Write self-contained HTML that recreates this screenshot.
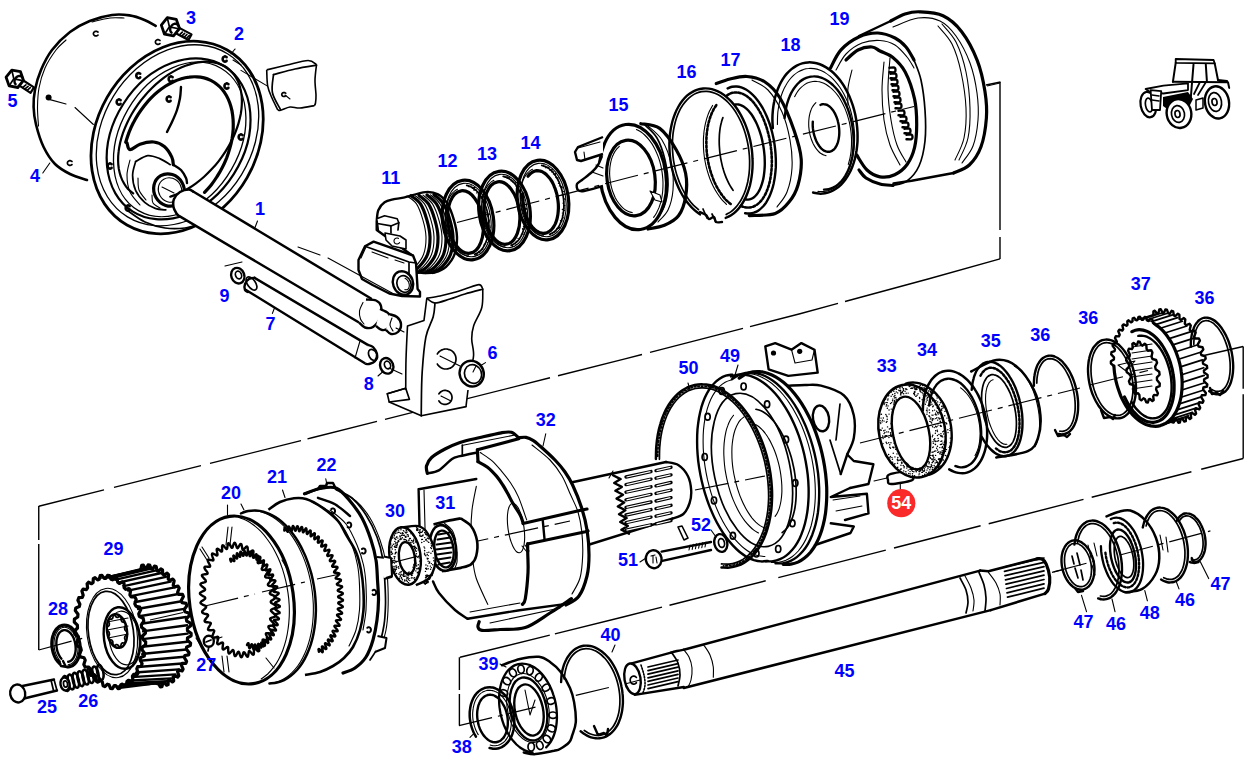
<!DOCTYPE html>
<html><head><meta charset="utf-8"><style>
html,body{margin:0;padding:0;background:#fff;}
body{width:1248px;height:763px;overflow:hidden;}
svg{display:block;}
.lb text{font-family:"Liberation Sans",sans-serif;font-weight:bold;font-size:18px;fill:#0000ff;text-anchor:middle;}
.k{fill:none;stroke:#000;stroke-width:2.4;stroke-linecap:round;stroke-linejoin:round;}
.K{fill:none;stroke:#000;stroke-width:3.2;stroke-linecap:round;stroke-linejoin:round;}
.m{fill:none;stroke:#000;stroke-width:1.7;stroke-linecap:round;stroke-linejoin:round;}
.t{fill:none;stroke:#000;stroke-width:1.1;stroke-linecap:round;stroke-linejoin:round;}
.kw{fill:#fff;stroke:#000;stroke-width:2.4;stroke-linejoin:round;}
.mw{fill:#fff;stroke:#000;stroke-width:1.6;stroke-linejoin:round;}
.tw{fill:#fff;stroke:#000;stroke-width:1.1;stroke-linejoin:round;}
.f{fill:#000;stroke:none;}
.w{fill:#fff;stroke:none;}
.fr{fill:none;stroke:#000;stroke-width:1.3;stroke-dasharray:90 8;}
.fr2{fill:none;stroke:#000;stroke-width:1.4;stroke-linecap:butt;}
.ax{fill:none;stroke:#000;stroke-width:1.2;stroke-dasharray:34 6 5 6;}
.ds{fill:none;stroke:#000;stroke-width:1.1;stroke-dasharray:9 6;}
</style></head><body>
<svg width="1248" height="763" viewBox="0 0 1248 763">
<path class="fr2" d="M986,85L1000.5,82"/>
<path class="fr2" d="M1000,82.0L1000,230.0M1000,237.0L1000,259.0"/>
<path class="fr2" d="M38.8,506.2 L104.0,489.9M114.0,487.4 L201.0,465.6M210.0,463.4 L301.0,440.6M307.5,438.9 L312.0,437.8 L377.0,421.4M385.0,419.4 L550.0,377.8M558.0,375.7 L624.0,359.1 L642.0,354.5M650.0,352.4 L743.0,328.4M750.0,326.6 L800.0,313.7 L838.0,303.4M845.0,301.5 L929.0,278.8 L1000.0,258.8"/>
<path class="fr2" d="M38.75,506.0L38.75,540.0M38.75,544.0L38.75,650.0"/>
<path class="fr2" d="M1202.8,355.7L1243.2,346.5"/>
<path class="fr2" d="M1243.2,346.5L1243.2,388.7M1243.2,394.2L1243.2,458.5"/>
<path class="fr2" d="M460.0,657.3 L549.8,635.1M554.9,633.9 L624.0,616.8 L662.0,607.1M669.5,605.2 L765.7,580.8M778.3,577.6 L800.0,572.1 L885.8,550.1M894.0,548.0 L980.6,525.8M988.7,523.7 L1083.5,499.4M1091.7,497.3 L1191.4,471.8M1201.2,469.3 L1243.2,458.5"/>
<path class="fr2" d="M459.4,657.3L459.4,690.0M459.4,694.0L459.4,725.6"/>
<path class="k" d="M87,180C84.2,179 75.3,176.7 70,174C64.7,171.3 59.4,168.5 55,164C50.6,159.5 46.8,153.6 43.6,147C40.4,140.4 37.7,131.2 36,124.5C34.3,117.8 33.8,112.8 33.6,107C33.4,101.2 33.8,95.9 35,89.7C36.2,83.5 38.2,76.6 41,70C43.8,63.4 47.2,56.3 52,50C56.8,43.7 63.7,36.8 70,32C76.3,27.2 82.7,23.8 89.7,21C96.7,18.2 105.4,15.9 112,15C118.6,14.1 124.1,14.6 129.5,15.4C134.9,16.2 140.1,18.2 144.5,20C148.9,21.8 153.8,25 155.7,26" style="stroke-width:2.6"/>
<path class="t" d="M38.5,126C38.3,122.8 37.4,113.3 37.5,107C37.6,100.7 37.8,94.5 39,88C40.2,81.5 42.2,74.3 45,68C47.8,61.7 52.5,54.7 56,50C59.5,45.3 64.3,41.7 66,40"/>
<path class="t" d="M92,22C95,21.3 104.7,18.7 110,18C115.3,17.3 121.7,18 124,18"/>
<path class="m" d="M98,35.1C97.9,35.1 97.8,35.3 97.7,35.3C97.7,35.4 97.6,35.5 97.5,35.5C97.4,35.6 97.2,35.7 97.1,35.7C97,35.8 96.9,35.8 96.8,35.8C96.7,35.9 96.6,35.9 96.5,35.9C96.3,35.9 96.2,35.9 96.1,35.9C96,35.9 95.8,35.9 95.7,35.9C95.6,35.9 95.5,35.9 95.4,35.9C95.3,35.8 95.1,35.8 95,35.8C94.9,35.7 94.8,35.7 94.7,35.6C94.6,35.6 94.5,35.5 94.4,35.4C94.3,35.4 94.2,35.3 94.1,35.2C94,35.1 94,35.1 93.9,35C93.8,34.9 93.8,34.8 93.7,34.7C93.6,34.6 93.6,34.5 93.6,34.4C93.5,34.3 93.5,34.2 93.5,34.1C93.4,34 93.4,33.9 93.4,33.8C93.4,33.7 93.4,33.5 93.4,33.4C93.4,33.3 93.4,33.2 93.5,33.1C93.5,33 93.5,32.9 93.6,32.8C93.6,32.7 93.6,32.6 93.7,32.5C93.8,32.4 93.8,32.3 93.9,32.2C94,32.1 94,32.1 94.1,32C94.2,31.9 94.3,31.8 94.4,31.8C94.5,31.7 94.6,31.6 94.7,31.6C94.8,31.5 94.9,31.5 95,31.4C95.1,31.4 95.3,31.4 95.4,31.3C95.5,31.3 95.6,31.3 95.7,31.3C95.8,31.3 96,31.3 96.1,31.3C96.2,31.3 96.3,31.3 96.5,31.3C96.6,31.3 96.7,31.3 96.8,31.4C96.9,31.4 97,31.4 97.1,31.5C97.2,31.5 97.4,31.6 97.5,31.7C97.6,31.7 97.7,31.8 97.7,31.9C97.8,31.9 97.9,32.1 98,32.1"/>
<path class="m" d="M160,43.5C159.9,43.5 159.8,43.7 159.7,43.7C159.7,43.8 159.6,43.9 159.5,43.9C159.4,44 159.2,44.1 159.1,44.1C159,44.2 158.9,44.2 158.8,44.2C158.7,44.3 158.6,44.3 158.5,44.3C158.3,44.3 158.2,44.3 158.1,44.3C158,44.3 157.8,44.3 157.7,44.3C157.6,44.3 157.5,44.3 157.4,44.3C157.3,44.2 157.1,44.2 157,44.2C156.9,44.1 156.8,44.1 156.7,44C156.6,44 156.5,43.9 156.4,43.8C156.3,43.8 156.2,43.7 156.1,43.6C156,43.5 156,43.5 155.9,43.4C155.8,43.3 155.8,43.2 155.7,43.1C155.6,43 155.6,42.9 155.6,42.8C155.5,42.7 155.5,42.6 155.5,42.5C155.4,42.4 155.4,42.3 155.4,42.2C155.4,42.1 155.4,41.9 155.4,41.8C155.4,41.7 155.4,41.6 155.5,41.5C155.5,41.4 155.5,41.3 155.6,41.2C155.6,41.1 155.6,41 155.7,40.9C155.8,40.8 155.8,40.7 155.9,40.6C156,40.5 156,40.5 156.1,40.4C156.2,40.3 156.3,40.2 156.4,40.2C156.5,40.1 156.6,40 156.7,40C156.8,39.9 156.9,39.9 157,39.8C157.1,39.8 157.3,39.8 157.4,39.7C157.5,39.7 157.6,39.7 157.7,39.7C157.8,39.7 158,39.7 158.1,39.7C158.2,39.7 158.3,39.7 158.5,39.7C158.6,39.7 158.7,39.7 158.8,39.8C158.9,39.8 159,39.8 159.1,39.9C159.2,39.9 159.4,40 159.5,40.1C159.6,40.1 159.7,40.2 159.7,40.3C159.8,40.3 159.9,40.5 160,40.5"/>
<path class="m" d="M72,164.5C71.9,164.5 71.8,164.7 71.7,164.7C71.7,164.8 71.6,164.9 71.5,164.9C71.4,165 71.2,165.1 71.1,165.1C71,165.2 70.9,165.2 70.8,165.2C70.7,165.3 70.6,165.3 70.5,165.3C70.3,165.3 70.2,165.3 70.1,165.3C70,165.3 69.8,165.3 69.7,165.3C69.6,165.3 69.5,165.3 69.4,165.3C69.3,165.2 69.1,165.2 69,165.2C68.9,165.1 68.8,165.1 68.7,165C68.6,165 68.5,164.9 68.4,164.8C68.3,164.8 68.2,164.7 68.1,164.6C68,164.5 68,164.5 67.9,164.4C67.8,164.3 67.8,164.2 67.7,164.1C67.6,164 67.6,163.9 67.6,163.8C67.5,163.7 67.5,163.6 67.5,163.5C67.4,163.4 67.4,163.3 67.4,163.2C67.4,163.1 67.4,162.9 67.4,162.8C67.4,162.7 67.4,162.6 67.5,162.5C67.5,162.4 67.5,162.3 67.6,162.2C67.6,162.1 67.6,162 67.7,161.9C67.8,161.8 67.8,161.7 67.9,161.6C68,161.5 68,161.5 68.1,161.4C68.2,161.3 68.3,161.2 68.4,161.2C68.5,161.1 68.6,161 68.7,161C68.8,160.9 68.9,160.9 69,160.8C69.1,160.8 69.3,160.8 69.4,160.7C69.5,160.7 69.6,160.7 69.7,160.7C69.8,160.7 70,160.7 70.1,160.7C70.2,160.7 70.3,160.7 70.5,160.7C70.6,160.7 70.7,160.7 70.8,160.8C70.9,160.8 71,160.8 71.1,160.9C71.2,160.9 71.4,161 71.5,161.1C71.6,161.1 71.7,161.2 71.7,161.3C71.8,161.3 71.9,161.5 72,161.5"/>
<circle class="f" cx="48.6" cy="97.6" r="3"/>
<path class="t" d="M50,99.6L66,104 M75,107.5L93.4,124.5"/>
<path class="t" d="M42.8,173L49.8,163"/>
<path class="kw" d="M16.7,83.9 L30.5,92.8 L34,87.4 L20.2,78.5Z" style="stroke-width:2.2"/>
<path class="m" d="M22.8,87.4L25.9,84.9"/>
<path class="m" d="M25.0,88.8L28.1,86.3"/>
<path class="m" d="M27.2,90.3L30.3,87.7"/>
<path class="kw" d="M23.5,80.4 L17.8,87.5 L9.1,85.9 L6.1,77.2 L11.8,70.1 L20.5,71.7Z" style="stroke-width:2.8"/>
<path class="m" d="M11.8,70.1L13.8,78.8 L9.1,85.9 M13.8,78.8L21.5,80.4"/>
<path class="k" d="M15.6,84.2C15.5,84.1 15.3,83.9 15.2,83.8C15.1,83.6 15,83.4 14.9,83.3C14.8,83.1 14.8,82.9 14.7,82.7C14.7,82.5 14.6,82.3 14.6,82.1C14.5,81.9 14.5,81.7 14.5,81.5C14.5,81.3 14.5,81.1 14.5,80.9C14.6,80.7 14.6,80.5 14.7,80.2C14.7,80 14.8,79.8 14.8,79.6C14.9,79.4 15,79.2 15.1,79C15.2,78.8 15.3,78.6 15.4,78.4C15.6,78.2 15.7,78 15.8,77.9C16,77.7 16.1,77.5 16.3,77.4C16.5,77.2 16.6,77.1 16.8,76.9C17,76.8 17.2,76.7 17.3,76.6C17.5,76.5 17.7,76.4 17.9,76.3C18.1,76.2 18.3,76.2 18.5,76.1C18.7,76 18.9,76 19.1,76C19.3,76 19.5,76 19.7,76C19.9,76 20.1,76 20.2,76C20.4,76.1 20.6,76.1 20.8,76.2C21,76.3 21.1,76.3 21.3,76.4C21.4,76.5 21.6,76.6 21.7,76.7C21.9,76.9 22,77 22.1,77.1C22.2,77.3 22.4,77.4 22.4,77.6C22.5,77.8 22.7,78 22.7,78.1"/>
<path class="kw" d="M173,31.8 L188.5,40 L191.5,34.4 L176,26.1Z" style="stroke-width:2.2"/>
<path class="m" d="M179.5,34.9L182.3,32.1"/>
<path class="m" d="M181.8,36.1L184.6,33.3"/>
<path class="m" d="M184.1,37.3L186.9,34.5"/>
<path class="m" d="M186.4,38.5L189.2,35.7"/>
<path class="kw" d="M179.5,28.5 L173.5,35.9 L164.5,34.2 L161.3,25.1 L167.3,17.7 L176.3,19.4Z" style="stroke-width:2.8"/>
<path class="m" d="M167.3,17.7L169.4,26.8 L164.5,34.2 M169.4,26.8L177.5,28.5"/>
<path class="k" d="M171.6,32.7C171.5,32.6 171.3,32.4 171.2,32.3C171,32.1 170.9,32 170.8,31.8C170.7,31.6 170.6,31.4 170.5,31.3C170.4,31.1 170.4,30.9 170.3,30.7C170.3,30.5 170.2,30.2 170.2,30C170.2,29.8 170.2,29.6 170.2,29.4C170.2,29.1 170.2,28.9 170.2,28.7C170.3,28.5 170.3,28.2 170.4,28C170.4,27.8 170.5,27.6 170.6,27.3C170.7,27.1 170.8,26.9 170.9,26.7C171,26.5 171.1,26.3 171.3,26.1C171.4,25.9 171.5,25.7 171.7,25.5C171.8,25.4 172,25.2 172.2,25C172.3,24.9 172.5,24.8 172.7,24.6C172.9,24.5 173.1,24.4 173.3,24.3C173.5,24.2 173.7,24.1 173.9,24C174.1,23.9 174.3,23.9 174.5,23.8C174.7,23.8 174.9,23.8 175.1,23.8C175.3,23.8 175.5,23.8 175.7,23.8C175.9,23.8 176.1,23.8 176.2,23.9C176.4,24 176.6,24 176.8,24.1C177,24.2 177.1,24.3 177.3,24.4C177.4,24.5 177.6,24.6 177.7,24.8C177.9,24.9 178,25.1 178.1,25.2C178.2,25.4 178.4,25.7 178.4,25.7"/>
<path class="t" d="M235,49L231,54"/>
<ellipse class="k" cx="177.1" cy="137.5" rx="100.9" ry="80.7" transform="rotate(-60.2 177.1 137.5)" style="stroke-width:2.8"/>
<ellipse class="t" cx="177.5" cy="135.3" rx="95.7" ry="75.1" transform="rotate(-58.5 177.5 135.3)" style="stroke-width:1.3"/>
<ellipse class="k" cx="178.6" cy="138.9" rx="85.9" ry="65.4" transform="rotate(-57.5 178.6 138.9)" style="stroke-width:2.2"/>
<ellipse class="t" cx="179.7" cy="139.4" rx="82.3" ry="59.8" transform="rotate(-59.9 179.7 139.4)" style="stroke-width:1.3"/>
<path class="k" d="M133.2,193.4C132.4,192.6 129.6,190.6 128,188.9C126.5,187.2 125.1,185.3 123.9,183.2C122.6,181.1 121.6,178.9 120.8,176.5C119.9,174.1 119.3,171.6 118.8,168.9C118.4,166.3 118.1,163.5 118.1,160.6C118.1,157.7 118.2,154.7 118.6,151.7C118.9,148.6 119.5,145.5 120.2,142.4C121,139.2 121.9,136 123,132.8C124.2,129.6 125.5,126.4 127,123.2C128.5,120 130.1,116.8 131.9,113.7C133.7,110.6 135.7,107.6 137.8,104.6C139.9,101.6 142.2,98.7 144.6,96C146.9,93.2 149.4,90.5 152,88C154.5,85.5 157.2,83.1 159.9,80.9C162.6,78.7 165.4,76.6 168.3,74.7C171.1,72.8 174,71.1 176.8,69.6C179.7,68.1 182.6,66.8 185.5,65.7C188.3,64.7 191.2,63.8 194,63.1C196.8,62.4 199.6,62 202.3,61.8C204.9,61.6 207.6,61.6 210.1,61.8C212.6,62 215,62.5 217.3,63.1C219.6,63.8 221.8,64.7 223.8,65.8C225.9,66.9 227.8,68.2 229.5,69.7C231.2,71.2 232.8,73 234.2,74.8C235.6,76.7 236.8,78.8 237.8,81C238.9,83.2 239.7,85.7 240.3,88.2C241,90.7 241.4,93.4 241.7,96.1C241.9,98.9 242,101.8 241.8,104.8C241.7,107.8 241.3,110.8 240.8,113.9C240.2,117 239.4,120.2 238.5,123.4C237.6,126.6 236.4,129.8 235.1,133C233.8,136.2 232.3,139.4 230.7,142.6C229,145.7 227.2,148.8 225.2,151.9C223.3,154.9 221.1,157.9 218.9,160.8C216.7,163.7 214.3,166.5 211.8,169.1C209.4,171.7 206.8,174.3 204.1,176.7C201.5,179 198.7,181.3 196,183.3C193.2,185.4 190.3,187.3 187.5,189C184.6,190.7 181.7,192.2 178.8,193.5C176,194.8 171.7,196.2 170.2,196.7" style="stroke-width:2.2"/>
<path class="K" d="M125.7,142.3C126.2,140.7 127.7,135.8 128.9,132.6C130.2,129.4 131.6,126.2 133.2,123.1C134.7,120 136.5,117 138.3,114.1C140.2,111.2 142.2,108.4 144.3,105.7C146.4,103.1 148.6,100.5 150.9,98.2C153.2,95.8 155.6,93.6 158.1,91.6C160.6,89.5 163.1,87.7 165.7,86C168.3,84.4 170.9,83 173.5,81.7C176.1,80.5 178.8,79.5 181.4,78.7C184.1,77.9 186.7,77.4 189.3,77.1C191.9,76.7 194.4,76.7 196.9,76.8C199.4,76.9 201.8,77.3 204.1,77.9C206.5,78.5 208.7,79.4 210.8,80.4C212.9,81.5 215,82.8 216.8,84.3C218.7,85.7 220.5,87.5 222.1,89.3C223.7,91.2 225.1,93.3 226.4,95.5C227.7,97.8 228.8,100.2 229.7,102.8C230.6,105.3 231.4,108 232,110.9C232.5,113.7 232.9,116.6 233.1,119.6C233.3,122.7 233.3,125.8 233.2,129C233,132.1 232.6,135.4 232.1,138.6C231.5,141.8 230.8,145.1 229.8,148.4C228.9,151.6 227.8,154.9 226.6,158.1C225.3,161.3 223.9,164.5 222.3,167.5C220.7,170.6 219,173.6 217.1,176.5C215.3,179.4 213.3,182.2 211.2,184.9C209.1,187.5 205.6,191.2 204.5,192.4"/>
<path class="k" d="M140.2,77.4C140.2,77.5 140.1,77.6 140,77.7C139.9,77.8 139.8,77.8 139.7,77.9C139.6,77.9 139.5,78 139.4,78C139.3,78.1 139.2,78.1 139.1,78.1C139,78.2 138.9,78.2 138.8,78.2C138.7,78.2 138.5,78.2 138.4,78.2C138.3,78.2 138.2,78.2 138.1,78.1C138,78.1 137.9,78.1 137.8,78C137.7,78 137.6,77.9 137.5,77.9C137.4,77.8 137.3,77.8 137.2,77.7C137.1,77.6 137.1,77.5 137,77.4C136.9,77.4 136.8,77.3 136.8,77.2C136.7,77.1 136.6,77 136.6,76.8C136.5,76.7 136.5,76.6 136.4,76.5C136.4,76.4 136.4,76.3 136.4,76.2C136.3,76 136.3,75.9 136.3,75.8C136.3,75.7 136.3,75.5 136.3,75.4C136.3,75.3 136.3,75.2 136.4,75C136.4,74.9 136.4,74.8 136.4,74.7C136.5,74.6 136.5,74.5 136.6,74.4C136.6,74.2 136.7,74.1 136.8,74C136.8,73.9 136.9,73.8 137,73.8C137.1,73.7 137.1,73.6 137.2,73.5C137.3,73.4 137.4,73.4 137.5,73.3C137.6,73.3 137.7,73.2 137.8,73.2C137.9,73.1 138,73.1 138.1,73.1C138.2,73 138.3,73 138.4,73C138.5,73 138.7,73 138.8,73C138.9,73 139,73 139.1,73.1C139.2,73.1 139.3,73.1 139.4,73.2C139.5,73.2 139.6,73.3 139.7,73.3C139.8,73.4 139.9,73.4 140,73.5C140.1,73.6 140.2,73.7 140.2,73.8" style="stroke-width:2.6"/>
<path class="k" d="M120.6,103.8C120.6,103.9 120.5,104 120.4,104.1C120.3,104.2 120.2,104.2 120.1,104.3C120,104.3 119.9,104.4 119.8,104.4C119.7,104.5 119.6,104.5 119.5,104.5C119.4,104.6 119.3,104.6 119.2,104.6C119.1,104.6 118.9,104.6 118.8,104.6C118.7,104.6 118.6,104.6 118.5,104.5C118.4,104.5 118.3,104.5 118.2,104.4C118.1,104.4 118,104.3 117.9,104.3C117.8,104.2 117.7,104.2 117.6,104.1C117.5,104 117.5,103.9 117.4,103.8C117.3,103.8 117.2,103.7 117.2,103.6C117.1,103.5 117,103.4 117,103.2C116.9,103.1 116.9,103 116.8,102.9C116.8,102.8 116.8,102.7 116.8,102.6C116.7,102.4 116.7,102.3 116.7,102.2C116.7,102.1 116.7,101.9 116.7,101.8C116.7,101.7 116.7,101.6 116.8,101.4C116.8,101.3 116.8,101.2 116.8,101.1C116.9,101 116.9,100.9 117,100.8C117,100.6 117.1,100.5 117.2,100.4C117.2,100.3 117.3,100.2 117.4,100.2C117.5,100.1 117.5,100 117.6,99.9C117.7,99.8 117.8,99.8 117.9,99.7C118,99.7 118.1,99.6 118.2,99.6C118.3,99.5 118.4,99.5 118.5,99.5C118.6,99.4 118.7,99.4 118.8,99.4C118.9,99.4 119.1,99.4 119.2,99.4C119.3,99.4 119.4,99.4 119.5,99.5C119.6,99.5 119.7,99.5 119.8,99.6C119.9,99.6 120,99.7 120.1,99.7C120.2,99.8 120.3,99.8 120.4,99.9C120.5,100 120.6,100.1 120.6,100.2" style="stroke-width:2.6"/>
<path class="k" d="M226.6,60.8C226.6,60.9 226.5,61 226.4,61.1C226.3,61.2 226.2,61.2 226.1,61.3C226,61.3 225.9,61.4 225.8,61.4C225.7,61.5 225.6,61.5 225.5,61.5C225.4,61.6 225.3,61.6 225.2,61.6C225.1,61.6 224.9,61.6 224.8,61.6C224.7,61.6 224.6,61.6 224.5,61.5C224.4,61.5 224.3,61.5 224.2,61.4C224.1,61.4 224,61.3 223.9,61.3C223.8,61.2 223.7,61.2 223.6,61.1C223.5,61 223.5,60.9 223.4,60.8C223.3,60.8 223.2,60.7 223.2,60.6C223.1,60.5 223,60.4 223,60.2C222.9,60.1 222.9,60 222.8,59.9C222.8,59.8 222.8,59.7 222.8,59.6C222.7,59.4 222.7,59.3 222.7,59.2C222.7,59.1 222.7,58.9 222.7,58.8C222.7,58.7 222.7,58.6 222.8,58.4C222.8,58.3 222.8,58.2 222.8,58.1C222.9,58 222.9,57.9 223,57.8C223,57.6 223.1,57.5 223.2,57.4C223.2,57.3 223.3,57.2 223.4,57.2C223.5,57.1 223.5,57 223.6,56.9C223.7,56.8 223.8,56.8 223.9,56.7C224,56.7 224.1,56.6 224.2,56.6C224.3,56.5 224.4,56.5 224.5,56.5C224.6,56.4 224.7,56.4 224.8,56.4C224.9,56.4 225.1,56.4 225.2,56.4C225.3,56.4 225.4,56.4 225.5,56.5C225.6,56.5 225.7,56.5 225.8,56.6C225.9,56.6 226,56.7 226.1,56.7C226.2,56.8 226.3,56.8 226.4,56.9C226.5,57 226.6,57.1 226.6,57.2" style="stroke-width:2.6"/>
<path class="k" d="M228.4,87.8C228.4,87.9 228.3,88 228.2,88.1C228.1,88.2 228,88.2 227.9,88.3C227.8,88.3 227.7,88.4 227.6,88.4C227.5,88.5 227.4,88.5 227.3,88.5C227.2,88.6 227.1,88.6 227,88.6C226.9,88.6 226.7,88.6 226.6,88.6C226.5,88.6 226.4,88.6 226.3,88.5C226.2,88.5 226.1,88.5 226,88.4C225.9,88.4 225.8,88.3 225.7,88.3C225.6,88.2 225.5,88.2 225.4,88.1C225.3,88 225.3,87.9 225.2,87.8C225.1,87.8 225,87.7 225,87.6C224.9,87.5 224.8,87.4 224.8,87.2C224.7,87.1 224.7,87 224.6,86.9C224.6,86.8 224.6,86.7 224.6,86.6C224.5,86.4 224.5,86.3 224.5,86.2C224.5,86.1 224.5,85.9 224.5,85.8C224.5,85.7 224.5,85.6 224.6,85.4C224.6,85.3 224.6,85.2 224.6,85.1C224.7,85 224.7,84.9 224.8,84.8C224.8,84.6 224.9,84.5 225,84.4C225,84.3 225.1,84.2 225.2,84.2C225.3,84.1 225.3,84 225.4,83.9C225.5,83.8 225.6,83.8 225.7,83.7C225.8,83.7 225.9,83.6 226,83.6C226.1,83.5 226.2,83.5 226.3,83.5C226.4,83.4 226.5,83.4 226.6,83.4C226.7,83.4 226.9,83.4 227,83.4C227.1,83.4 227.2,83.4 227.3,83.5C227.4,83.5 227.5,83.5 227.6,83.6C227.7,83.6 227.8,83.7 227.9,83.7C228,83.8 228.1,83.8 228.2,83.9C228.3,84 228.4,84.1 228.4,84.2" style="stroke-width:2.6"/>
<path class="k" d="M172.6,80.8C172.6,80.9 172.5,81 172.4,81.1C172.3,81.2 172.2,81.2 172.1,81.3C172,81.3 171.9,81.4 171.8,81.4C171.7,81.5 171.6,81.5 171.5,81.5C171.4,81.6 171.3,81.6 171.2,81.6C171.1,81.6 170.9,81.6 170.8,81.6C170.7,81.6 170.6,81.6 170.5,81.5C170.4,81.5 170.3,81.5 170.2,81.4C170.1,81.4 170,81.3 169.9,81.3C169.8,81.2 169.7,81.2 169.6,81.1C169.5,81 169.5,80.9 169.4,80.8C169.3,80.8 169.2,80.7 169.2,80.6C169.1,80.5 169,80.4 169,80.2C168.9,80.1 168.9,80 168.8,79.9C168.8,79.8 168.8,79.7 168.8,79.6C168.7,79.4 168.7,79.3 168.7,79.2C168.7,79.1 168.7,78.9 168.7,78.8C168.7,78.7 168.7,78.6 168.8,78.4C168.8,78.3 168.8,78.2 168.8,78.1C168.9,78 168.9,77.9 169,77.8C169,77.6 169.1,77.5 169.2,77.4C169.2,77.3 169.3,77.2 169.4,77.2C169.5,77.1 169.5,77 169.6,76.9C169.7,76.8 169.8,76.8 169.9,76.7C170,76.7 170.1,76.6 170.2,76.6C170.3,76.5 170.4,76.5 170.5,76.5C170.6,76.4 170.7,76.4 170.8,76.4C170.9,76.4 171.1,76.4 171.2,76.4C171.3,76.4 171.4,76.4 171.5,76.5C171.6,76.5 171.7,76.5 171.8,76.6C171.9,76.6 172,76.7 172.1,76.7C172.2,76.8 172.3,76.8 172.4,76.9C172.5,77 172.6,77.1 172.6,77.2" style="stroke-width:2.6"/>
<path class="k" d="M242.6,138.8C242.6,138.9 242.5,139 242.4,139.1C242.3,139.2 242.2,139.2 242.1,139.3C242,139.3 241.9,139.4 241.8,139.4C241.7,139.5 241.6,139.5 241.5,139.5C241.4,139.6 241.3,139.6 241.2,139.6C241.1,139.6 240.9,139.6 240.8,139.6C240.7,139.6 240.6,139.6 240.5,139.5C240.4,139.5 240.3,139.5 240.2,139.4C240.1,139.4 240,139.3 239.9,139.3C239.8,139.2 239.7,139.2 239.6,139.1C239.5,139 239.5,138.9 239.4,138.8C239.3,138.8 239.2,138.7 239.2,138.6C239.1,138.5 239,138.4 239,138.2C238.9,138.1 238.9,138 238.8,137.9C238.8,137.8 238.8,137.7 238.8,137.6C238.7,137.4 238.7,137.3 238.7,137.2C238.7,137.1 238.7,136.9 238.7,136.8C238.7,136.7 238.7,136.6 238.8,136.4C238.8,136.3 238.8,136.2 238.8,136.1C238.9,136 238.9,135.9 239,135.8C239,135.6 239.1,135.5 239.2,135.4C239.2,135.3 239.3,135.2 239.4,135.2C239.5,135.1 239.5,135 239.6,134.9C239.7,134.8 239.8,134.8 239.9,134.7C240,134.7 240.1,134.6 240.2,134.6C240.3,134.5 240.4,134.5 240.5,134.5C240.6,134.4 240.7,134.4 240.8,134.4C240.9,134.4 241.1,134.4 241.2,134.4C241.3,134.4 241.4,134.4 241.5,134.5C241.6,134.5 241.7,134.5 241.8,134.6C241.9,134.6 242,134.7 242.1,134.7C242.2,134.8 242.3,134.8 242.4,134.9C242.5,135 242.6,135.1 242.6,135.2" style="stroke-width:2.6"/>
<path class="k" d="M111.6,167.8C111.6,167.9 111.5,168 111.4,168.1C111.3,168.2 111.2,168.2 111.1,168.3C111,168.3 110.9,168.4 110.8,168.4C110.7,168.5 110.6,168.5 110.5,168.5C110.4,168.6 110.3,168.6 110.2,168.6C110.1,168.6 109.9,168.6 109.8,168.6C109.7,168.6 109.6,168.6 109.5,168.5C109.4,168.5 109.3,168.5 109.2,168.4C109.1,168.4 109,168.3 108.9,168.3C108.8,168.2 108.7,168.2 108.6,168.1C108.5,168 108.5,167.9 108.4,167.8C108.3,167.8 108.2,167.7 108.2,167.6C108.1,167.5 108,167.4 108,167.2C107.9,167.1 107.9,167 107.8,166.9C107.8,166.8 107.8,166.7 107.8,166.6C107.7,166.4 107.7,166.3 107.7,166.2C107.7,166.1 107.7,165.9 107.7,165.8C107.7,165.7 107.7,165.6 107.8,165.4C107.8,165.3 107.8,165.2 107.8,165.1C107.9,165 107.9,164.9 108,164.8C108,164.6 108.1,164.5 108.2,164.4C108.2,164.3 108.3,164.2 108.4,164.2C108.5,164.1 108.5,164 108.6,163.9C108.7,163.8 108.8,163.8 108.9,163.7C109,163.7 109.1,163.6 109.2,163.6C109.3,163.5 109.4,163.5 109.5,163.5C109.6,163.4 109.7,163.4 109.8,163.4C109.9,163.4 110.1,163.4 110.2,163.4C110.3,163.4 110.4,163.4 110.5,163.5C110.6,163.5 110.7,163.5 110.8,163.6C110.9,163.6 111,163.7 111.1,163.7C111.2,163.8 111.3,163.8 111.4,163.9C111.5,164 111.6,164.1 111.6,164.2" style="stroke-width:2.6"/>
<path class="k" d="M129.6,209.8C129.6,209.9 129.5,210 129.4,210.1C129.3,210.2 129.2,210.2 129.1,210.3C129,210.3 128.9,210.4 128.8,210.4C128.7,210.5 128.6,210.5 128.5,210.5C128.4,210.6 128.3,210.6 128.2,210.6C128.1,210.6 127.9,210.6 127.8,210.6C127.7,210.6 127.6,210.6 127.5,210.5C127.4,210.5 127.3,210.5 127.2,210.4C127.1,210.4 127,210.3 126.9,210.3C126.8,210.2 126.7,210.2 126.6,210.1C126.5,210 126.5,209.9 126.4,209.8C126.3,209.8 126.2,209.7 126.2,209.6C126.1,209.5 126,209.4 126,209.2C125.9,209.1 125.9,209 125.8,208.9C125.8,208.8 125.8,208.7 125.8,208.6C125.7,208.4 125.7,208.3 125.7,208.2C125.7,208.1 125.7,207.9 125.7,207.8C125.7,207.7 125.7,207.6 125.8,207.4C125.8,207.3 125.8,207.2 125.8,207.1C125.9,207 125.9,206.9 126,206.8C126,206.6 126.1,206.5 126.2,206.4C126.2,206.3 126.3,206.2 126.4,206.2C126.5,206.1 126.5,206 126.6,205.9C126.7,205.8 126.8,205.8 126.9,205.7C127,205.7 127.1,205.6 127.2,205.6C127.3,205.5 127.4,205.5 127.5,205.5C127.6,205.4 127.7,205.4 127.8,205.4C127.9,205.4 128.1,205.4 128.2,205.4C128.3,205.4 128.4,205.4 128.5,205.5C128.6,205.5 128.7,205.5 128.8,205.6C128.9,205.6 129,205.7 129.1,205.7C129.2,205.8 129.3,205.8 129.4,205.9C129.5,206 129.6,206.1 129.6,206.2" style="stroke-width:2.6"/>
<path class="k" d="M170.6,100.8C170.6,100.9 170.5,101 170.4,101.1C170.3,101.2 170.2,101.2 170.1,101.3C170,101.3 169.9,101.4 169.8,101.4C169.7,101.5 169.6,101.5 169.5,101.5C169.4,101.6 169.3,101.6 169.2,101.6C169.1,101.6 168.9,101.6 168.8,101.6C168.7,101.6 168.6,101.6 168.5,101.5C168.4,101.5 168.3,101.5 168.2,101.4C168.1,101.4 168,101.3 167.9,101.3C167.8,101.2 167.7,101.2 167.6,101.1C167.5,101 167.5,100.9 167.4,100.8C167.3,100.8 167.2,100.7 167.2,100.6C167.1,100.5 167,100.4 167,100.2C166.9,100.1 166.9,100 166.8,99.9C166.8,99.8 166.8,99.7 166.8,99.6C166.7,99.4 166.7,99.3 166.7,99.2C166.7,99.1 166.7,98.9 166.7,98.8C166.7,98.7 166.7,98.6 166.8,98.4C166.8,98.3 166.8,98.2 166.8,98.1C166.9,98 166.9,97.9 167,97.8C167,97.6 167.1,97.5 167.2,97.4C167.2,97.3 167.3,97.2 167.4,97.2C167.5,97.1 167.5,97 167.6,96.9C167.7,96.8 167.8,96.8 167.9,96.7C168,96.7 168.1,96.6 168.2,96.6C168.3,96.5 168.4,96.5 168.5,96.5C168.6,96.4 168.7,96.4 168.8,96.4C168.9,96.4 169.1,96.4 169.2,96.4C169.3,96.4 169.4,96.4 169.5,96.5C169.6,96.5 169.7,96.5 169.8,96.6C169.9,96.6 170,96.7 170.1,96.7C170.2,96.8 170.3,96.8 170.4,96.9C170.5,97 170.6,97.1 170.6,97.2" style="stroke-width:2.6"/>
<path class="k" d="M181,87C180.8,88.8 180.7,94.2 180,98C179.3,101.8 178.3,106 177,110C175.7,114 173.7,118.3 172,122C170.3,125.7 167.8,130.3 167,132"/>
<path class="K" d="M127,143C127.5,144.1 127.8,149.4 130,149.6C132.2,149.8 136.1,145.6 140,144.3C143.9,143 149.6,141.6 153.7,142C157.8,142.4 161.3,144.1 164.3,146.6C167.3,149.1 170.3,154.1 171.8,157.1C173.3,160.1 173.1,163.4 173.3,164.7"/>
<path class="k" d="M173.3,164.7C174.6,165.6 178.9,167.8 181,170C183.1,172.2 185,175.8 186,178C187,180.2 186.8,182.2 187,183"/>
<path class="m" d="M135.6,161.6C137.6,160.6 143.7,156.1 147.7,155.6C151.7,155.1 155.9,157.1 159.7,158.6C163.5,160.1 168.5,163.7 170.3,164.7"/>
<path class="m" d="M135.6,161.6C135.1,163.9 132.6,170.4 132.6,175.2C132.6,180 133.6,185.8 135.6,190.3C137.6,194.8 141.4,199.3 144.7,202.3C148,205.3 151.7,207.1 155.2,208.4C158.7,209.7 164,209.7 165.8,209.9"/>
<path class="t" d="M130,160C129.5,162.5 127,169.7 127,175C127,180.3 127.8,187 130,192C132.2,197 138.3,202.8 140,205"/>
<path class="t" d="M138,178C138.2,180 137.7,186.3 139,190C140.3,193.7 144.8,198.3 146,200"/>
<ellipse class="K" cx="169" cy="190" rx="15" ry="16.5" transform="rotate(-30 169 190)"/>
<ellipse class="t" cx="170" cy="190" rx="11.5" ry="12.5" transform="rotate(-30 170 190)"/>
<path class="t" d="M152,195C152.2,196.3 151.7,200.8 153,203C154.3,205.2 158.8,207.2 160,208"/>
<path class="t" d="M162,187L174,193"/>
<path class="m" d="M128,211C130.8,212.8 138.8,219.2 145,222C151.2,224.8 158.3,227 165,228C171.7,229 179.2,228.7 185,228C190.8,227.3 197.5,224.7 200,224"/>
<path class="t" d="M180,216L195,213"/>
<path class="mw" d="M266.7,69.9C270.1,69.1 280.1,66.6 287,65C293.9,63.4 303.2,60.5 308.1,60.5C313,60.5 315.1,64 316.5,64.7 M316.5,64.7C316.2,67.2 315.1,75 315,80C314.9,85 315.9,91.2 316,95C316.1,98.8 315.8,101.2 315.5,103C315.2,104.8 314.6,105.2 314.4,105.6 M314.4,105.6C312,106 304.1,107.8 300,108C295.9,108.2 293.2,106.6 290,107C286.8,107.4 282.9,109.8 280.8,110.3C278.8,110.8 278.2,109.9 277.7,109.8 M277.7,109.8C276.8,107.8 273.7,101.9 272,98C270.3,94.1 268.6,90.9 267.7,86.2C266.8,81.5 266.9,72.6 266.7,69.9"/>
<path class="m" d="M273.5,74.6C277.1,73.7 287.8,70.6 295,69C302.2,67.4 312.9,65.8 316.5,65.2"/>
<path class="m" d="M273.5,74.6C273.3,77.6 271.3,86.7 272.4,92.5C273.5,98.3 279,106.4 280.3,109.2"/>
<path class="m" d="M285.7,95.8C285.6,95.8 285.5,95.9 285.5,96C285.4,96 285.3,96.1 285.2,96.1C285.1,96.2 285.1,96.2 285,96.3C284.9,96.3 284.8,96.4 284.7,96.4C284.6,96.4 284.5,96.4 284.4,96.4C284.3,96.5 284.2,96.5 284.1,96.5C284,96.5 283.9,96.5 283.8,96.5C283.7,96.5 283.6,96.4 283.5,96.4C283.4,96.4 283.3,96.4 283.2,96.3C283.1,96.3 283,96.3 282.9,96.2C282.8,96.2 282.7,96.1 282.6,96.1C282.6,96 282.5,95.9 282.4,95.9C282.3,95.8 282.3,95.7 282.2,95.7C282.2,95.6 282.1,95.5 282.1,95.4C282,95.3 282,95.3 281.9,95.2C281.9,95.1 281.9,95 281.8,94.9C281.8,94.8 281.8,94.7 281.8,94.6C281.8,94.5 281.8,94.5 281.8,94.4C281.8,94.3 281.8,94.2 281.8,94.1C281.9,94 281.9,93.9 281.9,93.8C282,93.7 282,93.7 282.1,93.6C282.1,93.5 282.2,93.4 282.2,93.3C282.3,93.3 282.3,93.2 282.4,93.1C282.5,93.1 282.6,93 282.6,92.9C282.7,92.9 282.8,92.8 282.9,92.8C283,92.7 283.1,92.7 283.2,92.7C283.3,92.6 283.4,92.6 283.5,92.6C283.6,92.6 283.7,92.5 283.8,92.5C283.9,92.5 284,92.5 284.1,92.5C284.2,92.5 284.3,92.5 284.4,92.6C284.5,92.6 284.6,92.6 284.7,92.6C284.8,92.6 284.9,92.7 285,92.7C285.1,92.8 285.1,92.8 285.2,92.9C285.3,92.9 285.4,93 285.5,93C285.5,93.1 285.6,93.2 285.7,93.2"/>
<path class="t" d="M285,95L290,99"/>
<path class="t" d="M241,70.4L266.7,85.6"/>
<path class="t" d="M241,65L233,60"/>
<path class="w" d="M193.6,191.8L371,298.5 L359,322.5 L179.4,216.2 L174,207 L176,197Z"/>
<path class="kw" d="M193.6,191.8C192.8,191.4 191.2,189.4 188.9,189.4C186.6,189.4 182.5,190.4 180,192C177.5,193.6 175.1,196.5 174,199C172.9,201.5 173.1,204.6 173.5,207C173.9,209.4 175.5,212 176.5,213.5C177.5,215 178.9,215.8 179.4,216.2L359,322.5" style="stroke-width:2.5"/>
<path class="k" d="M193.6,191.8L371,298.5" style="stroke-width:2.5"/>
<path class="t" d="M257.5,221L255,227.5"/>
<path class="kw" d="M366,299.5C367.7,299.7 373.5,299.4 376,300.5C378.5,301.6 380.3,303.1 381,306C381.7,308.9 381.3,314.5 380,318C378.7,321.5 375.5,325.4 373,327C370.5,328.6 367.3,328.2 365,327.5C362.7,326.8 360,323.3 359,322.5"/>
<path class="t" d="M363,302.5C362.4,303.9 359.9,308.2 359.5,311C359.1,313.8 359.8,316.8 360.5,319C361.2,321.2 363.4,323.2 364,324"/>
<path class="kw" d="M380,309C381.3,309.7 386.2,311.2 388,313C389.8,314.8 391,317.5 391,320C391,322.5 389.5,326.3 388,328C386.5,329.7 384,330.3 382,330C380,329.7 377,326.7 376,326"/>
<path class="kw" d="M389,314C390.3,314.5 395,315.3 397,317C399,318.7 400.8,321.5 401,324C401.2,326.5 399.7,330.3 398,332C396.3,333.7 393,334.3 391,334C389,333.7 386.8,330.7 386,330"/>
<path class="t" d="M392,318C391.7,319.2 389.8,322.8 390,325C390.2,327.2 392.5,330 393,331"/>
<path class="t" d="M396,328L404,332"/>
<path class="k" d="M254.5,277.8L367.8,344.9 M246,290L365.7,363.7"/>
<path class="k" d="M254.5,277.8C253.6,278 250.6,278 249,279C247.4,280 245.7,282.2 245,284C244.3,285.8 244.5,288.7 245,290C245.5,291.3 247.5,291.7 248,292"/>
<ellipse class="m" cx="251.5" cy="283.5" rx="4" ry="7.5" transform="rotate(-35 251.5 283.5)"/>
<path class="kw" d="M367.8,344.9C368.7,345.2 371.5,345.5 373,347C374.5,348.5 376.7,351.7 377,354C377.3,356.3 376.3,359.3 375,361C373.7,362.7 370.6,363.6 369,364C367.4,364.4 366.2,363.8 365.7,363.7"/>
<ellipse class="m" cx="373" cy="355" rx="4" ry="6" transform="rotate(-30 373 355)"/>
<path class="t" d="M360,341L355,358"/>
<path class="t" d="M272.4,313.4L274.5,308"/>
<ellipse class="k" cx="237.8" cy="275.7" rx="6.5" ry="8" transform="rotate(-20 237.8 275.7)"/>
<ellipse class="m" cx="238.5" cy="275" rx="3" ry="4" transform="rotate(-20 238.5 275)"/>
<path class="t" d="M225,266L242,262"/>
<ellipse class="k" cx="386.7" cy="365.8" rx="6.5" ry="8" transform="rotate(-20 386.7 365.8)"/>
<ellipse class="m" cx="387.5" cy="365" rx="3" ry="4" transform="rotate(-20 387.5 365)"/>
<path class="t" d="M378,376L382.5,372 M389,368L402,374"/>
<path class="kw" d="M376.7,221.2C377,219.4 377,213.3 378.3,210.2C379.6,207 382,204.1 384.6,202.3C387.2,200.5 390.9,200 394,199.2C397.1,198.4 398.2,198.8 403.5,197.6C408.8,196.4 419.8,192.6 425.5,192.1C431.2,191.6 434.3,192.4 438,194.4C441.7,196.4 444.9,199.7 447.5,203.9C450.1,208.1 452.2,214.1 453.8,219.6C455.4,225.1 456.9,231.1 457,236.9C457.1,242.7 456.4,249.2 454.6,254.2C452.8,259.2 449.3,263.8 446,266.8C442.7,269.8 438.7,271.3 435,272.3C431.3,273.3 425.8,272.9 424,273L414,272 L413,256 L376.7,230 Z" style="stroke-width:2.4"/>
<path class="K" d="M434,194.6C435.6,196.2 440.9,199.7 443.5,203.9C446.1,208.1 448.2,214.1 449.8,219.6C451.4,225.1 452.9,231.1 453,236.9C453.1,242.7 452.4,249.2 450.6,254.2C448.8,259.2 444.9,263.8 442,266.8C439.1,269.9 434.5,271.6 433,272.5"/>
<path class="t" d="M430.5,194.8C432.1,196.3 437.4,199.8 440,203.9C442.6,208 444.7,214.1 446.3,219.6C447.9,225.1 449.4,231.1 449.5,236.9C449.6,242.7 448.9,249.2 447.1,254.2C445.3,259.2 441.4,263.8 438.5,266.8C435.6,269.9 431,271.6 429.5,272.5"/>
<path class="K" d="M427,195C428.6,196.4 433.9,199.8 436.5,203.9C439.1,208 441.2,214.1 442.8,219.6C444.4,225.1 445.9,231.1 446,236.9C446.1,242.7 445.4,249.2 443.6,254.2C441.8,259.2 437.9,263.8 435,266.8C432.1,269.9 427.5,271.6 426,272.5"/>
<path class="t" d="M423,195.2C424.6,196.6 429.9,199.8 432.5,203.9C435.1,208 437.2,214.1 438.8,219.6C440.4,225.1 441.9,231.1 442,236.9C442.1,242.7 441.4,249.2 439.6,254.2C437.8,259.2 433.9,263.8 431,266.8C428.1,269.9 423.5,271.6 422,272.5"/>
<path class="K" d="M419,195.3C420.6,196.8 425.9,199.9 428.5,203.9C431.1,207.9 433.2,214.1 434.8,219.6C436.4,225.1 437.9,231.1 438,236.9C438.1,242.7 437.4,249.2 435.6,254.2C433.8,259.2 429.9,263.8 427,266.8C424.1,269.9 419.5,271.6 418,272.5"/>
<path class="t" d="M415,195.6C416.6,196.9 421.9,199.9 424.5,203.9C427.1,207.9 429.2,214.1 430.8,219.6C432.4,225.1 433.9,231.1 434,236.9C434.1,242.7 433.4,249.2 431.6,254.2C429.8,259.2 425.9,263.8 423,266.8C420.1,269.9 415.5,271.6 414,272.5"/>
<path class="K" d="M411,195.8C412.6,197.1 417.9,199.9 420.5,203.9C423.1,207.9 425.2,214.1 426.8,219.6C428.4,225.1 429.9,231.1 430,236.9C430.1,242.7 429.4,249.2 427.6,254.2C425.8,259.2 421.9,263.8 419,266.8C416.1,269.9 411.5,271.6 410,272.5"/>
<path class="t" d="M407,196C408.6,197.3 413.9,200 416.5,203.9C419.1,207.8 421.2,214.1 422.8,219.6C424.4,225.1 425.9,231.1 426,236.9C426.1,242.7 425.4,249.2 423.6,254.2C421.8,259.2 417.9,263.8 415,266.8C412.1,269.9 407.5,271.6 406,272.5"/>
<path class="mw" d="M376.7,218.8 L384.6,215.7 L397.2,218.8 L398.8,222.7 L390.9,225.9 L377.5,223.5Z"/>
<path class="m" d="M377.5,223.5L378.3,230.6 M390.9,225.9L391,233 M398.8,222.7L398,230"/>
<path class="mw" d="M385,233 L400,236 L406,240 L406,249 L392,246 L386,240Z"/>
<path class="t" d="M399.6,242.5C399.6,242.6 399.4,242.7 399.4,242.9C399.3,243 399.2,243.1 399.1,243.2C399,243.3 398.9,243.4 398.7,243.4C398.6,243.5 398.5,243.6 398.4,243.7C398.2,243.7 398.1,243.8 398,243.8C397.8,243.9 397.7,243.9 397.6,243.9C397.4,244 397.3,244 397.1,244C397,244 396.9,244 396.7,244C396.6,244 396.4,243.9 396.3,243.9C396.2,243.9 396,243.8 395.9,243.8C395.8,243.7 395.6,243.7 395.5,243.6C395.4,243.5 395.3,243.4 395.1,243.4C395,243.3 394.9,243.2 394.8,243.1C394.7,243 394.6,242.9 394.6,242.7C394.5,242.6 394.4,242.5 394.3,242.4C394.3,242.2 394.2,242.1 394.2,242C394.1,241.8 394.1,241.7 394.1,241.6C394,241.4 394,241.3 394,241.1C394,241 394,240.9 394,240.7C394,240.6 394.1,240.4 394.1,240.3C394.1,240.2 394.2,240 394.2,239.9C394.3,239.8 394.3,239.6 394.4,239.5C394.5,239.4 394.6,239.3 394.6,239.1C394.7,239 394.8,238.9 394.9,238.8C395,238.7 395.1,238.6 395.3,238.6C395.4,238.5 395.5,238.4 395.6,238.3C395.8,238.3 395.9,238.2 396,238.2C396.2,238.1 396.3,238.1 396.4,238.1C396.6,238 396.7,238 396.9,238C397,238 397.1,238 397.3,238C397.4,238 397.6,238.1 397.7,238.1C397.8,238.1 398,238.2 398.1,238.2C398.2,238.3 398.4,238.4 398.5,238.4"/>
<path class="kw" d="M365,246.3 L373.6,241.6 L413,255.5 L416,263 L417.6,289 L420,292 L420,296.5 L402,296 L389.3,293.5 L372.6,285 L362,279 L358.5,270 L358.5,260Z"/>
<path class="m" d="M365,246.3L409,262 L416,263 M409,262L409,280"/>
<path class="t" d="M361,258L366,247 M372,252L388,258 M395,260L404,263"/>
<ellipse class="kw" cx="403" cy="283" rx="10" ry="12" transform="rotate(-20 403 283)"/>
<ellipse class="m" cx="404" cy="284" rx="7" ry="8.5" transform="rotate(-20 404 284)"/>
<path class="t" d="M405.1,278.4C405.2,278.5 405.5,278.6 405.7,278.7C405.9,278.8 406.1,279 406.3,279.1C406.5,279.3 406.7,279.4 406.9,279.6C407.1,279.8 407.2,280 407.4,280.2C407.6,280.4 407.7,280.6 407.9,280.9C408,281.1 408.2,281.3 408.3,281.6C408.4,281.8 408.6,282.1 408.7,282.4C408.8,282.6 408.9,282.9 408.9,283.2C409,283.4 409.1,283.7 409.1,284C409.2,284.3 409.2,284.6 409.3,284.8C409.3,285.1 409.3,285.4 409.3,285.6C409.3,285.9 409.3,286.2 409.2,286.4C409.2,286.7 409.1,286.9 409.1,287.1C409,287.4 408.9,287.6 408.9,287.8C408.8,288 408.7,288.2 408.5,288.4C408.4,288.6 408.3,288.7 408.2,288.9C408,289 407.9,289.2 407.7,289.3C407.6,289.4 407.4,289.5 407.2,289.6C407.1,289.6 406.9,289.7 406.7,289.7C406.5,289.8 406.3,289.8 406.1,289.8C405.9,289.8 405.7,289.8 405.5,289.7C405.3,289.7 405,289.6 404.9,289.6"/>
<path class="t" d="M298,247L320,255 M328,258L392,293"/>
<ellipse class="K" cx="468" cy="220" rx="25.5" ry="40" transform="rotate(-8 468 220)"/>
<ellipse class="t" cx="468.3" cy="220" rx="22.5" ry="37" transform="rotate(-8 468.3 220)"/>
<path class="m" d="M466.7,185.4C467.2,185.5 468.7,185.8 469.7,186.2C470.7,186.6 471.7,187.1 472.7,187.7C473.7,188.3 474.6,189.1 475.6,189.9C476.5,190.7 477.4,191.7 478.3,192.7C479.2,193.7 480,194.9 480.8,196.1C481.6,197.3 482.3,198.6 483,200C483.7,201.3 484.4,202.8 484.9,204.2C485.5,205.7 486.1,207.3 486.5,208.8C487,210.4 487.4,212.1 487.7,213.7C488,215.3 488.3,217 488.5,218.7C488.7,220.3 488.8,222 488.9,223.7C488.9,225.3 488.9,227 488.8,228.6C488.7,230.2 488.5,231.8 488.3,233.3C488,234.9 487.7,236.4 487.4,237.8C487,239.2 486.5,240.6 486,241.9C485.5,243.2 485,244.4 484.3,245.6C483.7,246.7 483,247.7 482.3,248.7C481.6,249.6 480.8,250.5 480,251.2C479.2,251.9 478.3,252.6 477.4,253.1C476.5,253.6 475.1,254.1 474.6,254.3"/>
<path d="M488.3,215.5h0.1M478.6,252.3h0.1M489.1,220.9h0.1M478.9,193.2h0.1M489.4,232.8h0.1M473.8,189.1h0.1M474.2,187.4h0.1M486.1,237.4h0.1M476.0,255.5h0.1M488.5,234.8h0.1M476.6,192.9h0.1M487.5,222.9h0.1M478.6,194.2h0.1M470.3,186.4h0.1M489.0,214.2h0.1M489.3,222.0h0.1M489.3,220.1h0.1M487.5,216.1h0.1M475.1,255.9h0.1M483.0,249.0h0.1M483.8,203.4h0.1M482.4,201.6h0.1M485.1,243.5h0.1M482.1,248.5h0.1M477.3,254.5h0.1M468.5,186.6h0.1M479.3,251.8h0.1M475.6,253.7h0.1M472.9,187.3h0.1M484.4,244.1h0.1M473.4,188.7h0.1M476.9,254.4h0.1M475.0,190.3h0.1M473.8,190.1h0.1M483.6,245.1h0.1M488.8,225.9h0.1M479.6,193.0h0.1M476.2,189.8h0.1M475.1,189.7h0.1M479.7,195.6h0.1M476.5,254.7h0.1M485.1,201.3h0.1M479.9,195.2h0.1M482.2,249.6h0.1M475.0,187.3h0.1M479.7,195.7h0.1M484.7,243.8h0.1M482.7,202.2h0.1M473.9,188.1h0.1M481.8,197.0h0.1M486.2,208.0h0.1M476.8,253.4h0.1M490.1,227.6h0.1M478.1,194.0h0.1M479.9,252.7h0.1M481.2,198.4h0.1M487.3,242.6h0.1M480.3,192.8h0.1M480.9,250.9h0.1M486.4,212.9h0.1M471.2,185.1h0.1M481.9,196.4h0.1M483.0,197.6h0.1M488.2,229.3h0.1M478.8,192.1h0.1M472.3,188.3h0.1M490.1,226.1h0.1M488.0,230.9h0.1M478.6,251.3h0.1M469.4,186.7h0.1" stroke="#000" stroke-width="1.2" stroke-linecap="round" fill="none"/>
<ellipse class="K" cx="465.5" cy="222" rx="17.5" ry="31.5" transform="rotate(-8 465.5 222)"/>
<path class="t" d="M468.5,255.8C468,255.7 466.5,255.7 465.6,255.4C464.6,255.2 463.6,254.8 462.6,254.3C461.7,253.9 460.7,253.3 459.8,252.6C458.8,251.9 457.9,251.1 457,250.2C456.1,249.4 455.3,248.4 454.5,247.3C453.6,246.2 452.9,245.1 452.1,243.8C451.4,242.6 450.7,241.3 450.1,239.9C449.4,238.5 448.8,237.1 448.3,235.6C447.8,234.1 447.3,232.6 446.9,231C446.5,229.5 446.2,227.9 445.9,226.2C445.7,224.6 445.5,223 445.3,221.4C445.2,219.8 445.1,218.2 445.1,216.6C445.1,215 445.2,213.4 445.4,211.8C445.5,210.3 445.7,208.8 446,207.3C446.3,205.9 446.7,204.4 447.1,203.1C447.5,201.8 448,200.5 448.5,199.3C449.1,198.1 449.7,196.9 450.3,195.9C451,194.9 451.7,193.9 452.4,193.1C453.2,192.3 454,191.5 454.8,190.9C455.6,190.3 457,189.6 457.4,189.3"/>
<ellipse class="K" cx="504.5" cy="211" rx="25.5" ry="40" transform="rotate(-8 504.5 211)"/>
<ellipse class="t" cx="504.8" cy="211" rx="22.5" ry="37" transform="rotate(-8 504.8 211)"/>
<path class="m" d="M503.2,176.4C503.7,176.5 505.2,176.8 506.2,177.2C507.2,177.6 508.2,178.1 509.2,178.7C510.2,179.3 511.1,180.1 512.1,180.9C513,181.7 513.9,182.7 514.8,183.7C515.7,184.7 516.5,185.9 517.3,187.1C518.1,188.3 518.8,189.6 519.5,191C520.2,192.3 520.9,193.8 521.4,195.2C522,196.7 522.6,198.3 523,199.8C523.5,201.4 523.9,203.1 524.2,204.7C524.5,206.3 524.8,208 525,209.7C525.2,211.3 525.3,213 525.4,214.7C525.4,216.3 525.4,218 525.3,219.6C525.2,221.2 525,222.8 524.8,224.3C524.5,225.9 524.2,227.4 523.9,228.8C523.5,230.2 523,231.6 522.5,232.9C522,234.2 521.5,235.4 520.8,236.6C520.2,237.7 519.5,238.7 518.8,239.7C518.1,240.6 517.3,241.5 516.5,242.2C515.7,242.9 514.8,243.6 513.9,244.1C513,244.6 511.6,245.1 511.1,245.3"/>
<path d="M525.5,208.6h0.1M523.4,226.3h0.1M505.6,177.3h0.1M520.2,189.9h0.1M524.2,229.0h0.1M526.0,216.9h0.1M513.2,182.1h0.1M514.9,181.8h0.1M508.8,177.2h0.1M509.6,178.1h0.1M521.5,196.0h0.1M518.0,238.4h0.1M509.0,177.0h0.1M524.0,212.1h0.1M512.2,246.5h0.1M511.4,180.5h0.1M512.5,181.9h0.1M524.1,222.5h0.1M522.5,228.7h0.1M515.2,182.6h0.1M523.4,201.7h0.1M525.3,220.4h0.1M521.8,200.7h0.1M524.3,232.6h0.1M512.6,245.4h0.1M522.0,197.7h0.1M524.4,229.1h0.1M511.2,181.1h0.1M522.6,198.2h0.1M520.3,237.7h0.1M506.9,176.3h0.1M524.3,204.4h0.1M517.0,186.9h0.1M524.1,200.1h0.1M511.0,179.7h0.1M515.4,183.3h0.1M507.1,178.2h0.1M522.4,196.3h0.1M508.1,178.1h0.1M516.1,186.3h0.1M526.5,208.7h0.1M526.5,209.2h0.1M515.2,182.1h0.1M521.7,198.7h0.1M523.5,234.2h0.1M505.3,177.5h0.1M521.3,234.7h0.1M516.9,189.2h0.1M507.5,177.2h0.1M512.5,246.6h0.1M523.8,211.6h0.1M522.1,194.1h0.1M519.7,239.3h0.1M517.5,187.2h0.1M525.4,208.9h0.1M520.0,188.7h0.1M516.1,241.2h0.1M521.1,191.2h0.1M520.7,190.0h0.1M526.0,212.6h0.1M522.8,229.6h0.1M519.3,191.9h0.1M524.7,228.5h0.1M513.1,180.1h0.1M523.3,203.7h0.1M525.8,204.5h0.1M525.9,217.0h0.1M516.0,244.5h0.1M521.8,234.2h0.1M526.6,219.9h0.1" stroke="#000" stroke-width="1.2" stroke-linecap="round" fill="none"/>
<ellipse class="K" cx="502" cy="213" rx="17.5" ry="31.5" transform="rotate(-8 502 213)"/>
<path class="t" d="M505,246.8C504.5,246.7 503,246.7 502.1,246.4C501.1,246.2 500.1,245.8 499.1,245.3C498.2,244.9 497.2,244.3 496.3,243.6C495.3,242.9 494.4,242.1 493.5,241.2C492.6,240.4 491.8,239.4 491,238.3C490.1,237.2 489.4,236.1 488.6,234.8C487.9,233.6 487.2,232.3 486.6,230.9C485.9,229.5 485.3,228.1 484.8,226.6C484.3,225.1 483.8,223.6 483.4,222C483,220.5 482.7,218.9 482.4,217.2C482.2,215.6 482,214 481.8,212.4C481.7,210.8 481.6,209.2 481.6,207.6C481.6,206 481.7,204.4 481.9,202.8C482,201.3 482.2,199.8 482.5,198.3C482.8,196.9 483.2,195.4 483.6,194.1C484,192.8 484.5,191.5 485,190.3C485.6,189.1 486.2,187.9 486.8,186.9C487.5,185.9 488.2,184.9 488.9,184.1C489.7,183.3 490.5,182.5 491.3,181.9C492.1,181.3 493.5,180.6 493.9,180.3"/>
<ellipse class="K" cx="543" cy="200" rx="25.5" ry="40" transform="rotate(-8 543 200)"/>
<ellipse class="t" cx="543.3" cy="200" rx="22.5" ry="37" transform="rotate(-8 543.3 200)"/>
<path class="m" d="M541.7,165.4C542.2,165.5 543.7,165.8 544.7,166.2C545.7,166.6 546.7,167.1 547.7,167.7C548.7,168.3 549.6,169.1 550.6,169.9C551.5,170.7 552.4,171.7 553.3,172.7C554.2,173.7 555,174.9 555.8,176.1C556.6,177.3 557.3,178.6 558,180C558.7,181.3 559.4,182.8 559.9,184.2C560.5,185.7 561.1,187.3 561.5,188.8C562,190.4 562.4,192.1 562.7,193.7C563,195.3 563.3,197 563.5,198.7C563.7,200.3 563.8,202 563.9,203.7C563.9,205.3 563.9,207 563.8,208.6C563.7,210.2 563.5,211.8 563.3,213.3C563,214.9 562.7,216.4 562.4,217.8C562,219.2 561.5,220.6 561,221.9C560.5,223.2 560,224.4 559.3,225.6C558.7,226.7 558,227.7 557.3,228.7C556.6,229.6 555.8,230.5 555,231.2C554.2,231.9 553.3,232.6 552.4,233.1C551.5,233.6 550.1,234.1 549.6,234.3"/>
<path d="M557.7,178.0h0.1M563.6,217.8h0.1M553.4,174.0h0.1M551.4,171.8h0.1M560.4,220.7h0.1M563.0,203.2h0.1M558.6,181.4h0.1M557.9,228.6h0.1M544.3,166.7h0.1M552.5,170.0h0.1M559.5,227.4h0.1M558.7,228.3h0.1M552.7,234.1h0.1M558.0,177.5h0.1M564.4,198.8h0.1M563.7,206.4h0.1M560.9,187.3h0.1M558.4,183.5h0.1M559.1,228.0h0.1M550.6,234.7h0.1M564.8,205.5h0.1M551.5,169.9h0.1M562.0,194.9h0.1M554.8,174.3h0.1M557.0,178.1h0.1M563.4,210.2h0.1M551.0,170.2h0.1M555.7,177.2h0.1M554.1,174.2h0.1M548.0,167.2h0.1M552.0,233.0h0.1M562.9,220.9h0.1M545.8,167.8h0.1M559.7,227.2h0.1M562.3,213.0h0.1M563.5,191.5h0.1M556.0,231.6h0.1M555.5,173.5h0.1M562.1,187.9h0.1M552.1,169.2h0.1M564.5,210.3h0.1M555.4,174.7h0.1M564.2,208.0h0.1M561.6,186.5h0.1M559.8,185.5h0.1M553.1,171.5h0.1M549.6,170.1h0.1M547.7,167.1h0.1M564.1,205.6h0.1M545.8,166.7h0.1M559.3,186.0h0.1M543.9,164.2h0.1M550.2,170.3h0.1M558.0,179.0h0.1M548.0,167.9h0.1M562.2,187.0h0.1M543.8,166.3h0.1M565.2,199.7h0.1M563.8,201.8h0.1M562.3,215.8h0.1M545.4,166.4h0.1M554.7,232.5h0.1M557.7,178.0h0.1M556.7,228.3h0.1M563.4,208.6h0.1M556.2,177.8h0.1M554.5,174.8h0.1M545.7,166.9h0.1M548.9,167.4h0.1M562.3,209.4h0.1" stroke="#000" stroke-width="1.2" stroke-linecap="round" fill="none"/>
<path class="K" d="M528,176.2C528.4,175.8 529.3,174.6 529.9,174C530.6,173.3 531.3,172.8 532.1,172.3C532.8,171.9 533.6,171.5 534.3,171.2C535.1,171 535.9,170.8 536.7,170.7C537.5,170.7 538.4,170.7 539.2,170.9C540,171 540.9,171.2 541.7,171.6C542.5,171.9 543.3,172.4 544.2,172.9C545,173.4 545.8,174.1 546.6,174.8C547.3,175.5 548.1,176.3 548.8,177.2C549.6,178.1 550.3,179 551,180.1C551.6,181.1 552.3,182.2 552.9,183.4C553.5,184.6 554,185.8 554.5,187.1C555.1,188.4 555.5,189.7 555.9,191.1C556.4,192.4 556.7,193.8 557.1,195.2C557.4,196.7 557.6,198.1 557.8,199.6C558,201 558.2,202.5 558.3,203.9C558.4,205.4 558.4,206.8 558.4,208.3C558.3,209.7 558.3,211.1 558.1,212.5C558,213.8 557.8,215.2 557.5,216.5C557.3,217.8 557,219 556.6,220.2C556.2,221.4 555.8,222.5 555.4,223.6C554.9,224.6 554.4,225.6 553.8,226.5C553.3,227.4 552.7,228.2 552,229C551.4,229.7 550.7,230.4 550,230.9C549.3,231.5 548.6,231.9 547.8,232.3C547.1,232.7 546.3,232.9 545.5,233.1C544.7,233.3 543.9,233.3 543,233.3C542.2,233.2 541.4,233.1 540.6,232.9C539.7,232.6 538.9,232.3 538.1,231.8C537.3,231.4 536.4,230.9 535.6,230.2C534.8,229.6 534,228.9 533.3,228.1C532.5,227.3 531.8,226.4 531.1,225.4C530.4,224.5 529.7,223.4 529.1,222.3C528.4,221.2 527.8,220 527.3,218.8C526.7,217.6 526.2,216.3 525.7,215C525.2,213.6 524.8,212.3 524.5,210.9C524.1,209.5 523.8,208 523.5,206.6C523.3,205.2 523.1,203.7 522.9,202.3C522.8,200.8 522.7,199.3 522.6,197.9C522.6,196.5 522.7,194.3 522.7,193.6"/>
<path class="t" d="M543.5,235.8C543,235.7 541.5,235.7 540.6,235.4C539.6,235.2 538.6,234.8 537.6,234.3C536.7,233.9 535.7,233.3 534.8,232.6C533.8,231.9 532.9,231.1 532,230.2C531.1,229.4 530.3,228.4 529.5,227.3C528.6,226.2 527.9,225.1 527.1,223.8C526.4,222.6 525.7,221.3 525.1,219.9C524.4,218.5 523.8,217.1 523.3,215.6C522.8,214.1 522.3,212.6 521.9,211C521.5,209.5 521.2,207.9 520.9,206.2C520.7,204.6 520.5,203 520.3,201.4C520.2,199.8 520.1,198.2 520.1,196.6C520.1,195 520.2,193.4 520.4,191.8C520.5,190.3 520.7,188.8 521,187.3C521.3,185.9 521.7,184.4 522.1,183.1C522.5,181.8 523,180.5 523.5,179.3C524.1,178.1 524.7,176.9 525.3,175.9C526,174.9 526.7,173.9 527.4,173.1C528.2,172.3 529,171.5 529.8,170.9C530.6,170.3 532,169.6 532.4,169.3"/>
<path class="K" d="M640.8,123.7C643.9,124.5 653.8,124.1 659.7,128.4C665.6,132.7 671.9,142.2 676.2,149.7C680.5,157.2 684,165.4 685.6,173.3C687.2,181.2 686.8,189.8 685.6,196.9C684.4,204 682,211 678.5,215.7C675,220.4 669.5,223 664.4,225.2C659.3,227.4 650.7,228.4 648,229"/>
<path class="t" d="M648,126C650.3,128.3 658.1,133.5 662,140C665.9,146.5 669.7,156.7 671.5,165C673.3,173.3 673.6,182.5 673,190C672.4,197.5 670.5,204.7 668,210C665.5,215.3 659.7,220 658,222"/>
<path class="m" d="M645,125C647,127.2 653.7,132.2 657,138C660.3,143.8 663.2,152.2 665,160C666.8,167.8 668.2,177.2 668,185C667.8,192.8 666.3,201 664,207C661.7,213 655.7,218.7 654,221"/>
<ellipse class="w" cx="633" cy="177" rx="33" ry="53" transform="rotate(-8 633 177)"/>
<ellipse class="K" cx="633" cy="177" rx="33" ry="53" transform="rotate(-8 633 177)"/>
<ellipse class="K" cx="631" cy="178" rx="24" ry="38" transform="rotate(-8 631 178)"/>
<path class="t" d="M632.2,212.6C631.7,212.5 630.1,212.2 629.1,211.8C628.1,211.4 627,210.9 626,210.3C625,209.7 624,208.9 623.1,208.1C622.1,207.2 621.2,206.3 620.3,205.2C619.4,204.2 618.5,203 617.7,201.8C616.9,200.6 616.1,199.2 615.4,197.9C614.7,196.5 614.1,195 613.5,193.5C612.9,192 612.3,190.4 611.9,188.8C611.4,187.2 611,185.6 610.7,183.9C610.4,182.3 610.1,180.6 610,178.9C609.8,177.2 609.7,175.5 609.6,173.9C609.6,172.2 609.7,170.5 609.8,168.9C609.9,167.3 610.1,165.7 610.4,164.1C610.7,162.6 611,161.1 611.4,159.6C611.8,158.2 612.3,156.8 612.9,155.6C613.4,154.3 614,153.1 614.7,151.9C615.3,150.8 616.1,149.8 616.8,148.9C617.6,148 618.9,146.8 619.3,146.4"/>
<path class="t" d="M636.5,129.5C637.2,129.9 639.3,130.9 640.7,131.8C642.1,132.8 643.4,133.8 644.7,135C646,136.3 647.3,137.6 648.5,139.1C649.7,140.6 650.9,142.2 652,143.9C653.1,145.6 654.1,147.5 655.1,149.4C656,151.3 656.9,153.3 657.7,155.4C658.5,157.5 659.3,159.7 659.9,161.9C660.5,164.1 661.1,166.4 661.5,168.6C661.9,170.9 662.3,173.3 662.5,175.6C662.8,177.9 662.9,180.2 663,182.5C663,184.8 663,187.1 662.8,189.4C662.7,191.6 662.4,193.9 662.1,196C661.7,198.1 661.3,200.2 660.8,202.2C660.2,204.2 659.6,206.1 658.9,207.9C658.1,209.7 657.3,211.4 656.5,213C655.6,214.6 654.1,216.7 653.6,217.4"/>
<path class="kw" d="M603,137 L578,147 L575,152 L577,160 L581,161 L603,154"/>
<path class="t" d="M578,148L600,142 M584,152L585,160"/>
<path class="kw" d="M602,156C601.3,157.5 599.7,162.3 598,165C596.3,167.7 594.7,169.5 592,172C589.3,174.5 584.5,178 582,180C579.5,182 577.7,182.3 577,184C576.3,185.7 576.8,188.8 578,190C579.2,191.2 579.8,191.7 584,191C588.2,190.3 599.8,186.8 603,186"/>
<path class="t" d="M596,165L603,168 M592,172L603,176"/>
<path class="tw" d="M650,191L660,195 L662,202 L655,200Z"/>
<path class="k" d="M700,214.4C699.1,213.7 696.3,211.8 694.5,210.2C692.7,208.6 690.9,206.8 689.3,204.8C687.6,202.9 686,200.7 684.5,198.5C683,196.2 681.6,193.8 680.2,191.2C678.9,188.7 677.7,186 676.6,183.3C675.5,180.5 674.5,177.6 673.6,174.7C672.8,171.8 672,168.8 671.4,165.7C670.8,162.7 670.3,159.6 670,156.5C669.7,153.4 669.5,150.3 669.4,147.2C669.3,144.2 669.4,141.1 669.6,138.1C669.8,135.1 670.2,132.2 670.7,129.3C671.2,126.5 671.8,123.7 672.5,121C673.3,118.3 674.2,115.7 675.2,113.3C676.1,110.9 677.3,108.6 678.5,106.5C679.7,104.4 681.1,102.4 682.5,100.6C683.9,98.8 685.4,97.2 687,95.7C688.6,94.3 690.3,93.1 692.1,92.1C693.8,91.1 695.6,90.2 697.5,89.6C699.3,89 701.2,88.7 703.2,88.5C705.1,88.3 707.1,88.4 709,88.6C711,88.9 712.9,89.4 714.9,90.1C716.8,90.8 718.8,91.7 720.7,92.8C722.6,94 724.5,95.3 726.3,96.8C728.1,98.3 729.9,100 731.6,101.9C733.3,103.8 734.9,105.8 736.5,108C738,110.2 739.5,112.6 740.9,115.1C742.2,117.6 743.5,120.2 744.7,122.9C745.8,125.6 746.9,128.5 747.8,131.4C748.7,134.2 749.5,137.2 750.2,140.3C750.8,143.3 751.4,146.4 751.8,149.4C752.2,152.5 752.4,155.6 752.5,158.7C752.7,161.8 752.7,164.9 752.5,167.9C752.3,170.9 752.1,173.9 751.6,176.8C751.2,179.7 750.6,182.5 750,185.2C749.3,187.9 748.4,190.6 747.5,193C746.6,195.5 745.5,197.9 744.3,200.1C743.1,202.3 741.8,204.3 740.5,206.2C739.1,208.1 737.6,209.8 736,211.3C734.5,212.8 732.8,214.1 731.1,215.2C729.4,216.3 726.6,217.5 725.7,217.9"/>
<path class="m" d="M698.5,209.7C697.7,208.9 695.1,206.8 693.4,205.1C691.8,203.4 690.2,201.5 688.7,199.4C687.2,197.4 685.8,195.2 684.5,192.9C683.2,190.6 681.9,188.1 680.8,185.5C679.6,183 678.6,180.3 677.7,177.5C676.7,174.8 675.9,171.9 675.2,169.1C674.5,166.2 674,163.2 673.5,160.3C673.1,157.3 672.8,154.4 672.6,151.4C672.4,148.4 672.3,145.5 672.4,142.5C672.5,139.6 672.7,136.7 673,133.9C673.3,131.1 673.8,128.4 674.4,125.7C675,123.1 675.7,120.5 676.5,118.1C677.3,115.7 678.3,113.3 679.3,111.2C680.3,109 681.5,107 682.8,105.1C684,103.3 685.4,101.6 686.8,100.1C688.2,98.6 689.7,97.2 691.3,96.1C692.9,95 694.5,94 696.2,93.3C697.9,92.6 699.7,92.1 701.4,91.7C703.2,91.4 705,91.3 706.8,91.4C708.6,91.5 710.5,91.9 712.3,92.4C714.1,92.9 716,93.7 717.8,94.6C719.6,95.5 721.4,96.7 723.1,98C724.8,99.3 726.6,100.8 728.2,102.5C729.8,104.2 731.4,106.1 732.9,108.1C734.4,110.1 735.9,112.3 737.2,114.6C738.6,116.9 739.8,119.4 741,121.9C742.1,124.4 743.2,127.1 744.1,129.8C745.1,132.6 745.9,135.4 746.6,138.3C747.3,141.1 747.9,144.1 748.4,147C748.8,150 749.2,153 749.4,155.9C749.6,158.9 749.7,161.9 749.6,164.8C749.6,167.7 749.4,170.6 749.1,173.4C748.8,176.2 748.3,179 747.8,181.7C747.2,184.3 746.5,186.9 745.7,189.4C744.9,191.8 744,194.1 742.9,196.3C741.9,198.5 740.8,200.6 739.5,202.4C738.3,204.3 736.9,206.1 735.5,207.6C734.1,209.1 732.6,210.5 731.1,211.6C729.5,212.8 727,214 726.2,214.5"/>
<path class="k" d="M700,212C701,212.5 704.5,213.8 706,215C707.5,216.2 707.7,218.7 709,219C710.3,219.3 712.8,216.5 714,217C715.2,217.5 714.7,221.2 716,222C717.3,222.8 721,222 722,222"/>
<path class="m" d="M703,209L707,218 M712,214L716,222"/>
<path class="K" d="M716.3,83.6C718.6,82.8 724.9,80.2 730,79C735.1,77.8 741.2,76 747,76.5C752.8,77 759.5,78.4 765,82C770.5,85.6 775.1,89.9 780,98C784.9,106.1 790.7,120.6 794.2,130.8C797.7,141 800.6,150 801.2,159C801.8,168 800,177.9 798,185C796,192.1 793.2,196.9 789.4,201.6C785.6,206.3 782,211.1 775.3,213.4C768.6,215.8 753.6,215.3 749.3,215.7"/>
<path class="t" d="M752,80C754.7,81.7 763,84.7 768,90C773,95.3 778.3,103.7 782,112C785.7,120.3 788.3,130.7 790,140C791.7,149.3 792.5,159.3 792,168C791.5,176.7 789.5,185.5 787,192C784.5,198.5 778.7,204.5 777,207"/>
<path class="k" d="M727.6,88.4C728.3,88.1 730.5,87.1 732,86.8C733.5,86.5 735,86.4 736.6,86.5C738.1,86.6 739.7,86.9 741.3,87.4C742.8,87.9 744.4,88.6 746,89.5C747.5,90.4 749.1,91.5 750.6,92.8C752.1,94.1 753.7,95.6 755.1,97.2C756.5,98.9 758,100.7 759.3,102.7C760.7,104.6 762,106.8 763.2,109C764.4,111.3 765.6,113.7 766.7,116.2C767.7,118.7 768.8,121.3 769.7,124C770.6,126.7 771.4,129.5 772.1,132.3C772.8,135.2 773.5,138.1 774,141C774.5,143.9 774.9,146.9 775.2,149.8C775.5,152.8 775.7,155.8 775.8,158.7C775.9,161.6 775.9,164.5 775.8,167.4C775.6,170.2 775.4,173 775,175.7C774.7,178.4 774.2,181 773.7,183.5C773.1,186 772.5,188.5 771.7,190.7C770.9,193 770.1,195.1 769.1,197.1C768.2,199.1 767.2,200.9 766.1,202.6C764.9,204.2 763.8,205.7 762.5,207C761.2,208.3 759.9,209.5 758.5,210.4C757.2,211.3 755.7,212 754.3,212.5C752.8,213.1 751.3,213.4 749.8,213.5C748.2,213.6 745.9,213.3 745.1,213.2"/>
<path class="k" d="M726.8,95.6C727.4,95.2 729.3,93.9 730.6,93.4C731.9,92.9 733.3,92.6 734.7,92.5C736.1,92.4 737.5,92.4 738.9,92.7C740.4,93 741.8,93.5 743.2,94.1C744.7,94.8 746.1,95.7 747.5,96.7C748.9,97.8 750.3,99 751.7,100.4C753,101.8 754.4,103.4 755.6,105.2C756.9,106.9 758.1,108.8 759.3,110.8C760.5,112.9 761.6,115 762.6,117.3C763.7,119.6 764.6,122 765.5,124.5C766.4,126.9 767.2,129.5 767.9,132.2C768.6,134.8 769.2,137.5 769.8,140.2C770.3,142.9 770.7,145.7 771,148.5C771.4,151.2 771.6,154 771.7,156.8C771.8,159.5 771.9,162.3 771.8,164.9C771.7,167.6 771.5,170.2 771.2,172.8C770.9,175.3 770.5,177.8 770.1,180.1C769.6,182.5 769,184.8 768.3,186.9C767.6,189 766.9,191 766,192.9C765.2,194.7 764.2,196.4 763.2,197.9C762.2,199.5 761.1,200.8 760,202C758.8,203.2 757.6,204.2 756.4,205C755.1,205.8 753.8,206.5 752.5,206.9C751.1,207.3 749.7,207.5 748.3,207.6C746.9,207.6 745.5,207.4 744.1,207.1C742.6,206.7 740.5,205.6 739.8,205.4" style="stroke-dasharray:2.2 2;stroke-width:2.6"/>
<path class="k" d="M730.7,204C729.9,203.4 727.7,201.6 726.2,200.1C724.8,198.6 723.4,197 722.1,195.2C720.8,193.4 719.5,191.5 718.3,189.5C717.1,187.4 716,185.3 714.9,183C713.9,180.8 712.9,178.4 712.1,176C711.2,173.5 710.4,171 709.7,168.4C709,165.9 708.4,163.2 708,160.6C707.5,157.9 707.1,155.2 706.8,152.6C706.6,149.9 706.4,147.2 706.4,144.6C706.3,141.9 706.4,139.2 706.5,136.7C706.7,134.1 707,131.5 707.4,129.1C707.7,126.6 708.2,124.2 708.8,122C709.4,119.7 710.1,117.5 710.9,115.4C711.7,113.3 712.6,111.4 713.5,109.6C714.5,107.8 716.1,105.4 716.7,104.6" style="stroke-dasharray:2.2 2;stroke-width:2.6"/>
<path class="t" d="M726.5,204.4C725.7,203.5 723.2,201.2 721.6,199.3C720.1,197.4 718.6,195.4 717.2,193.2C715.8,191 714.4,188.7 713.2,186.2C712,183.8 710.8,181.1 709.8,178.5C708.8,175.8 707.9,173 707.1,170.2C706.3,167.3 705.6,164.4 705.1,161.5C704.5,158.5 704.1,155.5 703.8,152.5C703.5,149.6 703.4,146.6 703.4,143.6C703.3,140.7 703.4,137.7 703.7,134.9C703.9,132 704.3,129.2 704.8,126.5C705.3,123.8 706,121.2 706.7,118.7C707.5,116.2 708.3,113.8 709.3,111.6C710.3,109.4 712.1,106.4 712.6,105.4"/>
<path class="k" d="M735.3,104.5C735.9,104.5 737.4,104.3 738.5,104.5C739.6,104.7 740.7,105.1 741.8,105.6C742.9,106.1 744,106.7 745.1,107.6C746.1,108.4 747.2,109.4 748.3,110.5C749.3,111.6 750.4,112.9 751.4,114.3C752.4,115.7 753.3,117.2 754.2,118.8C755.2,120.5 756.1,122.2 756.9,124.1C757.7,125.9 758.5,127.9 759.2,129.9C759.9,132 760.6,134.1 761.2,136.2C761.8,138.4 762.3,140.6 762.7,142.8C763.2,145.1 763.6,147.4 763.9,149.7C764.2,151.9 764.4,154.2 764.6,156.5C764.7,158.8 764.8,161.1 764.8,163.3C764.8,165.5 764.7,167.7 764.5,169.8C764.4,171.9 764.1,174 763.8,176C763.5,178 763.1,179.9 762.6,181.6C762.2,183.4 761.6,185.1 761,186.7C760.4,188.3 759.8,189.7 759,191C758.3,192.3 757.5,193.5 756.7,194.5C755.8,195.6 754.9,196.5 754,197.2C753.1,197.9 752.1,198.5 751.1,198.9C750.1,199.3 749.1,199.5 748,199.6C747,199.7 745.3,199.4 744.8,199.3"/>
<path class="m" d="M733.1,190.4C732.6,189.6 731.1,187.5 730.2,185.9C729.2,184.3 728.3,182.5 727.5,180.7C726.6,178.8 725.8,176.9 725.1,174.9C724.3,172.8 723.7,170.7 723,168.6C722.4,166.4 721.9,164.2 721.4,161.9C720.9,159.7 720.5,157.4 720.2,155.1C719.9,152.8 719.6,150.4 719.5,148.1C719.3,145.8 719.2,143.5 719.2,141.3C719.2,139.1 719.3,136.8 719.4,134.7C719.6,132.5 719.8,130.4 720.1,128.4C720.4,126.4 720.8,124.5 721.3,122.7C721.7,120.9 722.6,118.4 722.9,117.6"/>
<path class="k" d="M772.8,128.1C772.7,126.6 772.4,122 772.4,119C772.4,116 772.6,113 772.9,110C773.2,107.1 773.6,104.2 774.2,101.4C774.7,98.6 775.4,95.9 776.3,93.3C777.1,90.8 778,88.3 779.1,85.9C780.2,83.6 781.3,81.4 782.6,79.3C783.9,77.3 785.3,75.4 786.8,73.7C788.3,72 789.9,70.4 791.5,69.1C793.2,67.7 794.9,66.6 796.7,65.6C798.5,64.7 800.3,63.9 802.2,63.4C804.1,62.9 806.1,62.5 808,62.4C810,62.3 811.9,62.4 813.9,62.7C815.9,63 817.9,63.6 819.9,64.3C821.8,65 823.8,66 825.7,67.1C827.6,68.2 829.5,69.6 831.3,71.1C833.2,72.6 834.9,74.3 836.6,76.2C838.3,78.1 840,80.1 841.5,82.3C843.1,84.5 844.6,86.9 845.9,89.3C847.3,91.8 848.5,94.4 849.7,97.1C850.8,99.8 851.9,102.6 852.8,105.4C853.7,108.3 854.5,111.3 855.2,114.2C855.8,117.2 856.4,120.3 856.7,123.3C857.1,126.3 857.4,129.4 857.5,132.5C857.6,135.5 857.6,138.5 857.5,141.5C857.3,144.5 857,147.5 856.6,150.3C856.1,153.2 855.6,156 854.9,158.7C854.2,161.4 853.4,164 852.4,166.5C851.5,168.9 850.4,171.3 849.2,173.5C848,175.7 846.7,177.8 845.4,179.6C844,181.5 842.5,183.2 840.9,184.8C839.3,186.3 837.7,187.6 835.9,188.8C834.2,189.9 832.4,190.9 830.6,191.6C828.7,192.4 826.8,192.9 824.9,193.2C823,193.6 821,193.7 819,193.6C817.1,193.5 814.1,192.8 813.1,192.6" style="stroke-width:2.5"/>
<path class="t" d="M777.4,124.5C777.5,123.1 777.4,118.7 777.6,115.9C777.7,113 778,110.2 778.5,107.5C778.9,104.8 779.4,102.1 780.1,99.5C780.8,97 781.6,94.5 782.5,92.2C783.4,89.9 784.4,87.7 785.6,85.7C786.7,83.7 787.9,81.8 789.3,80C790.6,78.3 792,76.8 793.5,75.4C795,74.1 796.6,72.9 798.2,71.9C799.8,70.9 801.5,70.1 803.3,69.6C805,69 806.8,68.6 808.6,68.5C810.4,68.3 812.2,68.4 814,68.6C815.9,68.9 817.7,69.3 819.5,70C821.4,70.7 823.2,71.6 825,72.6C826.8,73.7 828.5,75 830.2,76.4C831.9,77.9 833.6,79.5 835.2,81.3C836.8,83.1 838.3,85.1 839.8,87.2C841.2,89.3 842.6,91.6 843.9,93.9C845.1,96.3 846.3,98.8 847.4,101.4C848.4,104 849.4,106.7 850.3,109.5C851.1,112.2 851.8,115.1 852.4,117.9C853,120.8 853.5,123.7 853.9,126.7C854.2,129.6 854.5,132.5 854.6,135.5C854.6,138.4 854.6,141.3 854.4,144.1C854.3,147 854,149.8 853.5,152.5C853.1,155.2 852.6,157.9 851.9,160.5C851.2,163 850.4,165.5 849.5,167.8C848.6,170.1 847.6,172.3 846.4,174.3C845.3,176.3 844.1,178.2 842.7,180C841.4,181.7 840,183.2 838.5,184.6C837,185.9 835.4,187.1 833.8,188.1C832.2,189.1 830.5,189.9 828.7,190.4C827,191 825.2,191.4 823.4,191.5C821.6,191.7 818.9,191.4 818,191.4"/>
<path class="k" d="M784.6,118.1C784.8,116.9 785.2,113 785.6,110.5C786,108 786.6,105.6 787.2,103.3C787.9,101 788.6,98.8 789.5,96.7C790.3,94.6 791.3,92.6 792.4,90.8C793.4,89 794.6,87.4 795.8,85.9C797,84.4 798.3,83 799.7,81.8C801.1,80.7 802.5,79.7 804,78.9C805.5,78.1 807.1,77.5 808.6,77.1C810.2,76.6 811.8,76.4 813.5,76.4C815.1,76.3 816.7,76.5 818.4,76.8C820,77.2 821.7,77.7 823.4,78.5C825,79.2 826.6,80.1 828.2,81.2C829.8,82.3 831.4,83.6 832.9,85C834.4,86.5 835.9,88.1 837.3,89.8C838.7,91.6 840,93.5 841.3,95.5C842.6,97.6 843.8,99.7 844.8,102C845.9,104.3 847,106.7 847.9,109.1C848.8,111.6 849.6,114.1 850.3,116.7C851,119.3 851.6,122 852.1,124.6C852.6,127.3 852.9,130 853.2,132.7C853.4,135.4 853.6,138.2 853.6,140.8C853.6,143.5 853.5,146.2 853.3,148.8C853.1,151.4 852.7,153.9 852.3,156.4C851.8,158.9 851.2,161.3 850.6,163.5C849.9,165.8 849.1,168 848.2,170.1C847.3,172.1 846.3,174 845.3,175.8C844.2,177.6 843,179.2 841.8,180.7C840.5,182.1 839.2,183.4 837.8,184.6C836.4,185.7 835,186.6 833.5,187.4C832,188.1 830.4,188.7 828.8,189.1C827.2,189.5 824.8,189.6 824,189.6"/>
<path class="t" d="M794.6,96.6C795.1,95.8 796.5,93.2 797.5,91.7C798.6,90.3 799.7,88.9 800.9,87.7C802,86.5 803.3,85.5 804.6,84.6C805.9,83.8 807.2,83.1 808.6,82.6C810,82 811.4,81.7 812.9,81.5C814.3,81.3 815.8,81.3 817.3,81.5C818.8,81.6 820.3,82 821.7,82.5C823.2,83 824.7,83.7 826.2,84.5C827.6,85.4 829.1,86.4 830.5,87.6C831.9,88.7 833.2,90.1 834.5,91.5C835.9,93 837.1,94.6 838.4,96.3C839.6,98.1 840.7,99.9 841.8,101.9C842.9,103.9 843.9,105.9 844.8,108.1C845.7,110.3 846.5,112.5 847.3,114.8C848,117.1 848.7,119.5 849.3,121.9C849.8,124.3 850.3,126.8 850.6,129.2C851,131.7 851.3,134.2 851.4,136.7C851.6,139.2 851.6,141.6 851.5,144.1C851.5,146.5 851.3,148.9 851.1,151.2C850.8,153.6 850.4,155.9 850,158.1C849.5,160.3 848.5,163.4 848.3,164.4"/>
<path class="k" d="M820.5,104.9C820.8,104.8 821.6,104.4 822.2,104.3C822.8,104.2 823.5,104.1 824.1,104.2C824.7,104.2 825.3,104.3 825.9,104.5C826.6,104.7 827.2,105 827.8,105.3C828.4,105.7 829.1,106.1 829.7,106.6C830.3,107.1 830.9,107.7 831.4,108.3C832,108.9 832.6,109.6 833.1,110.4C833.6,111.2 834.1,112 834.6,112.8C835.1,113.7 835.5,114.6 835.9,115.6C836.4,116.5 836.8,117.6 837.1,118.6C837.4,119.6 837.8,120.7 838,121.8C838.3,122.8 838.5,124 838.7,125.1C838.9,126.2 839,127.3 839.1,128.4C839.2,129.6 839.3,130.7 839.3,131.8C839.3,132.9 839.3,134 839.2,135.1C839.1,136.1 839,137.2 838.8,138.2C838.7,139.2 838.5,140.2 838.2,141.2C838,142.1 837.7,143 837.4,143.8C837,144.7 836.7,145.5 836.3,146.2C835.9,146.9 835.4,147.6 835,148.2C834.5,148.8 834,149.3 833.5,149.8C833,150.2 832.4,150.6 831.9,150.9C831.3,151.2 830.7,151.5 830.1,151.6C829.5,151.8 828.9,151.8 828.3,151.8C827.7,151.8 827.1,151.7 826.4,151.6C825.8,151.4 825.2,151.2 824.5,150.9C823.9,150.5 823.3,150.1 822.7,149.7C822.1,149.2 821.5,148.7 820.9,148.1C820.3,147.5 819.8,146.8 819.2,146C818.7,145.3 818.2,144.5 817.7,143.7C817.2,142.8 816.7,141.9 816.3,141C815.9,140 815.5,139 815.1,138C814.8,137 814.4,136 814.1,134.9C813.9,133.8 813.6,132.7 813.4,131.6C813.2,130.5 813.1,129.4 812.9,128.2C812.8,127.1 812.7,126 812.7,124.9C812.7,123.8 812.8,122.1 812.8,121.6"/>
<path class="t" d="M826.1,155.7C825.7,155.6 824.5,155.3 823.7,155C822.9,154.7 822.1,154.3 821.4,153.8C820.6,153.3 819.8,152.7 819.1,152C818.4,151.3 817.6,150.5 817,149.7C816.3,148.9 815.6,147.9 815,146.9C814.4,146 813.8,144.9 813.2,143.8C812.7,142.7 812.2,141.5 811.7,140.3C811.3,139.1 810.8,137.8 810.5,136.6C810.1,135.3 809.8,134 809.6,132.6C809.3,131.3 809.1,130 809,128.6C808.8,127.3 808.7,125.9 808.7,124.6C808.7,123.2 808.7,121.9 808.8,120.6C808.9,119.3 809,118 809.2,116.8C809.4,115.6 809.7,114.4 810,113.2C810.3,112.1 810.6,111 811,110C811.4,108.9 811.9,108 812.4,107.1C812.9,106.2 813.5,105.4 814.1,104.7C814.6,103.9 815.6,103 815.9,102.7"/>
<path class="K" d="M890.7,21C893.1,19.8 900.2,15.5 905,14C909.8,12.5 913.3,11.5 919.6,11.8C925.9,12.1 936,12.4 943,15.7C950,19 955.8,24 961.5,31.4C967.2,38.8 973.3,50.2 977.2,60.3C981.1,70.3 983.5,82.1 985,91.7C986.5,101.3 987.1,108.8 986.4,118C985.7,127.2 983.9,138.9 981,146.7C978.1,154.5 973.9,160.6 969.3,165C964.7,169.4 956.2,171.7 953.6,173"/>
<path class="t" d="M893,27C897.2,25.5 910.2,19 918,18C925.8,17 933.7,18 940,21C946.3,24 951,29 956,36C961,43 966.5,53.5 970,63C973.5,72.5 975.7,83.5 977,93C978.3,102.5 978.7,111.2 978,120C977.3,128.8 975.7,138.8 973,146C970.3,153.2 963.8,160.2 962,163"/>
<path class="t" d="M942,24C944.3,27 952,34 956,42C960,50 963.7,61 966,72C968.3,83 969.7,97 970,108C970.3,119 969.8,129.3 968,138C966.2,146.7 960.5,156.3 959,160"/>
<path class="t" d="M938,26C940.3,29 948.2,36.3 952,44C955.8,51.7 958.7,61.3 961,72C963.3,82.7 965.5,97 966,108C966.5,119 965.8,129.3 964,138C962.2,146.7 956.5,156.3 955,160"/>
<path class="k" d="M859,36L890.7,21 M953.6,173L911.7,180.8 L893.4,183.4"/>
<path class="K" d="M830.5,68C832.2,65 836.2,55 841,49.8C845.8,44.6 853.1,39.5 859.3,36.7C865.5,33.9 872,32.8 878,33C884,33.2 890.3,35.7 895,38C899.7,40.3 902.8,43.3 906,47C909.2,50.7 912.7,57.8 914,60"/>
<path class="m" d="M914,60C915.2,63.3 919.2,71.7 921,80C922.8,88.3 924.3,99.8 925,110C925.7,120.2 926,131.7 925,141C924,150.3 922,159.3 919,166C916,172.7 911.3,177.8 907,181C902.7,184.2 895.3,184.8 893,185.5"/>
<path class="K" d="M893,185.5C890.8,185.2 884.5,185.2 880,184C875.5,182.8 869.5,180.3 866,178C862.5,175.7 860.2,171.3 859,170"/>
<path class="t" d="M836,70C837.7,67.3 841.7,58.5 846,54C850.3,49.5 856.3,45.2 862,43C867.7,40.8 874.5,40.2 880,40.5C885.5,40.8 890.5,42.2 895,45C899.5,47.8 903.8,53.2 907,57C910.2,60.8 912.8,66.2 914,68"/>
<path class="K" d="M846,60C848,58.3 853.7,52.2 858,50C862.3,47.8 868.3,46.8 872,47C875.7,47.2 876.6,49.3 880,51C883.4,52.7 888.4,53.8 892.6,57.3C896.8,60.8 901.5,65 905.2,72C908.9,79 912.7,90.5 914.6,99.2C916.5,107.9 916.7,116.3 916.7,124.3C916.7,132.3 916.2,140.8 914.6,147.4C913,154.1 910.6,159.6 907.3,164.2C904,168.8 899.2,172.6 894.7,174.7C890.2,176.8 884.6,177.6 880,176.8C875.4,176 870.9,173.6 867,170C863.1,166.4 858.4,157.5 856.7,155"/>
<path class="t" d="M852,70C851.3,73 848.7,82.2 848,88C847.3,93.8 848,102.2 848,105"/>
<path class="t" d="M884,62C883.7,66.7 882,80.3 882,90C882,99.7 882.7,110.8 884,120C885.3,129.2 887.3,137.5 890,145C892.7,152.5 898.3,161.7 900,165"/>
<path class="t" d="M890,58C889.7,63.3 887.8,79.7 888,90C888.2,100.3 889.5,110.8 891,120C892.5,129.2 894.5,138 897,145C899.5,152 904.5,159.2 906,162"/>
<path class="k" d="M889.5,67.8C890.3,67.8 893.5,67.2 894.5,67.6C895.5,68 895.5,69.2 895.5,70C895.5,70.8 895.5,71.8 894.5,72.2C893.5,72.6 890.3,72.2 889.5,72.2"/>
<path class="k" d="M890.5,73.8C891.3,73.8 894.5,73.2 895.5,73.6C896.5,74 896.5,75.2 896.5,76C896.5,76.8 896.5,77.8 895.5,78.2C894.5,78.6 891.3,78.2 890.5,78.2"/>
<path class="k" d="M891.5,79.8C892.3,79.8 895.5,79.2 896.5,79.6C897.5,80 897.5,81.2 897.5,82C897.5,82.8 897.5,83.8 896.5,84.2C895.5,84.6 892.3,84.2 891.5,84.2"/>
<path class="k" d="M892.5,85.8C893.3,85.8 896.5,85.2 897.5,85.6C898.5,86 898.5,87.2 898.5,88C898.5,88.8 898.5,89.8 897.5,90.2C896.5,90.6 893.3,90.2 892.5,90.2"/>
<path class="k" d="M893.5,91.8C894.3,91.8 897.5,91.2 898.5,91.6C899.5,92 899.5,93.2 899.5,94C899.5,94.8 899.5,95.8 898.5,96.2C897.5,96.6 894.3,96.2 893.5,96.2"/>
<path class="k" d="M894.5,97.8C895.3,97.8 898.5,97.2 899.5,97.6C900.5,98 900.5,99.2 900.5,100C900.5,100.8 900.5,101.8 899.5,102.2C898.5,102.6 895.3,102.2 894.5,102.2"/>
<path class="k" d="M895.5,103.8C896.3,103.8 899.5,103.2 900.5,103.6C901.5,104 901.5,105.2 901.5,106C901.5,106.8 901.5,107.8 900.5,108.2C899.5,108.6 896.3,108.2 895.5,108.2"/>
<path class="k" d="M898.5,110.8C899.3,110.8 902.5,110.2 903.5,110.6C904.5,111 904.5,112.2 904.5,113C904.5,113.8 904.5,114.8 903.5,115.2C902.5,115.6 899.3,115.2 898.5,115.2"/>
<path class="k" d="M900.5,116.8C901.3,116.8 904.5,116.2 905.5,116.6C906.5,117 906.5,118.2 906.5,119C906.5,119.8 906.5,120.8 905.5,121.2C904.5,121.6 901.3,121.2 900.5,121.2"/>
<path class="k" d="M902.5,122.8C903.3,122.8 906.5,122.2 907.5,122.6C908.5,123 908.5,124.2 908.5,125C908.5,125.8 908.5,126.8 907.5,127.2C906.5,127.6 903.3,127.2 902.5,127.2"/>
<path class="k" d="M904.5,128.8C905.3,128.8 908.5,128.2 909.5,128.6C910.5,129 910.5,130.2 910.5,131C910.5,131.8 910.5,132.8 909.5,133.2C908.5,133.6 905.3,133.2 904.5,133.2"/>
<path class="k" d="M906.5,134.8C907.3,134.8 910.5,134.2 911.5,134.6C912.5,135 912.5,136.2 912.5,137C912.5,137.8 912.5,138.8 911.5,139.2C910.5,139.6 907.3,139.2 906.5,139.2"/>
<path class="ax" d="M457,222.5L629,177.5 L914,106.5"/>
<path class="ax" d="M987,86L1000,83"/>
<path class="mw" d="M426.8,298.3C429,297.9 435.8,296.9 440,296C444.2,295.1 447.8,294.2 452,293C456.2,291.8 460.5,290.4 465,289C469.5,287.6 476,284.6 479,284.6C482,284.6 482.2,288.4 482.8,289.2 M482.8,289.2C482.6,292.2 483.3,301.4 481.8,307.5C480.3,313.6 475.3,320.7 473.6,325.9C471.9,331.1 471.7,333.8 471.7,338.7C471.7,343.6 473.9,349.6 473.6,355.2C473.3,360.8 470.6,369.2 470,372 M468,390C467.7,392.5 466.5,402 466.2,404.8C465.9,407.6 466.2,406.3 466.2,406.6L421.3,415.8 L389.2,402 L387.3,393.8 L405.7,388.3 L405.7,390 M405.7,390C405.8,385 405.7,370.7 406,360C406.3,349.3 407.2,331.6 407.5,325.9L424,320.4 L426.8,298.3"/>
<path class="m" d="M426.8,298.3C428.2,299.1 431.1,302.9 435,303C438.9,303.1 445,300.5 450,299C455,297.5 459.5,295.6 465,294C470.5,292.4 479.8,290 482.8,289.2"/>
<path class="m" d="M435,303C434.7,305.3 434.7,311.1 433.2,316.7C431.7,322.3 427.7,327.7 425.9,336.9C424.1,346.1 423,359.8 422.2,371.7C421.4,383.6 421.4,401 421.3,408.4C421.2,415.8 421.3,414.6 421.3,415.8"/>
<path class="m" d="M387.3,393.8L405.7,388.3 L409.4,399.3 L389.2,402"/>
<path class="m" d="M437.3,354C437.5,353.8 437.8,353.2 438.1,352.8C438.4,352.5 438.7,352.1 439.1,351.8C439.4,351.5 439.8,351.2 440.2,350.9C440.5,350.6 441,350.4 441.4,350.1C441.8,349.9 442.2,349.7 442.7,349.6C443.1,349.4 443.6,349.3 444,349.2C444.5,349.1 445,349 445.4,349C445.9,349 446.4,349 446.8,349C447.3,349.1 447.8,349.1 448.2,349.3C448.7,349.4 449.2,349.5 449.6,349.7C450,349.8 450.5,350 450.9,350.3C451.3,350.5 451.7,350.8 452.1,351C452.4,351.3 452.8,351.6 453.1,352C453.5,352.3 453.8,352.7 454,353.1C454.3,353.4 454.6,353.8 454.8,354.2C455,354.7 455.2,355.1 455.4,355.5C455.5,356 455.7,356.4 455.8,356.9C455.9,357.4 455.9,357.8 456,358.3C456,358.8 456,359.2 456,359.7C455.9,360.2 455.9,360.6 455.8,361.1C455.7,361.6 455.5,362 455.4,362.5C455.2,362.9 455,363.3 454.8,363.8C454.6,364.2 454.3,364.6 454,364.9C453.8,365.3 453.5,365.7 453.1,366C452.8,366.4 452.4,366.7 452.1,367C451.7,367.2 451.3,367.5 450.9,367.7C450.5,368 450,368.2 449.6,368.3C449.2,368.5 448.7,368.6 448.2,368.7C447.8,368.9 447.3,368.9 446.8,369C446.4,369 445.9,369 445.4,369C445,369 444.5,368.9 444,368.8C443.6,368.7 443.1,368.6 442.7,368.4C442.2,368.3 441.8,368.1 441.4,367.9C441,367.6 440.5,367.4 440.2,367.1C439.8,366.8 439.4,366.5 439.1,366.2C438.7,365.9 438.4,365.5 438.1,365.2C437.8,364.8 437.5,364.2 437.3,364"/>
<path class="t" d="M440,356L460,366"/>
<path class="m" d="M438.9,393.9C439,393.8 439.3,393.3 439.5,393.1C439.7,392.8 439.9,392.6 440.2,392.3C440.4,392.1 440.7,391.9 440.9,391.7C441.2,391.5 441.5,391.3 441.8,391.2C442.1,391 442.4,390.9 442.7,390.8C443,390.7 443.3,390.6 443.6,390.5C443.9,390.5 444.3,390.4 444.6,390.4C444.9,390.4 445.3,390.4 445.6,390.4C445.9,390.5 446.3,390.5 446.6,390.6C446.9,390.7 447.2,390.8 447.5,390.9C447.8,391 448.1,391.1 448.4,391.3C448.7,391.4 449,391.6 449.2,391.8C449.5,392 449.8,392.3 450,392.5C450.2,392.7 450.4,393 450.6,393.2C450.8,393.5 451,393.8 451.2,394.1C451.3,394.4 451.5,394.7 451.6,395C451.7,395.3 451.8,395.6 451.8,395.9C451.9,396.2 452,396.6 452,396.9C452,397.2 452,397.6 452,397.9C452,398.2 451.9,398.6 451.8,398.9C451.8,399.2 451.7,399.5 451.6,399.8C451.5,400.1 451.3,400.4 451.2,400.7C451,401 450.8,401.3 450.6,401.6C450.4,401.8 450.2,402.1 450,402.3C449.8,402.5 449.5,402.8 449.2,403C449,403.2 448.7,403.4 448.4,403.5C448.1,403.7 447.8,403.8 447.5,403.9C447.2,404 446.9,404.1 446.6,404.2C446.3,404.3 445.9,404.3 445.6,404.4C445.3,404.4 444.9,404.4 444.6,404.4C444.3,404.4 443.9,404.3 443.6,404.3C443.3,404.2 443,404.1 442.7,404C442.4,403.9 442.1,403.8 441.8,403.6C441.5,403.5 441.2,403.3 440.9,403.1C440.7,402.9 440.4,402.7 440.2,402.5C439.9,402.2 439.7,402 439.5,401.7C439.3,401.5 439,401 438.9,400.9"/>
<path class="t" d="M441,396L451,401"/>
<ellipse class="kw" cx="471.7" cy="373.6" rx="12" ry="13" transform="rotate(-20 471.7 373.6)" style="stroke-width:2.4"/>
<ellipse class="m" cx="473" cy="374" rx="8.5" ry="9.5" transform="rotate(-20 473 374)"/>
<path class="t" d="M473,372L476,366 M480,366L485.5,362.6"/>
<path class="K" d="M140.9,569.2 L141.7,565.4 L143.3,565.1 L145.2,568.4 L146.7,568.4 L148.1,564.9 L149.7,565 L151.1,568.8 L152.6,569.1 L154.5,566.1 L156.2,566.6 L157,570.7 L158.4,571.4 L160.9,568.9 L162.5,569.8 L162.7,574.1 L164.1,575.2 L167.1,573.2 L168.6,574.6 L168.2,578.9 L169.5,580.4 L172.8,579.1 L174.2,580.7 L173.2,585.1 L174.3,586.8 L178,586.2 L179.2,588.1 L177.6,592.3 L178.6,594.3 L182.5,594.4 L183.4,596.6 L181.3,600.5 L182.1,602.7 L186.1,603.4 L186.8,605.8 L184.3,609.4 L184.9,611.7 L188.8,613.1 L189.3,615.6 L186.3,618.8 L186.7,621.1 L190.4,623.2 L190.7,625.7 L187.4,628.3 L187.5,630.7 L191.1,633.3 L191.1,635.8 L187.5,637.8 L187.4,640.1 L190.6,643.2 L190.3,645.6 L186.7,646.9 L186.3,649.1 L189.1,652.7 L188.6,654.9 L184.9,655.5 L184.3,657.5 L186.6,661.4 L185.8,663.4 L182.2,663.3 L181.4,665.1 L183.1,669.1 L182.1,670.9 L178.6,670 L177.6,671.5 L178.8,675.7 L177.6,677.1 L174.4,675.6 L173.2,676.7 L173.7,680.9 L172.4,681.9 L169.5,679.7 L168.2,680.6 L168.1,684.6 L166.6,685.2 L164.2,682.4 L162.8,682.9 L162,686.7 L160.4,686.9 L158.5,683.6 L157,683.6"/>
<path class="k" d="M99.8,579.1L140.9,569.2"/>
<path class="k" d="M104.3,578.4L145.9,568.4"/>
<path class="k" d="M109.0,578.7L151.0,568.7"/>
<path class="k" d="M113.7,580.2L156.1,570.3"/>
<path class="k" d="M118.3,582.7L161.2,573.0"/>
<path class="k" d="M122.7,586.3L166.0,576.8"/>
<path class="k" d="M126.9,590.8L170.6,581.7"/>
<path class="k" d="M130.7,596.1L174.7,587.4"/>
<path class="k" d="M134.1,602.2L178.4,594.0"/>
<path class="k" d="M137.0,609.0L181.6,601.2"/>
<path class="k" d="M139.3,616.2L184.1,608.9"/>
<path class="k" d="M141.1,623.7L186.0,617.0"/>
<path class="k" d="M142.1,631.4L187.2,625.3"/>
<path class="k" d="M142.6,639.1L187.6,633.6"/>
<path class="k" d="M142.3,646.7L187.3,641.7"/>
<path class="k" d="M141.4,654.0L186.2,649.5"/>
<path class="k" d="M139.8,660.8L184.5,656.8"/>
<path class="k" d="M137.6,667.0L182.1,663.5"/>
<path class="k" d="M134.8,672.5L179.0,669.4"/>
<path class="k" d="M131.5,677.1L175.4,674.4"/>
<path class="k" d="M127.8,680.8L171.3,678.4"/>
<path class="k" d="M123.7,683.5L166.8,681.3"/>
<path class="k" d="M119.3,685.1L162.0,683.1"/>
<path class="k" d="M114.7,685.7L157.0,683.6"/>
<path class="k" d="M104,578L150,568 M118,688L150,684"/>
<ellipse class="w" cx="110" cy="632" rx="32" ry="54" transform="rotate(-8 110 632)"/>
<path class="K" d="M141.7,627.5 L145.2,630.1 L145.5,633 L142.5,636 L142.6,638.8 L145.7,641.9 L145.6,644.8 L142.3,647 L142,649.7 L144.7,653.4 L144.2,656.1 L140.7,657.4 L140.1,659.8 L142.1,663.8 L141.2,666.3 L137.7,666.7 L136.8,668.8 L138.1,672.9 L136.9,674.9 L133.6,674.4 L132.4,676.1 L132.9,680.2 L131.5,681.8 L128.4,680.3 L126.9,681.5 L126.7,685.4 L125,686.4 L122.4,684.1 L120.8,684.7 L119.8,688.3 L118,688.6 L115.8,685.6 L114.2,685.6 L112.4,688.7 L110.5,688.4 L109.1,684.8 L107.4,684.2 L104.9,686.6 L103.1,685.7 L102.3,681.7 L100.7,680.5 L97.7,682.2 L96,680.7 L95.9,676.4 L94.4,674.7 L91,675.5 L89.4,673.5 L90.1,669.1 L88.8,667 L85.1,667 L83.8,664.6 L85.2,660.2 L84.1,657.8 L80.3,656.9 L79.3,654.2 L81.3,650.1 L80.6,647.5 L76.8,645.7 L76.2,642.8 L78.7,639.2 L78.3,636.5 L74.8,633.9 L74.5,631 L77.5,628 L77.4,625.2 L74.3,622.1 L74.4,619.2 L77.7,617 L78,614.3 L75.3,610.6 L75.8,607.9 L79.3,606.6 L79.9,604.2 L77.9,600.2 L78.8,597.7 L82.3,597.3 L83.2,595.2 L81.9,591.1 L83.1,589.1 L86.4,589.6 L87.6,587.9 L87.1,583.8 L88.5,582.2 L91.6,583.7 L93.1,582.5 L93.3,578.6 L95,577.6 L97.6,579.9 L99.2,579.3 L100.2,575.7 L102,575.4 L104.2,578.4 L105.8,578.4 L107.6,575.3 L109.5,575.6 L110.9,579.2 L112.6,579.8 L115.1,577.4 L116.9,578.3 L117.7,582.3 L119.3,583.5 L122.3,581.8 L124,583.3 L124.1,587.6 L125.6,589.3 L129,588.5 L130.6,590.5 L129.9,594.9 L131.2,597 L134.9,597 L136.2,599.4 L134.8,603.8 L135.9,606.2 L139.7,607.1 L140.7,609.8 L138.7,613.9 L139.4,616.5 L143.2,618.3 L143.8,621.2 L141.3,624.8 L141.7,627.5"/>
<ellipse class="t" cx="112" cy="633" rx="25" ry="45" transform="rotate(-8 112 633)"/>
<ellipse class="m" cx="111" cy="633" rx="22.5" ry="42" transform="rotate(-8 111 633)"/>
<ellipse class="k" cx="122" cy="638" rx="18" ry="31" transform="rotate(-8 122 638)"/>
<ellipse class="t" cx="124" cy="638" rx="15" ry="27" transform="rotate(-8 124 638)"/>
<ellipse class="kw" cx="117" cy="631" rx="10" ry="17" transform="rotate(-8 117 631)"/>
<path class="m" d="M124.9,629.9 L127.1,632.1 L127.1,634.6 L124.9,636.3 L124.6,638.2 L125.6,641.2 L124.6,643 L122.3,642.8 L121.3,643.8 L120.7,646.4 L119.2,646.8 L117.7,644.9 L116.4,644.5 L114.5,645.7 L113,644.6 L112.8,641.6 L111.7,640 L109.2,639.4 L108.3,637.2 L109.5,634.3 L109.1,632.1 L106.9,629.9 L106.9,627.4 L109.1,625.7 L109.4,623.8 L108.4,620.8 L109.4,619 L111.7,619.2 L112.7,618.2 L113.3,615.6 L114.8,615.2 L116.3,617.1 L117.6,617.5 L119.5,616.3 L121,617.4 L121.2,620.4 L122.3,622 L124.8,622.6 L125.7,624.8 L124.5,627.7 L124.9,629.9"/>
<path class="t" d="M107,622L128,618 M107,630L128,626 M108,638L128,634"/>
<path class="K" d="M59.8,663.6C59.5,663.3 58.6,662.5 58,661.8C57.5,661.2 56.9,660.5 56.4,659.7C55.9,659 55.5,658.2 55,657.3C54.6,656.5 54.2,655.6 53.9,654.7C53.5,653.8 53.2,652.9 53,651.9C52.7,651 52.5,650 52.3,649C52.1,648 52,647 51.9,646C51.8,645.1 51.8,644.1 51.8,643.1C51.9,642.1 51.9,641.1 52,640.2C52.1,639.2 52.3,638.3 52.5,637.4C52.7,636.5 53,635.6 53.3,634.8C53.6,633.9 53.9,633.1 54.3,632.4C54.7,631.6 55.1,630.9 55.5,630.3C56,629.6 56.5,629 57,628.5C57.5,627.9 58.1,627.4 58.6,627C59.2,626.6 59.8,626.3 60.4,626C61.1,625.7 61.7,625.5 62.3,625.3C63,625.2 63.7,625.1 64.3,625.1C65,625.1 65.7,625.2 66.4,625.3C67,625.5 67.7,625.7 68.4,625.9C69,626.2 69.7,626.6 70.3,627C71,627.4 71.6,627.9 72.2,628.4C72.8,628.9 73.4,629.5 73.9,630.2C74.5,630.8 75,631.5 75.5,632.3C76,633 76.5,633.8 76.9,634.6C77.4,635.5 77.7,636.3 78.1,637.2C78.4,638.1 78.8,639.1 79,640C79.3,641 79.5,642 79.7,642.9C79.9,643.9 80,644.9 80.1,645.9C80.1,646.9 80.2,647.9 80.2,648.9C80.1,649.9 80.1,650.8 80,651.8C79.9,652.7 79.7,653.7 79.5,654.6C79.3,655.5 79,656.4 78.7,657.2C78.5,658 78.1,658.8 77.7,659.6C77.4,660.3 76.9,661.1 76.5,661.7C76,662.4 75.5,663 75,663.5C74.5,664 74,664.5 73.4,664.9C72.8,665.4 72.2,665.7 71.6,666C71,666.3 70.3,666.5 69.7,666.7C69,666.8 68,666.8 67.7,666.9"/>
<path class="t" d="M60.5,661.3C60.3,661 59.5,660.3 59.1,659.7C58.6,659.1 58.2,658.4 57.8,657.7C57.4,657.1 57,656.3 56.6,655.6C56.3,654.8 56,654.1 55.7,653.3C55.4,652.5 55.1,651.6 54.9,650.8C54.7,649.9 54.5,649.1 54.4,648.2C54.3,647.3 54.2,646.4 54.1,645.6C54,644.7 54,643.8 54,643C54,642.1 54.1,641.2 54.2,640.4C54.3,639.6 54.4,638.8 54.6,638C54.8,637.2 55,636.4 55.2,635.7C55.5,635 55.8,634.3 56.1,633.6C56.4,632.9 56.7,632.3 57.1,631.8C57.5,631.2 57.9,630.7 58.3,630.2C58.7,629.7 59.2,629.3 59.7,629C60.2,628.6 60.7,628.3 61.2,628.1C61.7,627.8 62.2,627.6 62.7,627.5C63.3,627.4 63.8,627.3 64.4,627.3C64.9,627.3 65.5,627.4 66.1,627.5C66.6,627.6 67.2,627.8 67.7,628C68.3,628.3 68.9,628.6 69.4,628.9C69.9,629.3 70.5,629.7 71,630.2C71.5,630.6 72,631.1 72.4,631.7C72.9,632.3 73.4,632.9 73.8,633.5C74.2,634.2 74.6,634.9 75,635.6C75.4,636.3 75.7,637.1 76,637.9C76.3,638.7 76.6,639.5 76.8,640.3C77.1,641.2 77.3,642 77.4,642.9C77.6,643.7 77.7,644.6 77.8,645.5C77.9,646.4 78,647.2 78,648.1C78,649 78,649.8 77.9,650.7C77.8,651.5 77.7,652.4 77.6,653.2C77.4,654 77.2,654.8 77,655.5C76.8,656.3 76.5,657 76.3,657.7C76,658.4 75.6,659 75.3,659.6C74.9,660.2 74.5,660.8 74.1,661.3C73.7,661.8 73.3,662.2 72.8,662.6C72.4,663 71.9,663.4 71.4,663.7C70.9,663.9 70.4,664.2 69.8,664.3C69.3,664.5 68.5,664.6 68.2,664.7"/>
<path class="k" d="M61.4,658.7C61.2,658.4 60.6,657.7 60.2,657.2C59.8,656.6 59.5,656.1 59.2,655.4C58.8,654.8 58.5,654.2 58.3,653.5C58,652.9 57.7,652.2 57.5,651.5C57.3,650.8 57.1,650 56.9,649.3C56.8,648.6 56.7,647.8 56.6,647.1C56.5,646.3 56.4,645.6 56.4,644.8C56.3,644.1 56.3,643.3 56.4,642.6C56.4,641.8 56.5,641.1 56.5,640.4C56.6,639.7 56.8,639 56.9,638.3C57.1,637.7 57.3,637 57.5,636.4C57.7,635.8 58,635.3 58.2,634.7C58.5,634.2 58.8,633.7 59.1,633.3C59.4,632.8 59.8,632.4 60.2,632C60.5,631.7 60.9,631.4 61.3,631.1C61.7,630.8 62.1,630.6 62.6,630.5C63,630.3 63.4,630.2 63.9,630.1C64.3,630.1 64.8,630.1 65.2,630.1C65.7,630.2 66.2,630.3 66.6,630.5C67.1,630.6 67.5,630.8 68,631.1C68.4,631.3 68.9,631.7 69.3,632C69.7,632.4 70.1,632.8 70.5,633.2C71,633.7 71.3,634.2 71.7,634.7C72.1,635.2 72.4,635.8 72.8,636.4C73.1,637 73.4,637.7 73.7,638.3C74,639 74.2,639.7 74.4,640.4C74.7,641.1 74.9,641.8 75,642.5C75.2,643.3 75.3,644 75.4,644.8C75.5,645.5 75.6,646.3 75.6,647C75.7,647.8 75.7,648.5 75.7,649.3C75.6,650 75.6,650.7 75.5,651.4C75.4,652.1 75.3,652.8 75.1,653.5C75,654.2 74.8,654.8 74.6,655.4C74.3,656 74.1,656.6 73.8,657.1C73.6,657.7 73.3,658.2 72.9,658.6C72.6,659.1 72.3,659.5 71.9,659.9C71.6,660.2 71.2,660.6 70.8,660.8C70.4,661.1 70,661.3 69.5,661.5C69.1,661.7 68.4,661.8 68.2,661.8"/>
<path class="k" d="M58,660L61,666 L67,667 M63,661L66,667"/>
<path class="k" d="M20,686.5L54,679.5 M22,699L57,690.5"/>
<path class="m" d="M54,679.5L57,690.5 M51,680L53.5,690.5"/>
<ellipse class="kw" cx="17.7" cy="693.5" rx="7.5" ry="9" transform="rotate(-10 17.7 693.5)"/>
<ellipse class="k" cx="66" cy="683.5" rx="3" ry="7.6" transform="rotate(-12 66 683.5)" style="stroke-width:2.6"/>
<ellipse class="k" cx="70.9" cy="681.9" rx="3" ry="7.6" transform="rotate(-12 70.9 681.9)" style="stroke-width:2.6"/>
<ellipse class="k" cx="75.8" cy="680.3" rx="3" ry="7.6" transform="rotate(-12 75.8 680.3)" style="stroke-width:2.6"/>
<ellipse class="k" cx="80.7" cy="678.7" rx="3" ry="7.6" transform="rotate(-12 80.7 678.7)" style="stroke-width:2.6"/>
<ellipse class="k" cx="85.6" cy="677.1" rx="3" ry="7.6" transform="rotate(-12 85.6 677.1)" style="stroke-width:2.6"/>
<ellipse class="k" cx="90.5" cy="675.5" rx="3" ry="7.6" transform="rotate(-12 90.5 675.5)" style="stroke-width:2.6"/>
<ellipse class="k" cx="95.4" cy="673.9" rx="3" ry="7.6" transform="rotate(-12 95.4 673.9)" style="stroke-width:2.6"/>
<ellipse class="k" cx="100.3" cy="672.3" rx="3" ry="7.6" transform="rotate(-12 100.3 672.3)" style="stroke-width:2.6"/>
<ellipse class="kw" cx="65" cy="684" rx="4.5" ry="6.5" transform="rotate(-10 65 684)"/>
<ellipse class="m" cx="65.5" cy="684" rx="2" ry="3.2" transform="rotate(-10 65.5 684)"/>
<path class="K" d="M304.5,493.8C307.1,492.9 314.7,489.4 320,488.5C325.3,487.6 331.5,486.1 336.5,488.2C341.5,490.3 345.8,496 350,501C354.2,506 358.5,511.5 362,518C365.5,524.5 368.7,533 371,540C373.3,547 374.9,553.3 376,560C377.1,566.7 377.1,573.3 377.5,580C377.9,586.7 378.6,593.3 378.5,600C378.4,606.7 377.9,613.3 377,620C376.1,626.7 374.8,633.8 373,640C371.2,646.2 369,652.3 366,657C363,661.7 358.8,665.3 355,668C351.2,670.7 345,672.2 343,673"/>
<path class="m" d="M336.5,490C339.1,491.3 347.1,493.8 352,498C356.9,502.2 361.8,508.5 366,515C370.2,521.5 374.2,529.5 377,537C379.8,544.5 381.7,552 383,560C384.3,568 384.6,577.5 385,585C385.4,592.5 385.7,598.3 385.5,605C385.3,611.7 385.1,618.3 384,625C382.9,631.7 381.3,639.2 379,645C376.7,650.8 371.5,657.5 370,660"/>
<path class="t" d="M340,492C342.7,493.5 351,496.7 356,501C361,505.3 366,511.5 370,518C374,524.5 377.3,532.5 380,540C382.7,547.5 384.7,555 386,563C387.3,571 387.7,580.2 388,588C388.3,595.8 388.3,603 388,610C387.7,617 387.2,623.7 386,630C384.8,636.3 381.8,645 381,648"/>
<path class="k" d="M318,497.8C320.8,498.9 329.7,501.2 335,504.2C340.3,507.2 347.5,514 350,516"/>
<path class="k" d="M304.5,493.8L318,489 L320,486 L326,486 L327,483 L333,483 L336,489"/>
<path class="kw" d="M377,557L391,558.5 L391.6,577 L384,579" style="stroke-width:2"/>
<path class="kw" d="M377.5,636L386.5,638 L385,648 L375,652" style="stroke-width:2"/>
<path class="k" d="M331.4,509C331.4,509 331.6,508.9 331.6,508.8C331.7,508.7 331.8,508.7 331.9,508.6C332,508.6 332.1,508.5 332.2,508.5C332.3,508.5 332.4,508.4 332.5,508.4C332.6,508.4 332.7,508.4 332.8,508.4C332.9,508.4 333,508.4 333.1,508.4C333.2,508.4 333.3,508.5 333.4,508.5C333.5,508.5 333.6,508.6 333.7,508.6C333.8,508.7 333.9,508.8 334,508.8C334.1,508.9 334.2,509 334.3,509C334.3,509.1 334.4,509.2 334.5,509.3C334.5,509.4 334.6,509.5 334.7,509.6C334.7,509.7 334.8,509.8 334.8,509.9C334.8,510 334.9,510.2 334.9,510.3C334.9,510.4 335,510.5 335,510.6C335,510.8 335,510.9 335,511C335,511.1 335,511.2 335,511.4C335,511.5 334.9,511.6 334.9,511.7C334.9,511.8 334.8,512 334.8,512.1C334.8,512.2 334.7,512.3 334.7,512.4C334.6,512.5 334.5,512.6 334.5,512.7C334.4,512.8 334.3,512.9 334.3,513C334.2,513 334.1,513.1 334,513.2C333.9,513.2 333.8,513.3 333.7,513.4C333.6,513.4 333.5,513.5 333.4,513.5C333.3,513.5 333.2,513.6 333.1,513.6C333,513.6 332.9,513.6 332.8,513.6C332.7,513.6 332.6,513.6 332.5,513.6C332.4,513.6 332.3,513.5 332.2,513.5C332.1,513.5 332,513.4 331.9,513.4C331.8,513.3 331.7,513.3 331.6,513.2C331.6,513.1 331.4,513 331.4,513" style="stroke-width:2"/>
<path class="k" d="M347.6,523C347.6,523 347.8,522.9 347.8,522.8C347.9,522.7 348,522.7 348.1,522.6C348.2,522.6 348.3,522.5 348.4,522.5C348.5,522.5 348.6,522.4 348.7,522.4C348.8,522.4 348.9,522.4 349,522.4C349.1,522.4 349.2,522.4 349.3,522.4C349.4,522.4 349.5,522.5 349.6,522.5C349.7,522.5 349.8,522.6 349.9,522.6C350,522.7 350.1,522.8 350.2,522.8C350.3,522.9 350.4,523 350.5,523C350.5,523.1 350.6,523.2 350.7,523.3C350.7,523.4 350.8,523.5 350.9,523.6C350.9,523.7 351,523.8 351,523.9C351,524 351.1,524.2 351.1,524.3C351.1,524.4 351.2,524.5 351.2,524.6C351.2,524.8 351.2,524.9 351.2,525C351.2,525.1 351.2,525.2 351.2,525.4C351.2,525.5 351.1,525.6 351.1,525.7C351.1,525.8 351,526 351,526.1C351,526.2 350.9,526.3 350.9,526.4C350.8,526.5 350.7,526.6 350.7,526.7C350.6,526.8 350.5,526.9 350.5,527C350.4,527 350.3,527.1 350.2,527.2C350.1,527.2 350,527.3 349.9,527.4C349.8,527.4 349.7,527.5 349.6,527.5C349.5,527.5 349.4,527.6 349.3,527.6C349.2,527.6 349.1,527.6 349,527.6C348.9,527.6 348.8,527.6 348.7,527.6C348.6,527.6 348.5,527.5 348.4,527.5C348.3,527.5 348.2,527.4 348.1,527.4C348,527.3 347.9,527.3 347.8,527.2C347.8,527.1 347.6,527 347.6,527" style="stroke-width:2"/>
<path class="k" d="M362,549C362,549 362.2,548.9 362.2,548.8C362.3,548.7 362.4,548.7 362.5,548.6C362.6,548.6 362.7,548.5 362.8,548.5C362.9,548.5 363,548.4 363.1,548.4C363.2,548.4 363.3,548.4 363.4,548.4C363.5,548.4 363.6,548.4 363.7,548.4C363.8,548.4 363.9,548.5 364,548.5C364.1,548.5 364.2,548.6 364.3,548.6C364.4,548.7 364.5,548.8 364.6,548.8C364.7,548.9 364.8,549 364.9,549C364.9,549.1 365,549.2 365.1,549.3C365.1,549.4 365.2,549.5 365.3,549.6C365.3,549.7 365.4,549.8 365.4,549.9C365.4,550 365.5,550.2 365.5,550.3C365.5,550.4 365.6,550.5 365.6,550.6C365.6,550.8 365.6,550.9 365.6,551C365.6,551.1 365.6,551.2 365.6,551.4C365.6,551.5 365.5,551.6 365.5,551.7C365.5,551.8 365.4,552 365.4,552.1C365.4,552.2 365.3,552.3 365.3,552.4C365.2,552.5 365.1,552.6 365.1,552.7C365,552.8 364.9,552.9 364.9,553C364.8,553 364.7,553.1 364.6,553.2C364.5,553.2 364.4,553.3 364.3,553.4C364.2,553.4 364.1,553.5 364,553.5C363.9,553.5 363.8,553.6 363.7,553.6C363.6,553.6 363.5,553.6 363.4,553.6C363.3,553.6 363.2,553.6 363.1,553.6C363,553.6 362.9,553.5 362.8,553.5C362.7,553.5 362.6,553.4 362.5,553.4C362.4,553.3 362.3,553.3 362.2,553.2C362.2,553.1 362,553 362,553" style="stroke-width:2"/>
<path class="k" d="M372.6,590.4C372.6,590.4 372.8,590.3 372.8,590.2C372.9,590.1 373,590.1 373.1,590C373.2,590 373.3,589.9 373.4,589.9C373.5,589.9 373.6,589.8 373.7,589.8C373.8,589.8 373.9,589.8 374,589.8C374.1,589.8 374.2,589.8 374.3,589.8C374.4,589.8 374.5,589.9 374.6,589.9C374.7,589.9 374.8,590 374.9,590C375,590.1 375.1,590.2 375.2,590.2C375.3,590.3 375.4,590.4 375.5,590.4C375.5,590.5 375.6,590.6 375.7,590.7C375.7,590.8 375.8,590.9 375.9,591C375.9,591.1 376,591.2 376,591.3C376,591.4 376.1,591.6 376.1,591.7C376.1,591.8 376.2,591.9 376.2,592C376.2,592.2 376.2,592.3 376.2,592.4C376.2,592.5 376.2,592.6 376.2,592.8C376.2,592.9 376.1,593 376.1,593.1C376.1,593.2 376,593.4 376,593.5C376,593.6 375.9,593.7 375.9,593.8C375.8,593.9 375.7,594 375.7,594.1C375.6,594.2 375.5,594.3 375.5,594.4C375.4,594.4 375.3,594.5 375.2,594.6C375.1,594.6 375,594.7 374.9,594.8C374.8,594.8 374.7,594.9 374.6,594.9C374.5,594.9 374.4,595 374.3,595C374.2,595 374.1,595 374,595C373.9,595 373.8,595 373.7,595C373.6,595 373.5,594.9 373.4,594.9C373.3,594.9 373.2,594.8 373.1,594.8C373,594.7 372.9,594.7 372.8,594.6C372.8,594.5 372.6,594.4 372.6,594.4" style="stroke-width:2"/>
<path class="k" d="M367.3,627.8C367.3,627.8 367.5,627.7 367.5,627.6C367.6,627.5 367.7,627.5 367.8,627.4C367.9,627.4 368,627.3 368.1,627.3C368.2,627.3 368.3,627.2 368.4,627.2C368.5,627.2 368.6,627.2 368.7,627.2C368.8,627.2 368.9,627.2 369,627.2C369.1,627.2 369.2,627.3 369.3,627.3C369.4,627.3 369.5,627.4 369.6,627.4C369.7,627.5 369.8,627.6 369.9,627.6C370,627.7 370.1,627.8 370.2,627.8C370.2,627.9 370.3,628 370.4,628.1C370.4,628.2 370.5,628.3 370.6,628.4C370.6,628.5 370.7,628.6 370.7,628.7C370.7,628.8 370.8,629 370.8,629.1C370.8,629.2 370.9,629.3 370.9,629.4C370.9,629.6 370.9,629.7 370.9,629.8C370.9,629.9 370.9,630 370.9,630.2C370.9,630.3 370.8,630.4 370.8,630.5C370.8,630.6 370.7,630.8 370.7,630.9C370.7,631 370.6,631.1 370.6,631.2C370.5,631.3 370.4,631.4 370.4,631.5C370.3,631.6 370.2,631.7 370.2,631.8C370.1,631.8 370,631.9 369.9,632C369.8,632 369.7,632.1 369.6,632.2C369.5,632.2 369.4,632.3 369.3,632.3C369.2,632.3 369.1,632.4 369,632.4C368.9,632.4 368.8,632.4 368.7,632.4C368.6,632.4 368.5,632.4 368.4,632.4C368.3,632.4 368.2,632.3 368.1,632.3C368,632.3 367.9,632.2 367.8,632.2C367.7,632.1 367.6,632.1 367.5,632C367.5,631.9 367.3,631.8 367.3,631.8" style="stroke-width:2"/>
<path class="kw" d="M268.4,509.8C270.3,508.5 275.7,503.9 280,502C284.3,500.1 289.7,498.7 294,498.2C298.3,497.7 301.3,497.5 306,499C310.7,500.5 316.7,503.7 322,507.4C327.3,511.1 334,516.5 338,521C342,525.5 343,529.5 346,534.7C349,539.9 353.5,546.1 356,552C358.5,557.9 359.8,563.7 361,570C362.2,576.3 363,583.2 363.4,590C363.8,596.8 364,604.3 363.4,611C362.8,617.7 361.7,624 360,630C358.3,636 355.7,642.3 353,647C350.3,651.7 347.3,654.8 344,658C340.7,661.2 337,663.7 333,666C329,668.3 324.7,670.5 320,672C315.3,673.5 307.5,674.5 305,675" style="stroke-width:2.6"/>
<path class="t" d="M312,502C315,503.7 324.8,507.8 330,512C335.2,516.2 339.3,521.5 343,527C346.7,532.5 349.6,538.7 352,545C354.4,551.3 356.2,558.3 357.5,565C358.8,571.7 359.2,577.5 359.5,585C359.8,592.5 360.1,602.5 359.5,610C358.9,617.5 357.8,624 356,630C354.2,636 350.2,643.3 349,646"/>
<path class="t" d="M330,510C332.7,512.3 341.5,518.2 346,524C350.5,529.8 354.1,538.2 357,545C359.9,551.8 362,558.3 363.5,565C365,571.7 365.6,577.5 366,585C366.4,592.5 366.5,602.5 366,610C365.5,617.5 363.5,626.7 363,630"/>
<path class="k" d="M284.3,530.6C284.4,530.2 284.2,528.6 284.4,528.2C284.5,527.8 284.7,527.7 285,527.9C285.4,528.2 285.9,529.2 286.3,529.8C286.7,530.4 287.2,531.4 287.5,531.7C287.8,532 287.9,531.9 288.1,531.5C288.2,531.1 288.2,530 288.2,529.2C288.3,528.4 288.3,527.3 288.5,526.9C288.6,526.5 288.9,526.4 289.2,526.8C289.5,527.1 289.9,528.1 290.2,528.8C290.6,529.4 290.9,530.5 291.2,530.8C291.5,531.1 291.7,531.1 291.8,530.7C292,530.3 292.1,529.2 292.2,528.5C292.4,527.7 292.5,526.7 292.7,526.3C292.9,525.9 293.2,525.9 293.4,526.2C293.7,526.6 294,527.7 294.3,528.4C294.6,529.1 294.8,530.2 295.1,530.5C295.3,530.9 295.5,530.9 295.7,530.6C295.9,530.2 296.1,529.1 296.3,528.4C296.6,527.7 296.8,526.7 297,526.3C297.3,526 297.5,526 297.8,526.4C298,526.8 298.2,527.9 298.4,528.7C298.6,529.4 298.8,530.5 299,530.9C299.2,531.3 299.4,531.4 299.6,531.1C299.9,530.7 300.2,529.7 300.5,529C300.8,528.4 301.1,527.4 301.4,527.1C301.7,526.8 301.9,526.8 302.1,527.2C302.3,527.7 302.4,528.8 302.5,529.6C302.7,530.4 302.7,531.5 302.9,532C303,532.4 303.2,532.5 303.5,532.2C303.8,531.9 304.2,530.9 304.6,530.3C305,529.7 305.4,528.7 305.7,528.5C306,528.2 306.3,528.3 306.4,528.8C306.6,529.2 306.6,530.4 306.6,531.2C306.7,532 306.6,533.1 306.8,533.6C306.9,534.1 307.1,534.2 307.4,533.9C307.7,533.7 308.2,532.8 308.7,532.2C309.1,531.6 309.7,530.7 310,530.5C310.3,530.3 310.6,530.5 310.7,530.9C310.8,531.4 310.7,532.6 310.7,533.4C310.7,534.2 310.5,535.4 310.6,535.8C310.7,536.3 310.8,536.5 311.2,536.3C311.5,536.1 312.2,535.2 312.7,534.7C313.2,534.2 313.8,533.4 314.2,533.2C314.5,533.1 314.8,533.2 314.9,533.7C314.9,534.2 314.7,535.4 314.6,536.2C314.5,537 314.2,538.2 314.3,538.7C314.3,539.2 314.5,539.3 314.9,539.2C315.2,539.1 316,538.3 316.5,537.8C317.1,537.4 317.8,536.6 318.2,536.5C318.6,536.4 318.8,536.6 318.9,537.1C318.9,537.7 318.5,538.8 318.4,539.6C318.2,540.4 317.8,541.5 317.8,542.1C317.8,542.6 318,542.8 318.4,542.7C318.8,542.6 319.6,541.9 320.2,541.5C320.8,541.1 321.6,540.5 322,540.4C322.5,540.3 322.7,540.6 322.7,541.1C322.6,541.6 322.2,542.7 322,543.5C321.7,544.4 321.2,545.4 321.2,546C321.2,546.5 321.3,546.7 321.7,546.6C322.1,546.6 323,546 323.7,545.7C324.3,545.4 325.2,544.8 325.7,544.8C326.1,544.8 326.3,545.1 326.2,545.6C326.2,546.1 325.6,547.2 325.3,548C325,548.8 324.4,549.8 324.3,550.3C324.3,550.8 324.4,551.1 324.8,551.1C325.3,551.1 326.2,550.6 326.9,550.4C327.6,550.2 328.6,549.7 329,549.7C329.4,549.8 329.6,550.1 329.5,550.6C329.4,551.1 328.8,552.1 328.4,552.9C328,553.6 327.4,554.6 327.2,555.1C327.1,555.6 327.3,555.9 327.7,556C328.1,556 329.1,555.6 329.9,555.5C330.6,555.3 331.6,555 332,555.1C332.5,555.2 332.7,555.5 332.5,556C332.4,556.5 331.7,557.5 331.2,558.2C330.8,558.9 330,559.8 329.9,560.3C329.7,560.8 329.8,561.1 330.3,561.2C330.7,561.3 331.7,561 332.5,561C333.2,560.9 334.3,560.7 334.8,560.8C335.2,560.9 335.3,561.3 335.2,561.8C335,562.3 334.2,563.2 333.7,563.8C333.2,564.5 332.4,565.3 332.2,565.8C332,566.3 332.1,566.6 332.5,566.8C333,566.9 334,566.8 334.8,566.8C335.6,566.8 336.7,566.7 337.1,566.8C337.5,567 337.7,567.4 337.5,567.9C337.2,568.4 336.4,569.2 335.8,569.8C335.3,570.4 334.4,571.2 334.1,571.6C333.9,572.1 334,572.4 334.4,572.6C334.9,572.8 336,572.8 336.7,572.8C337.5,572.9 338.6,572.9 339.1,573.2C339.5,573.4 339.6,573.8 339.4,574.2C339.1,574.7 338.2,575.4 337.6,576C337,576.5 336,577.2 335.8,577.6C335.5,578.1 335.6,578.4 336,578.6C336.4,578.9 337.5,578.9 338.3,579.1C339.1,579.3 340.2,579.4 340.6,579.7C341.1,579.9 341.1,580.3 340.9,580.8C340.6,581.2 339.6,581.8 338.9,582.3C338.3,582.8 337.3,583.4 337,583.8C336.7,584.2 336.8,584.5 337.2,584.8C337.6,585.1 338.7,585.3 339.5,585.5C340.2,585.8 341.4,586 341.8,586.3C342.2,586.6 342.2,587 341.9,587.4C341.6,587.8 340.6,588.3 339.9,588.7C339.2,589.2 338.2,589.6 337.9,590C337.6,590.4 337.6,590.7 338,591C338.4,591.4 339.5,591.7 340.2,592C341,592.3 342.1,592.6 342.5,593C342.9,593.3 342.9,593.7 342.6,594.1C342.2,594.5 341.2,594.9 340.5,595.2C339.8,595.6 338.7,595.9 338.3,596.3C338,596.6 338,596.9 338.4,597.3C338.8,597.7 339.9,598.1 340.6,598.4C341.3,598.8 342.4,599.3 342.8,599.7C343.1,600 343.1,600.4 342.8,600.8C342.4,601.1 341.3,601.4 340.6,601.7C339.9,601.9 338.8,602.2 338.4,602.5C338.1,602.8 338.1,603.1 338.4,603.5C338.7,603.9 339.8,604.4 340.5,604.8C341.2,605.3 342.2,605.8 342.6,606.3C342.9,606.7 342.9,607.1 342.5,607.3C342.1,607.6 341,607.8 340.3,608C339.6,608.2 338.5,608.3 338.1,608.6C337.7,608.8 337.7,609.1 338,609.6C338.3,610 339.3,610.6 340,611.1C340.7,611.6 341.7,612.3 342,612.7C342.3,613.2 342.2,613.5 341.8,613.8C341.4,614 340.3,614.1 339.6,614.2C338.9,614.3 337.8,614.3 337.4,614.5C337,614.7 336.9,615 337.2,615.5C337.5,615.9 338.5,616.6 339.1,617.2C339.7,617.8 340.7,618.5 340.9,619C341.2,619.4 341.1,619.8 340.7,620C340.3,620.2 339.2,620.1 338.5,620.1C337.7,620.2 336.7,620 336.3,620.2C335.9,620.4 335.8,620.7 336.1,621.1C336.3,621.6 337.2,622.4 337.8,623C338.3,623.6 339.2,624.4 339.4,624.9C339.7,625.4 339.6,625.7 339.2,625.9C338.7,626 337.7,625.8 337,625.8C336.2,625.7 335.2,625.5 334.8,625.6C334.4,625.7 334.3,626 334.5,626.5C334.7,626.9 335.6,627.8 336.1,628.5C336.6,629.2 337.4,630 337.6,630.5C337.8,631 337.6,631.3 337.2,631.4C336.8,631.5 335.8,631.2 335.1,631.1C334.4,630.9 333.4,630.6 333,630.7C332.6,630.7 332.5,631 332.6,631.5C332.8,631.9 333.5,632.9 334,633.6C334.4,634.3 335.1,635.3 335.3,635.8C335.4,636.2 335.3,636.5 334.9,636.6C334.5,636.6 333.5,636.2 332.8,636C332.1,635.8 331.2,635.3 330.8,635.3C330.4,635.3 330.3,635.6 330.4,636C330.5,636.5 331.2,637.5 331.6,638.3C331.9,639 332.6,640 332.7,640.5C332.8,641 332.6,641.3 332.2,641.3C331.8,641.2 330.9,640.7 330.2,640.4C329.6,640.1 328.7,639.6 328.3,639.5C327.9,639.5 327.8,639.7 327.8,640.2C327.9,640.7 328.5,641.7 328.8,642.5C329.1,643.2 329.6,644.3 329.7,644.8C329.7,645.3 329.6,645.5 329.2,645.4C328.8,645.4 327.9,644.7 327.3,644.4C326.7,644 325.9,643.3 325.5,643.2C325.1,643.1 325,643.3 325,643.8C325,644.3 325.5,645.4 325.7,646.1C326,646.9 326.4,648 326.4,648.5C326.4,649 326.2,649.2 325.8,649.1C325.4,648.9 324.7,648.2 324.1,647.8C323.5,647.3 322.8,646.6 322.4,646.4C322.1,646.3 321.9,646.4 321.9,646.9C321.9,647.4 322.3,648.5 322.4,649.3C322.6,650 322.9,651.2 322.8,651.6C322.8,652.1 322.6,652.3 322.2,652.1C321.9,651.9 321.2,651.1 320.7,650.6C320.1,650.1 319.5,649.2 319.2,649C318.8,648.8 318.6,649 318.6,649.4C318.5,649.9 318.8,651.4 318.9,651.8"/>
<path class="k" d="M241,513.4C242.2,513.1 245.7,511.6 248.2,511.1C250.6,510.7 253.2,510.5 255.7,510.6C258.2,510.7 260.8,511 263.3,511.7C265.8,512.4 268.4,513.3 270.9,514.6C273.4,515.8 275.9,517.3 278.3,519.1C280.7,520.9 283.1,522.9 285.4,525.2C287.7,527.5 289.9,530 292,532.7C294.1,535.4 296.2,538.4 298,541.5C299.9,544.7 301.7,548 303.3,551.5C305,554.9 306.5,558.6 307.8,562.3C309.1,566.1 310.3,569.9 311.4,573.9C312.4,577.8 313.2,581.8 313.9,585.9C314.6,589.9 315.1,594 315.4,598.1C315.7,602.2 315.9,606.3 315.9,610.3C315.8,614.3 315.6,618.4 315.2,622.3C314.8,626.2 314.2,630 313.5,633.7C312.8,637.4 311.8,641 310.8,644.4C309.7,647.8 308.4,651.1 307,654.1C305.6,657.2 304.1,660.1 302.4,662.7C300.7,665.4 298.9,667.8 297,670C295,672.2 293,674.2 290.8,675.8C288.7,677.5 286.4,678.9 284.1,680.1C281.8,681.2 279.4,682.1 277,682.6C274.5,683.2 270.7,683.3 269.5,683.5" style="stroke-width:2.5"/>
<path class="t" d="M242.9,511.8C244.1,511.6 247.7,510.7 250.2,510.6C252.7,510.4 255.2,510.6 257.7,511C260.2,511.5 262.8,512.2 265.3,513.2C267.8,514.2 270.3,515.5 272.7,517C275.1,518.5 277.5,520.3 279.9,522.4C282.2,524.4 284.5,526.7 286.7,529.2C288.8,531.7 290.9,534.5 292.9,537.4C294.9,540.3 296.7,543.4 298.5,546.7C300.2,550 301.8,553.5 303.3,557.1C304.8,560.6 306.1,564.4 307.3,568.2C308.4,572 309.4,575.9 310.3,579.9C311.1,583.8 311.8,587.9 312.3,591.9C312.8,595.9 313.1,600 313.3,604C313.4,608.1 313.4,612.1 313.2,616C313,620 312.6,623.9 312.1,627.6C311.5,631.4 310.8,635.1 309.9,638.7C309,642.2 307.9,645.6 306.7,648.9C305.5,652.1 304.1,655.2 302.6,658C301.1,660.9 299.5,663.6 297.7,666C295.9,668.4 294,670.7 292,672.6C290,674.6 287.9,676.3 285.7,677.7C283.5,679.2 281.2,680.4 278.8,681.3C276.5,682.2 272.8,682.8 271.6,683.2"/>
<ellipse class="w" cx="241.5" cy="600" rx="52" ry="84.5" transform="rotate(-8 241.5 600)"/>
<ellipse class="K" cx="241.5" cy="600" rx="52" ry="84.5" transform="rotate(-8 241.5 600)"/>
<path class="t" d="M238.5,517.3C239.7,517.8 243.6,519 246.1,520.3C248.6,521.6 251.1,523.2 253.5,525C255.9,526.8 258.3,528.9 260.6,531.2C262.9,533.6 265.1,536.2 267.1,539C269.2,541.8 271.2,544.8 273.1,548C274.9,551.2 276.6,554.6 278.2,558.1C279.8,561.6 281.2,565.3 282.5,569.1C283.7,572.8 284.8,576.8 285.7,580.7C286.7,584.7 287.4,588.7 288,592.8C288.6,596.8 289,600.9 289.2,605C289.4,609 289.4,613.1 289.2,617.1C289,621 288.7,625 288.1,628.8C287.6,632.6 286.9,636.4 286,639.9C285.1,643.5 284,647 282.8,650.2C281.6,653.5 280.1,656.6 278.6,659.4C277.1,662.3 275.4,665 273.5,667.4C271.7,669.8 269.8,672 267.7,674C265.6,675.9 262.3,678.1 261.2,679"/>
<path class="k" d="M272.7,595.1C273.1,595.3 274.7,595.9 275.1,596.4C275.5,596.8 275.6,597.4 275.3,597.9C275,598.5 273.9,599.1 273.2,599.6C272.5,600.2 271.4,600.7 271,601.2C270.7,601.7 270.7,602.2 271.1,602.7C271.5,603.2 272.7,603.6 273.4,604.2C274.2,604.7 275.4,605.3 275.7,605.8C276.1,606.3 276.1,606.9 275.7,607.3C275.4,607.8 274.2,608.2 273.5,608.6C272.7,609.1 271.6,609.4 271.2,609.8C270.8,610.3 270.8,610.7 271.1,611.2C271.5,611.8 272.6,612.4 273.3,613.1C274,613.7 275,614.4 275.3,615C275.7,615.6 275.6,616.1 275.2,616.5C274.8,616.9 273.6,617.1 272.8,617.4C272,617.7 270.9,617.8 270.5,618.2C270,618.5 270,618.9 270.3,619.5C270.5,620.1 271.5,620.9 272.1,621.6C272.7,622.4 273.7,623.3 273.9,623.9C274.2,624.5 274.1,625 273.6,625.3C273.1,625.6 272,625.6 271.2,625.7C270.4,625.8 269.3,625.8 268.8,626C268.4,626.3 268.3,626.7 268.5,627.3C268.7,627.9 269.5,628.8 270.1,629.6C270.6,630.4 271.4,631.4 271.5,632C271.7,632.7 271.5,633.1 271.1,633.3C270.6,633.5 269.5,633.3 268.7,633.3C267.9,633.3 266.8,633 266.4,633.2C265.9,633.3 265.8,633.7 265.9,634.3C266,634.9 266.7,635.9 267.1,636.8C267.5,637.6 268.2,638.7 268.2,639.3C268.3,640 268.1,640.4 267.6,640.5C267.1,640.6 266.1,640.2 265.3,640C264.6,639.8 263.6,639.3 263.1,639.4C262.7,639.4 262.5,639.7 262.5,640.3C262.6,640.9 263.1,642.1 263.4,642.9C263.6,643.8 264.1,645 264.1,645.6C264.1,646.2 263.8,646.5 263.3,646.5C262.9,646.5 261.9,645.9 261.2,645.6C260.5,645.3 259.7,644.6 259.2,644.5C258.7,644.5 258.5,644.7 258.5,645.3C258.4,645.9 258.8,647 258.9,647.9C259.1,648.8 259.4,650 259.3,650.6C259.2,651.1 258.9,651.4 258.4,651.3C257.9,651.2 257.1,650.4 256.5,649.9C255.9,649.5 255.1,648.6 254.7,648.5C254.3,648.3 254,648.5 253.9,649C253.8,649.5 253.9,650.7 253.9,651.6C253.9,652.5 254,653.7 253.8,654.2C253.7,654.7 253.3,654.9 252.9,654.6C252.5,654.4 251.8,653.5 251.3,652.9C250.7,652.3 250.1,651.4 249.7,651.1C249.3,650.9 249.1,651 248.9,651.4C248.7,651.9 248.6,653.1 248.5,653.9C248.3,654.7 248.2,655.9 248,656.3C247.7,656.8 247.4,656.8 247,656.5C246.6,656.2 246.1,655.2 245.7,654.5C245.2,653.8 244.8,652.7 244.4,652.3C244.1,652 243.8,652 243.5,652.4C243.3,652.8 243,653.9 242.8,654.7C242.5,655.4 242.2,656.6 241.9,656.9C241.5,657.3 241.2,657.3 240.8,656.9C240.5,656.5 240.2,655.3 239.8,654.5C239.5,653.7 239.3,652.6 239,652.1C238.7,651.7 238.4,651.7 238.1,652C237.7,652.3 237.3,653.3 236.9,654C236.5,654.7 236,655.7 235.6,656C235.2,656.2 234.9,656.1 234.6,655.7C234.3,655.2 234.2,654 234,653.1C233.8,652.2 233.7,651 233.5,650.5C233.3,650 233,649.9 232.6,650.1C232.2,650.3 231.6,651.3 231.1,651.8C230.6,652.4 229.9,653.3 229.5,653.5C229,653.7 228.7,653.5 228.5,652.9C228.2,652.4 228.3,651.1 228.2,650.2C228.2,649.3 228.3,648.1 228.1,647.5C228,647 227.7,646.8 227.3,646.9C226.8,647 226.1,647.8 225.5,648.3C224.8,648.7 224,649.5 223.5,649.5C223,649.6 222.7,649.3 222.6,648.8C222.4,648.2 222.7,646.9 222.8,646C222.8,645 223.1,643.8 223.1,643.2C223,642.6 222.7,642.4 222.2,642.4C221.8,642.4 220.9,643.1 220.2,643.4C219.4,643.7 218.5,644.3 218,644.3C217.5,644.2 217.2,643.9 217.1,643.2C217.1,642.6 217.5,641.4 217.7,640.5C217.9,639.6 218.4,638.4 218.4,637.7C218.4,637.1 218.1,636.8 217.6,636.7C217.1,636.7 216.1,637.1 215.4,637.3C214.6,637.5 213.5,637.9 213,637.8C212.5,637.6 212.2,637.2 212.2,636.6C212.3,635.9 212.8,634.8 213.2,633.9C213.5,633 214.1,631.9 214.2,631.2C214.3,630.6 214.1,630.2 213.6,630.1C213.1,629.9 212,630.2 211.2,630.2C210.3,630.2 209.2,630.4 208.7,630.2C208.2,630 207.9,629.5 208,628.9C208.1,628.2 208.9,627.2 209.3,626.3C209.8,625.5 210.6,624.5 210.7,623.9C210.9,623.3 210.7,622.8 210.2,622.6C209.7,622.3 208.5,622.4 207.7,622.3C206.9,622.2 205.7,622.2 205.2,621.9C204.7,621.6 204.5,621 204.7,620.4C204.9,619.8 205.7,618.8 206.3,618.1C206.8,617.3 207.7,616.5 208,615.9C208.2,615.3 208.1,614.8 207.6,614.5C207.1,614.1 205.9,614 205.1,613.8C204.2,613.5 203,613.3 202.6,612.9C202.1,612.5 202,612 202.2,611.4C202.5,610.8 203.5,610 204.1,609.4C204.7,608.7 205.7,608 206,607.4C206.3,606.9 206.2,606.4 205.8,606C205.3,605.6 204.2,605.3 203.3,604.9C202.5,604.5 201.3,604.1 200.9,603.6C200.5,603.2 200.4,602.6 200.7,602.1C201,601.5 202.1,600.9 202.8,600.4C203.5,599.8 204.6,599.3 205,598.8C205.3,598.3 205.3,597.8 204.9,597.3C204.5,596.8 203.3,596.4 202.6,595.8C201.8,595.3 200.6,594.7 200.3,594.2C199.9,593.7 199.9,593.1 200.3,592.7C200.6,592.2 201.8,591.8 202.5,591.4C203.3,590.9 204.4,590.6 204.8,590.2C205.2,589.7 205.2,589.3 204.9,588.8C204.5,588.2 203.4,587.6 202.7,586.9C202,586.3 201,585.6 200.7,585C200.3,584.4 200.4,583.9 200.8,583.5C201.2,583.1 202.4,582.9 203.2,582.6C204,582.3 205.1,582.2 205.5,581.8C206,581.5 206,581.1 205.7,580.5C205.5,579.9 204.5,579.1 203.9,578.4C203.3,577.6 202.3,576.7 202.1,576.1C201.8,575.5 201.9,575 202.4,574.7C202.9,574.4 204,574.4 204.8,574.3C205.6,574.2 206.7,574.2 207.2,574C207.6,573.7 207.7,573.3 207.5,572.7C207.3,572.1 206.5,571.2 205.9,570.4C205.4,569.6 204.6,568.6 204.5,568C204.3,567.3 204.5,566.9 204.9,566.7C205.4,566.5 206.5,566.7 207.3,566.7C208.1,566.7 209.2,567 209.6,566.8C210.1,566.7 210.2,566.3 210.1,565.7C210,565.1 209.3,564.1 208.9,563.2C208.5,562.4 207.8,561.3 207.8,560.7C207.7,560 207.9,559.6 208.4,559.5C208.9,559.4 209.9,559.8 210.7,560C211.4,560.2 212.4,560.7 212.9,560.6C213.3,560.6 213.5,560.3 213.5,559.7C213.4,559.1 212.9,557.9 212.6,557.1C212.4,556.2 211.9,555 211.9,554.4C211.9,553.8 212.2,553.5 212.7,553.5C213.1,553.5 214.1,554.1 214.8,554.4C215.5,554.7 216.3,555.4 216.8,555.5C217.3,555.5 217.5,555.3 217.5,554.7C217.6,554.1 217.2,553 217.1,552.1C216.9,551.2 216.6,550 216.7,549.4C216.8,548.9 217.1,548.6 217.6,548.7C218.1,548.8 218.9,549.6 219.5,550.1C220.1,550.5 220.9,551.4 221.3,551.5C221.7,551.7 222,551.5 222.1,551C222.2,550.5 222.1,549.3 222.1,548.4C222.1,547.5 222,546.3 222.2,545.8C222.3,545.3 222.7,545.1 223.1,545.4C223.5,545.6 224.2,546.5 224.7,547.1C225.3,547.7 225.9,548.6 226.3,548.9C226.7,549.1 226.9,549 227.1,548.6C227.3,548.1 227.4,546.9 227.5,546.1C227.7,545.3 227.8,544.1 228,543.7C228.3,543.2 228.6,543.2 229,543.5C229.4,543.8 229.9,544.8 230.3,545.5C230.8,546.2 231.2,547.3 231.6,547.7C231.9,548 232.2,548 232.5,547.6C232.7,547.2 233,546.1 233.2,545.3C233.5,544.6 233.8,543.4 234.1,543.1C234.5,542.7 234.8,542.7 235.2,543.1C235.5,543.5 235.8,544.7 236.2,545.5C236.5,546.3 236.7,547.4 237,547.9C237.3,548.3 237.6,548.3 237.9,548C238.3,547.7 238.7,546.7 239.1,546C239.5,545.3 240,544.3 240.4,544C240.8,543.8 241.1,543.9 241.4,544.3C241.7,544.8 241.8,546 242,546.9C242.2,547.8 242.3,549 242.5,549.5C242.7,550 243,550.1 243.4,549.9C243.8,549.7 244.4,548.7 244.9,548.2C245.4,547.6 246.1,546.7 246.5,546.5C247,546.3 247.3,546.5 247.5,547.1C247.8,547.6 247.7,548.9 247.8,549.8C247.8,550.7 247.7,551.9 247.9,552.5C248,553 248.3,553.2 248.7,553.1C249.2,553 249.9,552.2 250.5,551.7C251.2,551.3 252,550.5 252.5,550.5C253,550.4 253.3,550.7 253.4,551.2C253.6,551.8 253.3,553.1 253.2,554C253.2,555 252.9,556.2 252.9,556.8C253,557.4 253.3,557.6 253.8,557.6C254.2,557.6 255.1,556.9 255.8,556.6C256.6,556.3 257.5,555.7 258,555.7C258.5,555.8 258.8,556.1 258.9,556.8C258.9,557.4 258.5,558.6 258.3,559.5C258.1,560.4 257.6,561.6 257.6,562.3C257.6,562.9 257.9,563.2 258.4,563.3C258.9,563.3 259.9,562.9 260.6,562.7C261.4,562.5 262.5,562.1 263,562.2C263.5,562.4 263.8,562.8 263.8,563.4C263.7,564.1 263.2,565.2 262.8,566.1C262.5,567 261.9,568.1 261.8,568.8C261.7,569.4 261.9,569.8 262.4,569.9C262.9,570.1 264,569.8 264.8,569.8C265.7,569.8 266.8,569.6 267.3,569.8C267.8,570 268.1,570.5 268,571.1C267.9,571.8 267.1,572.8 266.7,573.7C266.2,574.5 265.4,575.5 265.3,576.1C265.1,576.7 265.3,577.2 265.8,577.4C266.3,577.7 267.5,577.6 268.3,577.7C269.1,577.8 270.3,577.8 270.8,578.1C271.3,578.4 271.5,579 271.3,579.6C271.1,580.2 270.3,581.2 269.7,581.9C269.2,582.7 268.3,583.5 268,584.1C267.8,584.7 267.9,585.2 268.4,585.5C268.9,585.9 270.1,586 270.9,586.2C271.8,586.5 273,586.7 273.4,587.1C273.9,587.5 274,588 273.8,588.6C273.5,589.2 272.5,590 271.9,590.6C271.3,591.3 270.3,592 270,592.6C269.7,593.1 269.8,593.6 270.2,594C270.7,594.4 272.3,594.9 272.7,595.1"/>
<path class="k" d="M231,561.6C230.8,561.2 230.2,559.8 230.2,559.3C230.1,558.9 230.3,558.6 230.7,558.7C231,558.8 231.8,559.5 232.3,559.9C232.9,560.3 233.6,561 233.9,561.1C234.3,561.2 234.4,561.1 234.4,560.6C234.4,560.2 234,559.1 233.8,558.4C233.6,557.6 233.3,556.6 233.3,556.1C233.3,555.6 233.5,555.5 233.8,555.6C234.2,555.8 234.8,556.6 235.3,557.1C235.8,557.5 236.4,558.3 236.7,558.5C237,558.7 237.2,558.6 237.2,558.2C237.2,557.7 237,556.7 236.9,555.9C236.8,555.2 236.6,554.1 236.7,553.7C236.8,553.2 237,553.1 237.3,553.3C237.6,553.6 238.1,554.4 238.6,555C239,555.6 239.5,556.5 239.7,556.7C240,557 240.2,556.9 240.3,556.5C240.3,556.1 240.2,555 240.2,554.3C240.3,553.5 240.2,552.4 240.3,552C240.5,551.6 240.7,551.6 241,551.9C241.2,552.1 241.7,553.1 242,553.7C242.3,554.4 242.7,555.4 242.9,555.7C243.2,556 243.3,555.9 243.5,555.6C243.6,555.2 243.7,554.1 243.8,553.4C243.9,552.7 244,551.7 244.2,551.3C244.3,550.9 244.6,550.9 244.8,551.2C245,551.6 245.3,552.6 245.6,553.3C245.8,554 246.1,555 246.3,555.4C246.5,555.7 246.6,555.8 246.8,555.4C247,555.1 247.2,554.1 247.4,553.4C247.6,552.7 247.9,551.7 248.1,551.4C248.3,551.1 248.5,551.1 248.7,551.5C248.9,551.9 249.1,553 249.2,553.7C249.4,554.4 249.5,555.5 249.7,555.9C249.8,556.3 250,556.4 250.2,556.1C250.5,555.8 250.8,554.8 251.1,554.2C251.4,553.6 251.8,552.7 252,552.4C252.3,552.1 252.5,552.2 252.7,552.6C252.8,553.1 252.9,554.2 252.9,554.9C253,555.7 252.9,556.8 253.1,557.3C253.2,557.7 253.3,557.8 253.6,557.5C253.9,557.3 254.4,556.4 254.7,555.9C255.1,555.3 255.6,554.4 256,554.2C256.3,554 256.5,554.2 256.6,554.6C256.7,555.1 256.6,556.2 256.5,557C256.5,557.8 256.3,558.9 256.4,559.3C256.5,559.8 256.6,559.9 256.9,559.8C257.3,559.6 257.8,558.8 258.3,558.3C258.8,557.8 259.4,557 259.8,556.9C260.1,556.7 260.3,556.9 260.4,557.4C260.4,557.9 260.2,559 260.1,559.8C259.9,560.6 259.6,561.7 259.6,562.2C259.6,562.6 259.8,562.8 260.2,562.7C260.5,562.6 261.2,561.9 261.7,561.5C262.3,561.1 263,560.4 263.4,560.3C263.8,560.2 264,560.4 264,560.9C264,561.4 263.6,562.5 263.4,563.3C263.2,564.1 262.7,565.2 262.7,565.6C262.7,566.1 262.8,566.3 263.2,566.3C263.6,566.2 264.4,565.6 265,565.3C265.6,565 266.4,564.5 266.8,564.4C267.2,564.4 267.4,564.7 267.3,565.2C267.3,565.7 266.8,566.7 266.5,567.5C266.2,568.3 265.6,569.3 265.5,569.8C265.4,570.3 265.6,570.5 266,570.5C266.4,570.5 267.3,570 267.9,569.8C268.6,569.6 269.5,569.2 269.9,569.2C270.3,569.3 270.5,569.6 270.4,570.1C270.3,570.6 269.7,571.5 269.3,572.3C268.9,573 268.2,573.9 268.1,574.4C267.9,574.9 268.1,575.1 268.5,575.2C268.9,575.3 269.8,574.9 270.5,574.8C271.2,574.7 272.2,574.4 272.6,574.5C273.1,574.6 273.2,575 273.1,575.5C272.9,576 272.2,576.8 271.7,577.5C271.3,578.2 270.5,579 270.3,579.5C270.1,580 270.2,580.3 270.6,580.4C271.1,580.5 272.1,580.3 272.8,580.3C273.5,580.3 274.6,580.1 275,580.3C275.4,580.5 275.5,580.8 275.3,581.3C275.1,581.8 274.3,582.6 273.8,583.2C273.3,583.8 272.4,584.5 272.2,585C271.9,585.4 272,585.7 272.4,585.9C272.9,586.1 273.9,586 274.7,586.1C275.4,586.2 276.5,586.2 276.9,586.4C277.3,586.7 277.4,587 277.1,587.5C276.9,587.9 276,588.6 275.4,589.1C274.8,589.7 273.9,590.3 273.6,590.7C273.4,591.1 273.4,591.4 273.8,591.7C274.3,591.9 275.3,592 276.1,592.2C276.8,592.4 277.9,592.5 278.3,592.8C278.7,593.1 278.8,593.5 278.5,593.9C278.2,594.3 277.2,594.8 276.6,595.3C276,595.8 275,596.2 274.7,596.6C274.4,597 274.4,597.3 274.8,597.6C275.2,597.9 276.3,598.1 277,598.4C277.7,598.7 278.8,599 279.2,599.3C279.6,599.6 279.6,600 279.3,600.4C279,600.8 278,601.2 277.3,601.5C276.6,601.9 275.6,602.2 275.3,602.6C275,602.9 275,603.2 275.4,603.6C275.7,603.9 276.8,604.3 277.5,604.7C278.2,605 279.2,605.4 279.6,605.8C279.9,606.2 279.9,606.6 279.6,606.9C279.3,607.2 278.2,607.5 277.5,607.7C276.8,608 275.8,608.2 275.5,608.5C275.1,608.8 275.1,609.1 275.4,609.5C275.8,609.9 276.8,610.4 277.4,610.8C278.1,611.3 279.1,611.8 279.4,612.2C279.8,612.6 279.7,613 279.4,613.3C279,613.5 278,613.7 277.3,613.8C276.6,614 275.5,614 275.2,614.3C274.8,614.5 274.8,614.8 275.1,615.2C275.4,615.6 276.3,616.2 276.9,616.8C277.5,617.3 278.5,618 278.8,618.4C279,618.9 279,619.2 278.6,619.4C278.2,619.6 277.2,619.6 276.5,619.6C275.8,619.7 274.8,619.6 274.4,619.8C274,620 274,620.2 274.2,620.7C274.5,621.1 275.4,621.8 275.9,622.4C276.5,623 277.3,623.8 277.6,624.3C277.8,624.7 277.7,625.1 277.3,625.2C276.9,625.4 275.9,625.2 275.3,625.1C274.6,625.1 273.6,624.8 273.2,624.9C272.8,625 272.8,625.3 273,625.8C273.2,626.2 274,627 274.5,627.7C275,628.4 275.7,629.2 275.9,629.7C276.1,630.2 276,630.5 275.6,630.6C275.2,630.6 274.2,630.3 273.6,630.1C272.9,630 272,629.6 271.6,629.7C271.2,629.7 271.2,629.9 271.3,630.4C271.5,630.9 272.2,631.8 272.6,632.5C273,633.2 273.6,634.1 273.8,634.6C273.9,635.1 273.7,635.3 273.4,635.4C273,635.4 272.1,634.9 271.5,634.6C270.8,634.4 270,633.9 269.6,633.8C269.3,633.8 269.2,634 269.3,634.5C269.4,634.9 269.9,635.9 270.3,636.7C270.6,637.4 271.1,638.4 271.2,638.9C271.3,639.3 271.1,639.6 270.7,639.5C270.4,639.5 269.5,638.9 269,638.5C268.4,638.2 267.6,637.5 267.3,637.4C266.9,637.3 266.8,637.5 266.9,637.9C266.9,638.4 267.4,639.4 267.6,640.2C267.8,640.9 268.2,642 268.2,642.5C268.3,642.9 268.1,643.1 267.7,643C267.4,642.9 266.7,642.1 266.1,641.7C265.6,641.2 265,640.5 264.6,640.3C264.3,640.2 264.2,640.3 264.2,640.7C264.2,641.2 264.5,642.2 264.6,643C264.8,643.8 265,644.8 265,645.3C264.9,645.7 264.7,645.9 264.4,645.7C264.1,645.5 263.5,644.6 263,644.1C262.6,643.6 262,642.7 261.7,642.5C261.4,642.3 261.3,642.4 261.2,642.8C261.2,643.2 261.3,644.3 261.4,645C261.4,645.8 261.5,646.9 261.4,647.3C261.3,647.7 261.1,647.8 260.8,647.5C260.5,647.3 260,646.4 259.7,645.8C259.3,645.2 258.9,644.2 258.6,643.9C258.3,643.7 258.2,643.7 258.1,644.1C258,644.5 258,645.6 257.9,646.3C257.9,647 257.8,648.1 257.7,648.5C257.5,648.8 257.3,648.9 257.1,648.6C256.8,648.3 256.4,647.3 256.2,646.6C255.9,645.9 255.6,644.9 255.3,644.6C255.1,644.3 254.9,644.3 254.8,644.6C254.6,645 254.5,646 254.3,646.7C254.2,647.4 254,648.4 253.8,648.8C253.6,649.1 253.4,649.1 253.2,648.7C252.9,648.4 252.7,647.3 252.5,646.6C252.3,645.9 252.2,644.8 252,644.4C251.8,644.1 251.6,644 251.4,644.3C251.2,644.6 250.9,645.6 250.7,646.3C250.4,646.9 250.1,647.9 249.9,648.2C249.6,648.5 249.4,648.4 249.2,648C249,647.6 248.9,646.5 248.8,645.7C248.7,645 248.7,643.9 248.6,643.5C248.4,643.1 248.3,643 248,643.2C247.7,643.5 247.2,644.7 247,645"/>
<path class="t" d="M200,549L207,560 M202,547L209,558 M228,527L226,545 M232,527L230,545 M222,656L224,672 M227,656L229,672 M266,658L274,668 M282,560L289,572"/>
<path class="t" d="M227.5,505L227.5,515 M241,504L244,510 M282.5,490L285,497.5 M325.75,478.75L327,485"/>
<path class="ax" d="M38.75,650L83.5,638 M150,620L190,611 M205,606L255,594 M262,592L305,582 M317,579L340,574"/>
<ellipse class="k" cx="208.8" cy="641.3" rx="5" ry="5.5"/>
<path class="m" d="M206,642L211,640 M208.8,647L208,651"/>
<path class="t" d="M196,638L201,646 M216,639L222,637"/>
<path class="k" d="M571,482.5L666,462 M583,546.5L672.3,518.6"/>
<path class="k" d="M666,462C668.1,462.5 674.9,462.8 678.6,465.2C682.3,467.6 685.9,472 688,476.2C690.1,480.4 690.9,485.8 691.2,490.3C691.5,494.8 690.9,499.1 689.6,503C688.3,506.9 686.3,511.4 683.4,514C680.5,516.6 674.1,517.8 672.3,518.6"/>
<path class="k" d="M626,477.0L651,471.6" style="stroke-width:3.4"/>
<path class="w" d="M626.5,477.0L650.5,471.6" style="stroke:#fff;stroke-width:1.2"/>
<path class="k" d="M656,470.6L671,467.3" style="stroke-width:3.4"/>
<path class="w" d="M656.5,470.6L670.5,467.3" style="stroke:#fff;stroke-width:1.2"/>
<path class="k" d="M626,484.6L651,479.2" style="stroke-width:3.4"/>
<path class="w" d="M626.5,484.6L650.5,479.2" style="stroke:#fff;stroke-width:1.2"/>
<path class="k" d="M656,478.2L671,474.9" style="stroke-width:3.4"/>
<path class="w" d="M656.5,478.2L670.5,474.9" style="stroke:#fff;stroke-width:1.2"/>
<path class="k" d="M626,492.2L651,486.8" style="stroke-width:3.4"/>
<path class="w" d="M626.5,492.2L650.5,486.8" style="stroke:#fff;stroke-width:1.2"/>
<path class="k" d="M656,485.8L671,482.5" style="stroke-width:3.4"/>
<path class="w" d="M656.5,485.8L670.5,482.5" style="stroke:#fff;stroke-width:1.2"/>
<path class="k" d="M626,499.8L651,494.4" style="stroke-width:3.4"/>
<path class="w" d="M626.5,499.8L650.5,494.4" style="stroke:#fff;stroke-width:1.2"/>
<path class="k" d="M656,493.4L671,490.1" style="stroke-width:3.4"/>
<path class="w" d="M656.5,493.4L670.5,490.1" style="stroke:#fff;stroke-width:1.2"/>
<path class="k" d="M626,507.4L651,502.0" style="stroke-width:3.4"/>
<path class="w" d="M626.5,507.4L650.5,502.0" style="stroke:#fff;stroke-width:1.2"/>
<path class="k" d="M656,501.0L671,497.7" style="stroke-width:3.4"/>
<path class="w" d="M656.5,501.0L670.5,497.7" style="stroke:#fff;stroke-width:1.2"/>
<path class="k" d="M626,515.0L651,509.6" style="stroke-width:3.4"/>
<path class="w" d="M626.5,515.0L650.5,509.6" style="stroke:#fff;stroke-width:1.2"/>
<path class="k" d="M656,508.6L671,505.3" style="stroke-width:3.4"/>
<path class="w" d="M656.5,508.6L670.5,505.3" style="stroke:#fff;stroke-width:1.2"/>
<path class="k" d="M626,522.6L651,517.2" style="stroke-width:3.4"/>
<path class="w" d="M626.5,522.6L650.5,517.2" style="stroke:#fff;stroke-width:1.2"/>
<path class="k" d="M656,516.2L671,512.9" style="stroke-width:3.4"/>
<path class="w" d="M656.5,516.2L670.5,512.9" style="stroke:#fff;stroke-width:1.2"/>
<path class="k" d="M626,530.2L651,524.8" style="stroke-width:3.4"/>
<path class="w" d="M626.5,530.2L650.5,524.8" style="stroke:#fff;stroke-width:1.2"/>
<path class="k" d="M656,523.8L671,520.5" style="stroke-width:3.4"/>
<path class="w" d="M656.5,523.8L670.5,520.5" style="stroke:#fff;stroke-width:1.2"/>
<path class="k" d="M613,475.2 L620.6,479.1 L614.2,483 L621.8,486.9 L615.4,490.8 L623,494.7 L616.6,498.6 L624.2,502.5 L617.8,506.4 L625.4,510.3 L619,514.2 L626.6,518.1 L620.2,522 L627.8,525.9 L621.4,529.8 L629,533.7"/>
<path class="t" d="M609,478L613,471"/>
<path class="w" d="M477,450 L518.7,438 L533.4,440.6 L555,460 L572.6,485 L581.7,508 L587.2,530.9 L589,555 L586,578 L578,596 L566,605 L522,605 L528,572 L527.6,544 L523,522.6 L512.9,503.3 L496.7,476.4 L478,461.7 Z"/>
<path class="K" d="M518.7,437.8C519.9,437.7 523.5,436.9 526,437.4C528.5,437.9 531.1,439.2 533.4,440.6C535.7,442 536.4,442.8 540,446C543.6,449.2 550.8,455.7 555,460C559.2,464.3 562.1,467.8 565,472C567.9,476.2 569.8,479 572.6,485C575.4,491 579.3,500.4 581.7,508C584.1,515.6 586,523.1 587.2,530.9C588.4,538.7 589,547.5 589,555C589,562.5 588.7,569.2 587,576C585.3,582.8 582.5,591.2 579,596C575.5,600.8 568.2,603.5 566,605"/>
<path class="t" d="M532,445C535,447.5 545,454.8 550,460C555,465.2 558.5,470.1 562,476C565.5,481.9 568,489.1 570.7,495.1C573.4,501.1 576.2,506 578,512C579.8,518 580.9,523.7 581.7,530.9C582.5,538.1 583,547.1 582.7,555C582.4,562.9 581.8,571.5 580,578C578.2,584.5 573.3,591.3 572,594"/>
<path class="K" d="M477.4,449.8L518.7,438.8"/>
<path class="K" d="M477.4,449.8L478,461.7"/>
<path class="K" d="M478,461.7C479.6,462.6 484.4,464.8 487.5,467.2C490.6,469.6 494.1,473.4 496.7,476.4C499.2,479.4 500.9,482.1 502.8,485C504.7,487.9 506.3,490.9 508,494C509.7,497.1 510.8,499.8 512.9,503.3C514.9,506.9 518.6,512.1 520.3,515.3C522,518.5 522.5,521.4 523,522.6"/>
<path class="K" d="M527.6,543.7C527.6,545.6 527.7,550.2 527.8,555C527.9,559.8 528.4,565.4 528,572.7C527.6,580 526.2,593.4 525.3,598.7C524.4,604 522.9,603.5 522.4,604.4"/>
<path class="t" d="M480.2,452.5C482.2,453.9 488.6,457.7 492.1,460.8C495.6,463.9 498.2,467.2 501.3,470.9C504.4,474.6 507.6,478.5 510.5,482.8C513.4,487.1 515.7,490.7 518.4,496.9C521.1,503.1 525.3,516.1 526.7,519.9"/>
<path class="K" d="M523,523.5L580.8,510.2 L587,509 M528.5,543.7L585.4,531.8 L588,531"/>
<path class="k" d="M542.8,520.8L544.6,540"/>
<ellipse class="t" cx="516" cy="528" rx="8" ry="25" transform="rotate(-8 516 528)"/>
<path class="t" d="M522,546L527,552 M525,545L529,551"/>
<path class="K" d="M427.3,473.3C427.2,472.1 425.8,468.6 426.5,466C427.2,463.4 428.5,460.3 431.6,457.5C434.7,454.7 440.3,451.5 445,449C449.7,446.5 454.2,444.3 460,442.4C465.8,440.5 473.1,439.1 480,437.5C486.9,435.9 496.1,433.7 501.3,432.8C506.5,431.9 508.5,431.5 511.4,432.3C514.3,433.1 517.5,436.9 518.7,437.8"/>
<path class="k" d="M427.3,473.3C429.2,472.8 434.7,472.8 438.8,470.4C442.9,468 448.5,461.4 452,459C455.5,456.6 455.8,457.3 460,456.2C464.2,455.1 474.5,453.1 477.4,452.5"/>
<path class="m" d="M462.3,445.2L462.3,454.4"/>
<path class="t" d="M462.8,445.2L515,435"/>
<path class="k" d="M418.6,489.2L476.3,479 M418.6,489.2L420,546.8"/>
<path class="t" d="M424,490L425.5,546"/>
<path class="t" d="M476.3,486.3C475.6,490.2 472.9,501.8 472,510C471.1,518.2 470.9,527.3 471,535.3C471.1,543.3 471.6,550.8 472.5,558C473.4,565.2 473.8,570.8 476.3,578.5C478.9,586.2 485.9,600.1 487.8,604.4"/>
<path class="k" d="M433,581.4C434,583.3 435.3,588.2 439,593C442.7,597.8 450.2,605.7 455,610C459.8,614.3 465.5,617.3 467.6,618.8"/>
<path class="k" d="M467.6,618.8L519.5,610.2 L562.7,604.4"/>
<path class="t" d="M470,612L520,603"/>
<path class="K" d="M479.2,621.7C479,622.6 477.5,625.5 478,627C478.5,628.5 478.3,630 482,630.4C485.7,630.8 492.8,630 500,629.5C507.2,629 517,630.2 525.3,627.5C533.6,624.8 542.3,617.8 550,613C557.7,608.2 567.8,601.1 571.4,598.7"/>
<path class="t" d="M490,623L560,608"/>
<path class="t" d="M545.75,433.75L543,446"/>
<path class="ax" d="M400,558L440,549 M455,546L570,521 M695,490L765,476"/>
<path class="kw" d="M433.5,524.4C435.8,523.8 442.4,522 447,521C451.6,520 458.5,518.8 460.8,518.4 M460.8,518.4C462.5,519.7 468.3,522.3 471,526C473.7,529.7 476.1,535.6 477,540.6C477.9,545.6 477.2,552 476.2,556C475.2,560 473.6,562.4 471,564.4C468.4,566.4 462.5,567.3 460.8,567.9L442,571.3" style="stroke-width:2.6"/>
<path class="t" d="M444.6,523.5C445.8,524.6 450.1,527.3 452,530C453.9,532.7 455.1,538.1 455.7,539.7"/>
<path class="t" d="M457,552C457,553.7 457.3,559.3 457,562C456.7,564.7 455.3,567 455,568"/>
<ellipse class="kw" cx="443" cy="548" rx="13" ry="23" transform="rotate(-8 443 548)" style="stroke-width:2.6"/>
<ellipse class="k" cx="444" cy="549" rx="9.5" ry="18.5" transform="rotate(-8 444 549)"/>
<path class="k" d="M438.4,534.5L449.6,532.5" style="stroke-width:2.2"/>
<path class="k" d="M437.6,539.5L450.4,537.5" style="stroke-width:2.2"/>
<path class="k" d="M436.8,544.5L451.2,542.5" style="stroke-width:2.2"/>
<path class="k" d="M436.0,549.5L452.0,547.5" style="stroke-width:2.2"/>
<path class="k" d="M436.8,554.5L451.2,552.5" style="stroke-width:2.2"/>
<path class="k" d="M437.6,559.5L450.4,557.5" style="stroke-width:2.2"/>
<path class="k" d="M438.4,564.5L449.6,562.5" style="stroke-width:2.2"/>
<path class="kw" d="M402.8,527.5C405.4,527.3 414.3,525.1 418.5,526.2C422.7,527.3 425.1,529 428,534C430.9,539 435.3,549.2 435.6,556.4C435.9,563.6 433.3,572.2 430,577C426.7,581.8 418.2,583.8 415.9,585.2"/>
<ellipse class="kw" cx="405" cy="556" rx="15.5" ry="29" transform="rotate(-8 405 556)" style="stroke-width:2.4"/>
<ellipse class="kw" cx="407" cy="558" rx="8" ry="16" transform="rotate(-8 407 558)"/>
<path d="M409.1,578.6h0.1M399.0,574.3h0.1M397.1,544.7h0.1M419.1,556.2h0.1M407.1,575.2h0.1M416.4,553.8h0.1M408.3,536.3h0.1M397.0,542.9h0.1M392.9,537.3h0.1M391.4,554.2h0.1M398.7,541.5h0.1M402.4,532.6h0.1M404.5,572.2h0.1M410.3,538.5h0.1M398.6,530.1h0.1M398.1,529.9h0.1M396.5,573.4h0.1M392.7,567.3h0.1M409.9,543.0h0.1M413.5,569.4h0.1M415.3,549.8h0.1M395.8,542.8h0.1M394.0,556.6h0.1M400.4,575.8h0.1M390.8,544.0h0.1M395.5,531.9h0.1M411.1,532.6h0.1M398.2,540.5h0.1M411.4,533.3h0.1M413.1,541.6h0.1M400.2,537.9h0.1M408.1,535.0h0.1M405.4,573.0h0.1M410.8,532.4h0.1M418.4,568.0h0.1M398.4,566.8h0.1M404.8,581.0h0.1M409.4,543.1h0.1M396.9,545.8h0.1M400.1,536.4h0.1M413.1,535.4h0.1M390.0,557.1h0.1M404.0,572.5h0.1M396.6,547.2h0.1M411.4,575.5h0.1M396.1,545.4h0.1M419.5,561.1h0.1M402.9,582.3h0.1M411.9,542.2h0.1M394.4,563.1h0.1M394.8,538.7h0.1M392.2,549.0h0.1M414.7,546.3h0.1M394.6,568.1h0.1M408.6,575.7h0.1M416.2,551.2h0.1M396.2,552.2h0.1M396.2,569.3h0.1M417.7,557.2h0.1M397.3,544.2h0.1M394.8,541.4h0.1M397.8,538.1h0.1M398.1,532.3h0.1M414.1,557.1h0.1M395.0,532.1h0.1M408.0,577.8h0.1M394.7,546.2h0.1M400.3,572.1h0.1M399.1,574.3h0.1M404.4,576.3h0.1M403.9,539.3h0.1M391.6,547.1h0.1M403.9,574.2h0.1M405.8,537.4h0.1M412.1,575.3h0.1M399.8,539.8h0.1M403.0,574.9h0.1M408.0,536.6h0.1M408.8,540.7h0.1M401.4,577.5h0.1M411.5,540.4h0.1M408.9,573.4h0.1M395.0,553.9h0.1M406.4,530.7h0.1M411.7,573.4h0.1M406.3,532.9h0.1M406.0,536.3h0.1M414.1,569.4h0.1M405.1,536.8h0.1M401.1,574.4h0.1M396.8,567.6h0.1M412.1,546.1h0.1M419.6,554.8h0.1M413.1,535.3h0.1M393.2,568.9h0.1M412.7,546.4h0.1M400.9,529.8h0.1M396.2,537.6h0.1M405.2,576.1h0.1M408.6,572.8h0.1M394.8,546.8h0.1M406.0,539.9h0.1M413.6,540.5h0.1M415.8,541.8h0.1M412.9,541.0h0.1M418.5,556.2h0.1M412.3,572.9h0.1M396.2,537.6h0.1M394.6,571.9h0.1M395.1,543.9h0.1M408.5,582.6h0.1M392.2,561.5h0.1M401.3,571.8h0.1M390.9,552.3h0.1M414.6,577.8h0.1M415.3,542.1h0.1M406.7,540.8h0.1M392.6,538.1h0.1M415.5,560.7h0.1M406.8,578.6h0.1M396.3,567.6h0.1M404.1,539.7h0.1M414.5,560.8h0.1M413.0,567.2h0.1M418.2,549.9h0.1M416.6,566.1h0.1M403.4,575.0h0.1M400.2,576.4h0.1M394.3,546.6h0.1M411.5,574.3h0.1M415.8,570.9h0.1M399.8,535.9h0.1M414.6,563.7h0.1M398.8,574.0h0.1M404.3,535.3h0.1M405.8,532.9h0.1M396.4,566.0h0.1M392.1,558.4h0.1M395.3,569.4h0.1M396.0,562.1h0.1M391.7,552.3h0.1M416.3,563.9h0.1M394.1,569.8h0.1M413.8,546.5h0.1M413.7,539.1h0.1M407.2,577.9h0.1M417.3,572.8h0.1M394.4,534.1h0.1M405.1,532.1h0.1M400.5,533.3h0.1M416.7,568.7h0.1M414.4,555.2h0.1M404.0,539.1h0.1M413.9,564.5h0.1M410.2,542.4h0.1M419.2,557.9h0.1M417.6,572.8h0.1M395.3,533.6h0.1M415.6,547.5h0.1M405.4,539.6h0.1M403.1,533.5h0.1M400.6,539.1h0.1M401.0,528.6h0.1M415.8,562.2h0.1M390.9,547.5h0.1M408.1,574.4h0.1M408.3,579.7h0.1M402.3,535.0h0.1M399.8,572.6h0.1M400.9,574.1h0.1M416.6,565.7h0.1M415.4,550.9h0.1M402.3,537.8h0.1M396.9,533.1h0.1M396.8,536.8h0.1M392.9,560.2h0.1M411.0,544.1h0.1M417.9,568.8h0.1M413.6,543.3h0.1M394.0,566.4h0.1M411.5,573.4h0.1M411.9,577.6h0.1M403.5,574.1h0.1M396.1,530.9h0.1M404.6,580.2h0.1M395.0,571.4h0.1M394.9,547.3h0.1M409.0,572.0h0.1M394.6,560.2h0.1M412.6,573.5h0.1M402.4,579.8h0.1M417.3,576.8h0.1M393.2,560.7h0.1M392.2,563.1h0.1M407.3,534.6h0.1M392.4,560.7h0.1M409.5,538.5h0.1M399.6,528.6h0.1M395.9,561.2h0.1M409.7,580.6h0.1M394.9,532.2h0.1M408.9,539.9h0.1M411.3,573.5h0.1M413.2,578.1h0.1M411.0,533.8h0.1M408.3,582.7h0.1M403.4,576.3h0.1M401.4,539.0h0.1M418.5,568.8h0.1M405.0,576.3h0.1M392.2,545.8h0.1M415.7,555.4h0.1M395.6,566.1h0.1M411.2,578.1h0.1M414.7,548.7h0.1M395.5,552.4h0.1M406.4,580.2h0.1M418.2,572.0h0.1M411.3,545.4h0.1M414.0,547.1h0.1M403.3,530.6h0.1M404.7,579.9h0.1M394.3,535.7h0.1M407.2,581.4h0.1M416.6,548.4h0.1M395.5,553.3h0.1M394.4,558.3h0.1M399.1,532.4h0.1M395.2,549.7h0.1M394.7,538.2h0.1M414.5,579.4h0.1M397.8,542.0h0.1M412.4,547.3h0.1M401.7,578.6h0.1M393.3,544.2h0.1M395.7,539.5h0.1M403.7,573.5h0.1M418.3,564.7h0.1M402.1,533.2h0.1M401.4,535.5h0.1M406.8,576.9h0.1M409.3,543.1h0.1M394.9,556.8h0.1M403.4,535.4h0.1M402.1,575.1h0.1M391.1,551.2h0.1M399.6,578.2h0.1M414.5,567.6h0.1M413.9,565.3h0.1M403.9,531.1h0.1M411.2,572.5h0.1M395.3,570.2h0.1M407.1,532.1h0.1M395.8,547.2h0.1M398.8,568.2h0.1M392.5,553.7h0.1M410.6,574.0h0.1M404.4,539.4h0.1M406.1,529.9h0.1M414.4,548.0h0.1" stroke="#000" stroke-width="1.4" stroke-linecap="round" fill="none"/>
<path d="M420.7,536.3h0.1M424.0,546.9h0.1M417.9,529.4h0.1M426.9,582.8h0.1M426.9,575.0h0.1M427.1,558.1h0.1M419.5,533.3h0.1M425.1,532.6h0.1M429.5,579.3h0.1M426.4,576.8h0.1M426.2,539.3h0.1M431.9,573.5h0.1M425.2,579.9h0.1M431.3,563.6h0.1M425.8,555.7h0.1M424.5,553.2h0.1M426.5,583.4h0.1M427.4,559.0h0.1M426.4,581.9h0.1M428.2,581.7h0.1M428.2,555.6h0.1M429.0,563.2h0.1M420.1,532.2h0.1M425.5,577.2h0.1M417.6,528.5h0.1M424.7,537.6h0.1M427.0,552.6h0.1M423.8,582.3h0.1M424.7,548.1h0.1M427.6,565.9h0.1M428.5,542.3h0.1M426.0,540.2h0.1M425.0,580.7h0.1M417.6,529.9h0.1M429.6,575.5h0.1M422.2,535.7h0.1M421.3,532.4h0.1M417.6,528.2h0.1M428.1,582.5h0.1M432.7,573.8h0.1M416.7,529.4h0.1M425.2,583.7h0.1M431.7,546.3h0.1M432.7,564.8h0.1M422.4,539.4h0.1M424.6,550.7h0.1M431.1,543.8h0.1M421.7,542.5h0.1M417.1,529.9h0.1M427.7,576.2h0.1M421.7,539.5h0.1M424.3,582.9h0.1M419.9,535.0h0.1M417.3,530.0h0.1M426.6,569.2h0.1M417.3,528.9h0.1M426.9,534.3h0.1M419.9,530.2h0.1M428.1,575.7h0.1M424.2,583.1h0.1M422.8,535.7h0.1M417.2,529.1h0.1M426.2,534.6h0.1M427.8,578.8h0.1M416.9,529.5h0.1M421.5,536.3h0.1M425.4,533.7h0.1M418.6,532.4h0.1M425.9,582.4h0.1M424.0,582.9h0.1M426.9,581.9h0.1M430.0,577.2h0.1M424.8,554.8h0.1M424.6,532.6h0.1M427.9,582.5h0.1M427.2,541.1h0.1M429.2,577.5h0.1M428.3,578.1h0.1M431.3,567.6h0.1M427.1,535.7h0.1M424.3,581.6h0.1M425.2,584.3h0.1M425.6,568.5h0.1M425.1,580.6h0.1M424.9,583.4h0.1M417.4,530.1h0.1M430.3,566.1h0.1M432.2,574.6h0.1M419.7,535.7h0.1M424.5,580.9h0.1M425.3,579.9h0.1M429.9,578.3h0.1M427.1,580.9h0.1M425.7,580.1h0.1M428.1,568.8h0.1M427.6,581.9h0.1M428.8,552.3h0.1M416.7,530.2h0.1M429.5,562.8h0.1M427.6,580.5h0.1M419.8,531.2h0.1M429.0,575.5h0.1M416.4,527.7h0.1M425.6,577.9h0.1M428.2,558.6h0.1M427.3,576.3h0.1M423.0,535.0h0.1M424.2,581.8h0.1M419.9,529.7h0.1M426.8,581.1h0.1M431.4,548.5h0.1M425.8,575.4h0.1M425.6,580.2h0.1M427.6,538.2h0.1M430.6,547.6h0.1M422.9,530.6h0.1M419.7,533.3h0.1M427.2,554.5h0.1M433.3,557.9h0.1M425.4,571.4h0.1M425.6,539.7h0.1M430.9,553.3h0.1M424.5,554.1h0.1M425.8,534.5h0.1M428.7,542.4h0.1M424.3,583.5h0.1M430.5,569.3h0.1M428.6,538.7h0.1M432.5,551.2h0.1M428.0,538.3h0.1M429.3,576.7h0.1M424.6,550.5h0.1M427.8,575.5h0.1M426.4,568.1h0.1M417.8,530.5h0.1M426.3,577.2h0.1M425.9,581.3h0.1M428.1,561.3h0.1M425.9,565.0h0.1M431.4,545.6h0.1M422.3,531.8h0.1M424.0,541.4h0.1M416.7,530.2h0.1M425.8,583.6h0.1M430.2,577.8h0.1M424.5,581.8h0.1M429.6,561.9h0.1M433.8,560.7h0.1M432.2,575.6h0.1M420.1,529.6h0.1" stroke="#000" stroke-width="1.4" stroke-linecap="round" fill="none"/>
<path class="t" d="M391,563L417,556.4"/>
<path class="kw" d="M383.7,556.4L391,558 L392,576 L386,578" style="stroke-width:2"/>
<path class="k" d="M655.9,459C656,456.9 656,450.6 656.3,446.6C656.6,442.6 657.1,438.6 657.8,434.8C658.5,431 659.3,427.3 660.4,423.8C661.4,420.3 662.6,416.9 664,413.8C665.3,410.7 666.9,407.7 668.6,405C670.3,402.3 672.1,399.8 674.1,397.6C676,395.4 678.1,393.4 680.3,391.8C682.5,390.1 684.8,388.7 687.2,387.5C689.6,386.4 692.1,385.6 694.7,385C697.2,384.5 699.8,384.2 702.5,384.3C705.1,384.3 707.8,384.7 710.5,385.3C713.2,386 715.9,386.9 718.6,388.2C721.3,389.4 724,390.9 726.6,392.7C729.3,394.5 731.9,396.5 734.4,398.8C736.9,401.1 739.4,403.7 741.8,406.5C744.1,409.3 746.4,412.3 748.6,415.5C750.8,418.7 752.8,422.1 754.8,425.7C756.7,429.2 758.5,433 760.1,436.8C761.8,440.7 763.3,444.7 764.6,448.7C765.9,452.8 767.1,457 768.1,461.2C769.1,465.4 769.9,469.7 770.5,473.9C771.1,478.2 771.6,482.5 771.8,486.7C772.1,490.9 772.2,495.2 772,499.3C771.9,503.4 771.6,507.5 771.1,511.4C770.6,515.3 769.9,519.2 769.1,522.8C768.2,526.5 767.2,530 766,533.3C764.8,536.7 763.4,539.8 761.8,542.8C760.3,545.7 758.6,548.4 756.8,550.9C755,553.3 753,555.5 750.9,557.5C748.8,559.5 746.6,561.2 744.3,562.6C742,564 739.6,565.1 737.1,565.9C734.6,566.8 732.1,567.3 729.5,567.6C726.9,567.8 722.8,567.4 721.5,567.4" style="stroke-width:2.5"/>
<path class="m" d="M659.4,459.3C659.5,457.3 659.4,451.3 659.7,447.4C660,443.6 660.4,439.7 661,436.1C661.6,432.4 662.4,428.9 663.4,425.5C664.3,422.2 665.5,419 666.7,416C668,413 669.4,410.1 671,407.5C672.6,405 674.3,402.6 676.1,400.5C677.9,398.3 679.9,396.5 682,394.9C684,393.2 686.2,391.9 688.4,390.8C690.7,389.8 693,389 695.4,388.5C697.8,387.9 700.2,387.7 702.7,387.8C705.2,387.9 707.7,388.2 710.3,388.8C712.8,389.5 715.4,390.4 717.9,391.6C720.4,392.8 723,394.3 725.4,396C727.9,397.7 730.4,399.7 732.8,401.9C735.1,404.1 737.5,406.6 739.7,409.3C741.9,412 744.1,414.9 746.2,418C748.2,421.1 750.2,424.4 752,427.8C753.8,431.2 755.5,434.9 757.1,438.6C758.6,442.3 760.1,446.1 761.3,450C762.6,454 763.7,458 764.7,462C765.6,466.1 766.4,470.2 767,474.3C767.6,478.4 768.1,482.5 768.3,486.6C768.6,490.7 768.7,494.7 768.6,498.7C768.5,502.6 768.2,506.5 767.8,510.3C767.3,514.1 766.7,517.8 765.9,521.3C765.1,524.8 764.2,528.2 763.1,531.4C761.9,534.6 760.7,537.6 759.2,540.4C757.8,543.2 756.2,545.8 754.5,548.2C752.8,550.5 751,552.7 749,554.5C747.1,556.4 745,558 742.9,559.4C740.7,560.7 738.5,561.8 736.1,562.6C733.8,563.4 731.4,563.9 729,564.1C726.5,564.3 722.8,563.9 721.5,563.9"/>
<path class="k" d="M657.7,456.1C657.8,454 657.9,447.8 658.3,443.9C658.7,439.9 659.3,436 660,432.3C660.8,428.6 661.7,425 662.8,421.7C664,418.3 665.2,415.1 666.7,412.1C668.1,409.1 669.7,406.3 671.5,403.8C673.2,401.3 675.1,399 677.1,396.9C679.1,394.9 681.3,393.2 683.5,391.7C685.7,390.2 688.1,389 690.5,388.1C692.9,387.2 695.4,386.6 698,386.3C700.5,386 703.1,386 705.7,386.3C708.4,386.6 711,387.2 713.7,388.1C716.4,389 719,390.2 721.7,391.7C724.3,393.1 726.9,394.9 729.5,396.9C732,398.9 734.5,401.2 737,403.8C739.4,406.3 741.8,409.1 744,412.1C746.2,415 748.4,418.3 750.4,421.6C752.5,425 754.4,428.6 756.1,432.3C757.9,436 759.5,439.9 761,443.9C762.5,447.8 763.8,451.9 764.9,456C766,460.2 767,464.4 767.8,468.6C768.6,472.9 769.2,477.1 769.6,481.4C770,485.6 770.3,489.9 770.3,494C770.3,498.2 770.2,502.3 769.9,506.3C769.5,510.3 769,514.2 768.3,517.9C767.6,521.7 766.7,525.3 765.7,528.8C764.6,532.2 763.4,535.5 762,538.5C760.6,541.6 759,544.4 757.3,547C755.6,549.6 753.8,552 751.8,554.1C749.8,556.2 747.7,558.1 745.5,559.6C743.3,561.2 741,562.5 738.6,563.5C736.2,564.4 733.7,565.1 731.2,565.5C728.7,565.9 724.8,565.8 723.5,565.8" style="stroke-dasharray:1.5 2;stroke-width:1.8"/>
<path class="t" d="M688,383L690,390"/>
<path class="kw" d="M788,385.7C790.8,385.6 799.5,385 805,385C810.5,385 814.5,383.9 821,385.7C827.5,387.4 838.5,390.6 844,395.5C849.5,400.4 852.2,408.1 853.8,415.2C855.4,422.3 854.9,431.4 853.8,438C852.7,444.6 848.3,451.8 847.2,454.5"/>
<path class="k" d="M847.2,454.5L853.8,461 L873.4,464.3 L868.5,484 L850,488"/>
<path class="k" d="M840.7,474.1L847.2,454.5 M850,488L830.8,497 L866.9,493.8 L868.5,513.4 L845,520"/>
<path class="k" d="M830.8,523.3L853.8,526.5 L850.5,533 L815,545"/>
<path class="m" d="M840,404L836,440 M830,440L840.7,474.1"/>
<path class="t" d="M833,500L860,496 M836,511L862,506"/>
<ellipse class="kw" cx="821" cy="418.4" rx="8" ry="13" transform="rotate(-10 821 418.4)"/>
<path class="kw" d="M765.3,346.4 L775.2,343.1 L791.5,349.7 L801.4,343.1 L814.5,349.7 L817.7,372.6 L788.3,375.9 L768.6,369.3Z"/>
<circle class="f" cx="773.5" cy="353" r="2.6"/><circle class="f" cx="799.7" cy="351.3" r="2.6"/>
<path class="t" d="M791.5,349.7L795,363 L812,360 M812,360L814.5,349.7"/>
<path class="K" d="M739.2,378.2C740.3,377.5 743.5,375.1 745.7,374.1C748,373 750.4,372.3 752.9,371.9C755.3,371.5 757.8,371.4 760.4,371.7C762.9,371.9 765.6,372.5 768.1,373.4C770.7,374.3 773.4,375.6 776,377.1C778.6,378.6 781.2,380.5 783.7,382.6C786.3,384.8 788.8,387.2 791.3,389.9C793.7,392.6 796.1,395.6 798.4,398.8C800.7,402 802.9,405.5 805,409.1C807,412.7 809,416.6 810.9,420.6C812.7,424.6 814.4,428.8 816,433.1C817.5,437.3 818.9,441.8 820.2,446.2C821.4,450.7 822.5,455.3 823.4,459.9C824.3,464.4 825,469.1 825.6,473.7C826.1,478.2 826.5,482.8 826.7,487.3C826.8,491.8 826.8,496.3 826.6,500.6C826.4,504.9 826,509.2 825.5,513.2C824.9,517.3 824.2,521.2 823.2,524.9C822.3,528.6 821.2,532.2 819.9,535.5C818.7,538.7 817.2,541.8 815.7,544.6C814.1,547.4 812.3,549.9 810.5,552.2C808.6,554.4 806.6,556.4 804.5,558C802.4,559.7 800.2,561 797.9,562.1C795.6,563.1 793.2,563.8 790.8,564.2C788.3,564.5 784.5,564.3 783.2,564.3"/>
<path class="k" d="M731.9,379.2C733,378.5 736.2,376.1 738.5,375.1C740.7,374 743.1,373.3 745.6,372.9C748,372.5 750.6,372.4 753.1,372.6C755.6,372.9 758.3,373.5 760.8,374.4C763.4,375.2 766.1,376.5 768.7,378C771.3,379.5 773.9,381.3 776.4,383.4C778.9,385.6 781.5,388 783.9,390.6C786.3,393.3 788.7,396.3 791,399.4C793.3,402.6 795.5,406 797.6,409.6C799.6,413.2 801.6,417 803.4,421C805.3,424.9 807,429.1 808.5,433.3C810.1,437.5 811.5,441.9 812.7,446.4C813.9,450.8 815,455.3 815.9,459.8C816.8,464.4 817.5,469 818.1,473.5C818.6,478 818.9,482.6 819.1,487C819.3,491.5 819.2,495.9 819,500.2C818.8,504.5 818.4,508.7 817.9,512.7C817.3,516.7 816.5,520.6 815.6,524.3C814.7,527.9 813.5,531.4 812.3,534.7C811,537.9 809.6,541 808,543.8C806.4,546.5 804.7,549.1 802.8,551.3C800.9,553.5 798.9,555.5 796.8,557.1C794.7,558.7 792.5,560.1 790.2,561.1C787.9,562.1 785.5,562.8 783.1,563.2C780.6,563.5 776.8,563.3 775.5,563.3"/>
<path class="t" d="M732.2,377.4C733.3,376.9 736.7,375.2 739,374.5C741.3,373.9 743.7,373.5 746.2,373.5C748.6,373.4 751.1,373.7 753.6,374.3C756.2,374.8 758.7,375.7 761.2,376.9C763.8,378.1 766.3,379.5 768.8,381.3C771.4,383 773.9,385.1 776.3,387.3C778.7,389.6 781.1,392.2 783.4,395C785.7,397.8 788,400.8 790.1,404.1C792.3,407.3 794.3,410.8 796.2,414.4C798.2,418 800,421.8 801.7,425.7C803.3,429.6 804.9,433.7 806.3,437.9C807.7,442.1 809,446.4 810,450.7C811.1,455 812.1,459.4 812.8,463.8C813.6,468.1 814.2,472.6 814.6,476.9C815,481.3 815.3,485.7 815.3,490C815.4,494.2 815.3,498.5 815,502.5C814.7,506.6 814.2,510.6 813.6,514.4C812.9,518.3 812.1,522 811.2,525.5C810.2,528.9 809,532.3 807.7,535.3C806.5,538.4 805,541.3 803.4,543.9C801.8,546.5 800.1,548.9 798.3,551C796.4,553.1 794.4,555 792.4,556.5C790.3,558 788.1,559.3 785.9,560.3C783.6,561.2 781.3,561.9 778.9,562.2C776.5,562.6 772.7,562.3 771.5,562.4"/>
<path class="k" d="M731,376.4C732.1,376.1 735.6,374.9 738,374.6C740.4,374.4 742.9,374.4 745.4,374.8C747.8,375.2 750.4,375.8 752.9,376.8C755.4,377.8 758,379.1 760.5,380.7C763,382.3 765.5,384.1 768,386.3C770.5,388.4 772.9,390.9 775.2,393.5C777.6,396.2 779.9,399.2 782,402.3C784.2,405.4 786.3,408.8 788.3,412.4C790.3,415.9 792.2,419.7 793.9,423.5C795.7,427.4 797.3,431.5 798.8,435.6C800.2,439.7 801.6,444 802.7,448.3C803.9,452.6 804.9,457.1 805.7,461.5C806.5,465.9 807.2,470.3 807.7,474.7C808.2,479.1 808.5,483.5 808.6,487.8C808.7,492.1 808.7,496.4 808.4,500.5C808.2,504.7 807.8,508.7 807.2,512.6C806.6,516.5 805.8,520.2 804.9,523.8C804,527.3 802.9,530.7 801.6,533.8C800.4,537 799,539.9 797.4,542.6C795.9,545.2 794.2,547.7 792.3,549.8C790.5,551.9 788.6,553.8 786.5,555.4C784.5,557 782.3,558.2 780.1,559.2C777.8,560.2 775.5,560.9 773.1,561.2C770.7,561.6 767,561.3 765.8,561.4"/>
<path class="k" d="M767.8,560.9C766.6,561 763.3,561.6 761,561.4C758.7,561.3 756.3,560.8 754,560.1C751.6,559.3 749.2,558.2 746.8,556.9C744.5,555.5 742.1,553.9 739.7,552C737.4,550.1 735,547.8 732.8,545.4C730.5,543 728.3,540.2 726.1,537.3C724,534.4 721.9,531.2 719.9,527.9C717.9,524.5 716,520.9 714.2,517.2C712.4,513.5 710.8,509.6 709.2,505.6C707.7,501.6 706.3,497.5 705,493.3C703.7,489.1 702.6,484.8 701.6,480.4C700.6,476.1 699.8,471.7 699.1,467.4C698.4,463 697.9,458.6 697.6,454.3C697.2,450 697.1,445.7 697.1,441.5C697.1,437.3 697.2,433.2 697.5,429.2C697.9,425.2 698.4,421.4 699,417.7C699.7,414 700.5,410.5 701.4,407.2C702.4,403.9 703.5,400.7 704.8,397.8C706,395 707.5,392.3 709,389.9C710.5,387.5 712.2,385.3 714,383.5C715.7,381.6 717.6,380 719.6,378.7C721.6,377.4 723.6,376.4 725.8,375.7C727.9,375 731.3,374.8 732.4,374.6"/>
<path class="t" d="M764.9,556.5C763.8,556.4 760.5,556.3 758.3,555.8C756.1,555.2 753.8,554.4 751.5,553.2C749.2,552 746.9,550.6 744.7,548.8C742.4,547.1 740.2,545 738,542.7C735.8,540.4 733.6,537.9 731.5,535.1C729.5,532.3 727.4,529.2 725.5,526C723.5,522.8 721.7,519.3 719.9,515.7C718.2,512.1 716.5,508.3 715,504.4C713.5,500.5 712.1,496.4 710.9,492.3C709.6,488.2 708.5,483.9 707.5,479.7C706.6,475.5 705.7,471.1 705.1,466.9C704.4,462.6 703.9,458.3 703.6,454.1C703.2,449.8 703.1,445.6 703.1,441.5C703.1,437.5 703.2,433.4 703.5,429.6C703.9,425.7 704.4,422 705,418.4C705.6,414.9 706.5,411.5 707.4,408.3C708.4,405.2 709.5,402.2 710.7,399.5C712,396.8 713.3,394.3 714.9,392.1C716.4,389.9 718,387.9 719.7,386.3C721.5,384.6 723.3,383.3 725.2,382.2C727.2,381.2 730.3,380.3 731.3,380"/>
<ellipse class="m" cx="752" cy="470" rx="38" ry="78" transform="rotate(-12 752 470)"/>
<path class="t" d="M758.5,533C757.7,532.5 755.4,531.3 753.8,530.1C752.3,529 750.8,527.6 749.3,526C747.8,524.5 746.3,522.8 744.8,520.9C743.4,519 742,516.9 740.6,514.7C739.3,512.5 737.9,510.1 736.7,507.6C735.5,505.2 734.3,502.5 733.2,499.9C732.1,497.2 731.1,494.3 730.2,491.5C729.3,488.6 728.4,485.7 727.7,482.7C727,479.8 726.3,476.7 725.8,473.7C725.2,470.7 724.8,467.7 724.5,464.7C724.2,461.7 724,458.7 723.9,455.8C723.7,452.9 723.8,450 723.9,447.3C724,444.5 724.2,441.8 724.6,439.3C724.9,436.7 725.4,434.2 725.9,431.9C726.4,429.6 727.1,427.4 727.9,425.4C728.6,423.3 729.5,421.5 730.4,419.8C731.3,418.1 732.9,416.1 733.5,415.3"/>
<path class="t" d="M767.5,528.8C766.8,528.6 764.9,528.2 763.6,527.6C762.3,527.1 761,526.3 759.7,525.4C758.4,524.4 757.1,523.3 755.8,522.1C754.5,520.8 753.2,519.4 751.9,517.8C750.7,516.2 749.5,514.5 748.3,512.6C747.1,510.8 745.9,508.7 744.8,506.6C743.7,504.5 742.7,502.3 741.7,500C740.7,497.7 739.7,495.3 738.9,492.8C738,490.4 737.2,487.8 736.5,485.2C735.8,482.7 735.1,480 734.6,477.4C734,474.8 733.5,472.1 733.1,469.5C732.7,466.8 732.4,464.2 732.2,461.6C732,459 731.9,456.4 731.9,453.9C731.8,451.4 731.9,448.9 732,446.5C732.2,444.2 732.4,441.9 732.8,439.7C733.1,437.5 733.5,435.4 734,433.5C734.5,431.5 735.1,429.7 735.8,428C736.4,426.3 737.2,424.8 738,423.4C738.8,422 739.7,420.8 740.7,419.7C741.6,418.7 743.2,417.5 743.7,417.1"/>
<path class="m" d="M756,409.3C756.7,409.5 758.9,409.9 760.4,410.5C761.9,411.2 763.4,412 764.9,413C766.4,414 767.9,415.2 769.4,416.6C770.9,418 772.3,419.6 773.7,421.3C775.2,423 776.6,424.9 777.9,427C779.3,429 780.6,431.2 781.8,433.5C783.1,435.8 784.3,438.3 785.4,440.8C786.5,443.4 787.6,446 788.5,448.7C789.5,451.5 790.4,454.3 791.2,457.1C792,459.9 792.7,462.9 793.3,465.8C794,468.7 794.5,471.6 794.9,474.5C795.3,477.5 795.7,480.4 795.9,483.3C796.1,486.1 796.2,489 796.2,491.8C796.2,494.5 796.1,497.3 795.9,499.9C795.7,502.5 795.4,505.1 795,507.5C794.6,509.9 794.1,512.2 793.5,514.3C792.9,516.5 792.2,518.5 791.4,520.4C790.7,522.3 789.8,524 788.8,525.5C787.9,527.1 786.8,528.4 785.7,529.6C784.6,530.8 782.8,532.1 782.2,532.6"/>
<path class="t" d="M755.6,424.5C756.2,424.9 757.9,425.8 759,426.7C760.2,427.7 761.3,428.7 762.4,430C763.6,431.2 764.7,432.5 765.7,434C766.8,435.5 767.9,437.1 768.9,438.9C769.9,440.6 770.9,442.5 771.8,444.4C772.8,446.4 773.7,448.4 774.5,450.5C775.3,452.6 776.1,454.8 776.8,457.1C777.5,459.3 778.1,461.6 778.7,463.9C779.3,466.2 779.8,468.6 780.2,470.9C780.6,473.3 781,475.7 781.2,478C781.5,480.3 781.7,482.7 781.8,484.9C781.9,487.2 781.9,489.4 781.9,491.6C781.8,493.7 781.7,495.8 781.4,497.8C781.2,499.8 780.9,501.7 780.5,503.5C780.1,505.3 779.7,507 779.2,508.6C778.6,510.2 778,511.6 777.3,512.9C776.7,514.2 775.5,515.8 775.1,516.4"/>
<ellipse class="m" cx="795.3" cy="483.1" rx="2.6" ry="3.4"/>
<ellipse class="m" cx="792.4" cy="523.2" rx="2.6" ry="3.4"/>
<ellipse class="m" cx="778.2" cy="548.9" rx="2.6" ry="3.4"/>
<ellipse class="m" cx="756.4" cy="553.6" rx="2.6" ry="3.4"/>
<ellipse class="m" cx="732.9" cy="535.8" rx="2.6" ry="3.4"/>
<ellipse class="m" cx="714" cy="500.4" rx="2.6" ry="3.4"/>
<ellipse class="m" cx="704.7" cy="456.9" rx="2.6" ry="3.4"/>
<ellipse class="m" cx="707.6" cy="416.8" rx="2.6" ry="3.4"/>
<ellipse class="m" cx="721.8" cy="391.1" rx="2.6" ry="3.4"/>
<ellipse class="m" cx="743.6" cy="386.4" rx="2.6" ry="3.4"/>
<ellipse class="m" cx="767.1" cy="404.2" rx="2.6" ry="3.4"/>
<ellipse class="m" cx="786" cy="439.6" rx="2.6" ry="3.4"/>
<path class="t" d="M735,375L738,365"/>
<path class="k" d="M661.6,551.6L711,542 M662.3,560.8L711,550"/>
<path class="t" d="M690.0,545.0l-1,5"/>
<path class="t" d="M693.2,544.4l-1,5"/>
<path class="t" d="M696.4,543.8l-1,5"/>
<path class="t" d="M699.6,543.2l-1,5"/>
<path class="t" d="M702.8,542.6l-1,5"/>
<path class="t" d="M706.0,542.0l-1,5"/>
<ellipse class="kw" cx="653.7" cy="559.2" rx="7.9" ry="9" transform="rotate(-10 653.7 559.2)"/>
<path class="t" d="M651,556L655,555 M653,556L653,563 M656,557L657,563"/>
<path class="t" d="M640,562L646,558"/>
<ellipse class="kw" cx="720.8" cy="543" rx="6.5" ry="9" transform="rotate(-12 720.8 543)" style="stroke-width:2.4"/>
<ellipse class="m" cx="721.5" cy="543" rx="3" ry="4.5" transform="rotate(-12 721.5 543)"/>
<path class="mw" d="M678,527 L682,526 L688,538 L684,540Z"/>
<path class="t" d="M711,530L716,537"/>
<path class="kw" d="M889.3,474.5C893,473 906.2,470.8 910,471C913.8,471.2 911.7,473.9 912,475.5C912.3,477.1 915.2,479 911.7,480.4C908.2,481.8 895,484.1 891,484C887,483.9 888.3,481.6 888,480C887.7,478.4 885.6,476 889.3,474.5Z"/>
<path class="t" d="M900.3,484.4L900.3,489.5 M887,478L874,481"/>
<path class="k" d="M905.5,383.8C906.2,383.6 908.5,382.9 910.1,382.7C911.7,382.5 913.3,382.5 914.9,382.6C916.5,382.7 918.1,383 919.7,383.4C921.3,383.9 923,384.5 924.6,385.2C926.1,385.9 927.7,386.9 929.2,387.9C930.8,388.9 932.3,390.1 933.7,391.4C935.1,392.7 936.5,394.2 937.8,395.8C939.1,397.3 940.4,399 941.5,400.8C942.7,402.5 943.8,404.4 944.8,406.4C945.7,408.3 946.6,410.4 947.4,412.4C948.2,414.5 948.9,416.7 949.5,418.8C950.1,421 950.5,423.2 950.9,425.5C951.3,427.7 951.5,429.9 951.6,432.2C951.7,434.4 951.8,436.6 951.7,438.8C951.5,441 951.3,443.1 951,445.2C950.6,447.3 950.2,449.4 949.6,451.3C949.1,453.3 948.4,455.2 947.6,456.9C946.8,458.7 946,460.4 945,462C944,463.6 942.9,465 941.8,466.3C940.7,467.7 939.4,468.9 938.1,469.9C936.8,471 935.4,471.9 934,472.7C932.6,473.4 931.1,474.1 929.6,474.5C928.1,475 925.7,475.2 924.9,475.4"/>
<ellipse class="kw" cx="912" cy="431" rx="33" ry="47" transform="rotate(-12 912 431)" style="stroke-width:2.5"/>
<ellipse class="kw" cx="911" cy="433" rx="18" ry="37" transform="rotate(-12 911 433)"/>
<path d="M910.1,467.2h0.1M894.1,402.8h0.1M887.5,426.9h0.1M938.5,440.7h0.1M937.4,435.5h0.1M933.3,443.3h0.1M890.3,456.4h0.1M933.1,455.1h0.1M883.9,403.5h0.1M887.1,416.7h0.1M929.8,421.4h0.1M919.5,397.4h0.1M930.8,458.4h0.1M910.2,473.9h0.1M931.0,466.5h0.1M890.5,403.5h0.1M891.1,423.8h0.1M934.7,441.0h0.1M894.0,396.5h0.1M910.0,471.6h0.1M893.0,447.0h0.1M910.8,388.4h0.1M921.8,472.4h0.1M881.2,430.3h0.1M900.8,392.5h0.1M930.9,422.0h0.1M891.9,457.4h0.1M933.4,461.4h0.1M940.5,435.8h0.1M905.5,389.0h0.1M922.1,399.7h0.1M894.8,393.5h0.1M886.5,415.9h0.1M920.4,389.9h0.1M886.8,443.5h0.1M940.9,441.4h0.1M885.6,399.1h0.1M914.2,393.5h0.1M897.5,463.2h0.1M937.4,431.6h0.1M928.9,462.0h0.1M941.8,441.0h0.1M933.0,456.2h0.1M894.9,463.7h0.1M937.4,446.2h0.1M880.7,423.6h0.1M916.0,388.5h0.1M916.2,471.7h0.1M900.4,469.2h0.1M929.6,416.7h0.1M929.0,463.8h0.1M923.2,471.2h0.1M889.0,414.1h0.1M936.1,427.0h0.1M900.9,465.2h0.1M935.6,413.1h0.1M884.8,432.5h0.1M896.2,399.2h0.1M929.6,400.6h0.1M925.7,395.9h0.1M898.9,460.1h0.1M938.6,452.0h0.1M933.0,441.6h0.1M925.2,467.0h0.1M908.4,464.9h0.1M932.5,426.7h0.1M935.7,450.9h0.1M942.8,431.8h0.1M891.2,409.1h0.1M920.2,471.0h0.1M904.9,462.5h0.1M922.4,390.6h0.1M889.7,444.8h0.1M933.2,446.9h0.1M906.9,466.3h0.1M914.6,395.1h0.1M943.7,431.0h0.1M890.4,428.5h0.1M891.6,424.9h0.1M879.8,429.6h0.1M923.1,394.9h0.1M918.9,471.3h0.1M934.1,465.5h0.1M882.2,428.1h0.1M909.0,467.3h0.1M914.9,386.9h0.1M921.9,392.6h0.1M915.4,389.5h0.1M924.3,471.0h0.1M906.6,462.9h0.1M935.3,433.2h0.1M919.5,473.9h0.1M933.0,415.1h0.1M937.1,407.6h0.1M931.9,415.1h0.1M924.1,468.4h0.1M926.7,466.1h0.1M884.0,404.5h0.1M918.0,393.7h0.1M888.0,398.9h0.1M939.8,447.6h0.1M931.1,402.6h0.1M903.3,390.1h0.1M932.7,467.4h0.1M905.8,471.8h0.1M933.7,418.9h0.1M892.6,462.2h0.1M900.6,393.7h0.1M932.2,455.4h0.1M930.6,401.5h0.1M937.0,461.9h0.1M937.6,420.1h0.1M904.0,467.7h0.1M930.6,455.6h0.1M936.8,417.7h0.1M880.4,430.0h0.1M888.6,454.5h0.1M914.5,394.5h0.1M920.1,470.5h0.1M922.4,472.4h0.1M919.2,471.7h0.1M939.4,459.1h0.1M904.1,466.5h0.1M881.2,414.4h0.1M889.9,457.9h0.1M886.6,436.0h0.1M892.2,429.5h0.1M895.6,449.3h0.1M941.0,426.0h0.1M931.2,464.7h0.1M899.3,390.8h0.1M908.2,470.1h0.1M882.0,421.9h0.1M937.7,452.4h0.1M920.6,470.3h0.1M906.8,389.5h0.1M882.4,420.3h0.1M928.1,405.4h0.1M887.3,408.3h0.1M884.0,433.6h0.1M890.4,448.3h0.1M883.0,443.6h0.1M893.8,391.2h0.1M929.5,412.7h0.1M880.1,420.8h0.1M916.0,396.4h0.1M935.5,455.4h0.1M935.1,444.1h0.1M940.3,444.6h0.1M909.2,386.5h0.1M935.1,463.0h0.1M894.2,401.0h0.1M928.5,396.1h0.1M927.1,473.6h0.1M897.3,459.7h0.1M940.5,422.0h0.1M932.0,462.7h0.1M888.4,431.9h0.1M927.5,466.8h0.1M900.9,394.9h0.1M886.3,422.3h0.1M935.6,430.7h0.1M888.0,405.9h0.1M944.4,442.6h0.1M910.1,386.0h0.1M934.5,451.3h0.1M941.9,435.8h0.1M917.5,469.4h0.1M889.8,457.5h0.1M913.6,393.5h0.1M937.5,463.0h0.1M883.3,418.0h0.1M932.6,447.6h0.1M894.9,395.4h0.1M943.6,444.7h0.1M886.0,402.6h0.1M942.2,447.6h0.1M942.8,443.1h0.1M892.5,447.1h0.1M880.2,422.6h0.1M917.8,469.4h0.1M889.3,429.0h0.1M933.1,452.0h0.1M934.7,438.8h0.1M911.2,469.4h0.1M905.0,391.3h0.1M891.1,435.4h0.1M907.7,463.9h0.1M919.9,468.3h0.1M900.5,390.3h0.1M929.2,467.0h0.1M927.1,411.9h0.1M914.3,392.0h0.1M883.1,438.6h0.1M897.9,460.8h0.1M891.3,392.0h0.1M903.7,470.9h0.1M896.2,391.9h0.1M897.8,457.5h0.1M933.8,439.7h0.1M941.2,444.1h0.1M919.4,469.6h0.1M942.0,447.8h0.1M924.1,396.2h0.1M915.8,470.2h0.1M913.8,471.7h0.1M932.5,462.2h0.1M918.9,476.1h0.1M935.7,418.6h0.1M922.6,475.5h0.1M911.5,470.0h0.1M935.5,426.3h0.1M888.7,442.8h0.1M927.9,468.6h0.1M934.2,427.6h0.1M936.6,448.3h0.1M932.3,436.8h0.1M912.6,469.3h0.1M885.8,414.5h0.1M903.1,388.7h0.1M896.5,389.3h0.1M899.9,460.1h0.1M931.6,423.0h0.1M898.8,390.3h0.1M942.6,436.9h0.1M927.1,400.2h0.1M899.9,388.3h0.1M934.9,459.2h0.1M882.6,436.0h0.1M913.1,387.8h0.1M881.4,414.2h0.1M892.5,394.5h0.1M922.3,467.6h0.1M933.8,457.4h0.1M940.8,452.9h0.1M884.0,421.1h0.1M886.5,404.8h0.1M893.9,437.5h0.1M911.6,388.1h0.1M886.4,435.6h0.1M894.8,401.5h0.1M901.9,392.4h0.1M935.4,444.5h0.1M901.1,393.1h0.1M900.5,386.7h0.1M888.9,437.5h0.1M886.1,442.3h0.1M905.9,388.6h0.1M893.5,404.1h0.1M931.8,459.5h0.1M902.6,391.7h0.1M891.7,419.2h0.1M935.5,441.3h0.1M891.1,396.2h0.1M894.5,397.9h0.1M886.7,431.9h0.1M894.1,443.2h0.1M923.5,403.5h0.1M940.9,418.5h0.1M937.2,430.3h0.1M916.5,387.7h0.1M893.7,447.7h0.1M928.8,472.5h0.1M926.9,470.1h0.1M934.7,459.7h0.1M929.0,415.7h0.1M914.8,391.5h0.1M926.9,398.7h0.1M924.8,474.1h0.1M893.9,438.3h0.1M937.0,426.6h0.1M893.2,447.6h0.1M933.1,458.7h0.1M908.7,473.5h0.1M940.2,425.5h0.1M915.8,396.4h0.1M932.7,406.7h0.1M925.3,404.3h0.1M901.8,463.4h0.1M938.0,425.1h0.1M903.2,465.4h0.1M916.9,468.7h0.1M941.0,452.1h0.1M914.5,475.8h0.1M920.4,470.2h0.1M890.5,432.8h0.1M897.3,467.5h0.1M927.4,397.5h0.1M884.5,402.9h0.1M932.6,410.8h0.1M900.5,394.9h0.1M900.7,391.1h0.1M903.5,388.7h0.1M915.4,468.5h0.1M926.5,410.2h0.1M890.9,442.7h0.1M912.4,473.8h0.1M932.4,420.6h0.1M892.5,400.8h0.1M886.9,421.5h0.1M929.3,462.2h0.1M929.0,472.0h0.1M890.8,436.3h0.1M932.7,400.5h0.1M895.2,446.9h0.1M926.5,464.9h0.1M908.0,465.0h0.1M921.8,469.8h0.1M881.0,418.1h0.1M903.4,390.6h0.1M894.9,456.9h0.1M901.5,462.3h0.1M935.6,441.6h0.1M930.1,419.1h0.1M885.2,435.8h0.1M919.6,398.6h0.1M917.4,470.4h0.1M897.5,459.1h0.1M937.5,412.5h0.1M919.5,401.5h0.1M940.9,433.8h0.1M926.2,401.9h0.1M892.0,415.0h0.1M894.4,464.0h0.1M917.2,389.1h0.1M932.0,419.7h0.1M933.1,451.9h0.1M883.7,430.8h0.1M934.6,410.1h0.1M887.7,400.1h0.1M889.7,447.2h0.1M941.9,435.8h0.1M924.7,474.4h0.1M891.6,402.6h0.1M933.1,456.0h0.1M887.2,402.6h0.1M932.0,452.3h0.1M885.0,430.1h0.1M901.0,459.6h0.1M892.2,412.1h0.1M912.4,471.3h0.1M935.6,414.7h0.1M924.6,399.8h0.1M922.3,469.5h0.1M936.5,414.9h0.1M912.8,467.4h0.1M884.9,437.2h0.1M896.9,453.9h0.1M888.7,395.6h0.1M922.6,467.5h0.1M906.7,468.1h0.1M895.8,397.5h0.1M911.4,388.2h0.1M890.6,434.3h0.1M932.6,418.8h0.1M913.7,393.8h0.1M926.1,472.4h0.1M912.6,475.7h0.1M891.3,436.5h0.1M924.5,470.0h0.1M888.3,395.9h0.1M933.1,460.0h0.1M928.4,473.1h0.1M930.3,457.7h0.1M937.1,441.2h0.1M930.3,399.6h0.1M899.1,387.0h0.1M929.2,410.0h0.1M932.7,469.3h0.1M903.6,393.7h0.1M892.7,399.1h0.1M902.0,462.7h0.1M928.0,461.6h0.1M916.0,471.1h0.1M929.1,416.4h0.1M930.9,418.0h0.1M901.2,469.0h0.1M914.8,392.3h0.1M938.1,438.5h0.1M897.7,467.3h0.1M928.1,466.8h0.1M922.3,405.2h0.1M892.4,459.3h0.1M906.1,393.3h0.1M932.7,435.2h0.1M927.1,408.1h0.1M902.1,386.9h0.1M907.4,466.8h0.1M935.2,414.5h0.1M918.9,474.1h0.1M910.7,468.8h0.1M940.4,426.0h0.1M930.6,405.0h0.1M926.9,414.2h0.1M923.1,471.1h0.1M939.0,412.7h0.1M901.0,460.1h0.1M893.2,453.3h0.1M927.2,410.1h0.1M912.4,388.4h0.1M916.3,389.6h0.1M889.0,410.0h0.1M909.9,469.3h0.1M908.1,393.1h0.1M929.8,469.8h0.1M920.3,468.6h0.1M938.9,434.4h0.1M906.2,473.9h0.1M928.8,396.1h0.1M918.2,469.1h0.1M937.5,450.0h0.1M897.6,392.9h0.1M922.9,470.7h0.1M886.1,406.1h0.1M902.3,387.3h0.1M894.7,400.5h0.1M917.0,395.2h0.1M887.2,419.2h0.1M902.2,392.7h0.1M920.7,470.0h0.1" stroke="#000" stroke-width="1.4" stroke-linecap="round" fill="none"/>
<path d="M933.8,393.3h0.1M924.4,388.6h0.1M919.7,389.8h0.1M930.6,467.8h0.1M945.4,440.0h0.1M943.0,418.0h0.1M930.3,391.6h0.1M920.0,390.0h0.1M915.1,388.2h0.1M944.9,411.4h0.1M936.6,411.3h0.1M936.4,395.7h0.1M918.9,386.8h0.1M941.3,408.9h0.1M939.4,404.8h0.1M945.8,422.8h0.1M938.0,464.8h0.1M922.9,393.2h0.1M934.9,467.0h0.1M931.0,391.0h0.1M948.0,432.6h0.1M937.4,462.2h0.1M942.1,405.9h0.1M925.3,388.6h0.1M921.9,387.5h0.1M949.1,447.4h0.1M940.5,460.2h0.1M926.9,395.8h0.1M945.1,426.8h0.1M920.3,385.3h0.1M946.6,423.9h0.1M928.9,396.8h0.1M914.6,387.7h0.1M933.1,399.4h0.1M942.8,408.2h0.1M936.3,462.4h0.1M937.7,412.8h0.1M950.1,442.8h0.1M930.7,392.6h0.1M931.9,404.3h0.1M942.3,452.8h0.1M926.5,392.5h0.1M930.7,396.7h0.1M942.0,417.4h0.1M943.7,434.0h0.1M919.9,391.1h0.1M922.1,388.9h0.1M941.7,406.5h0.1M946.6,423.5h0.1M931.2,466.4h0.1M914.8,389.0h0.1M941.0,410.3h0.1M942.9,450.8h0.1M931.8,465.5h0.1M938.9,458.6h0.1M936.2,460.7h0.1M934.7,469.3h0.1M932.3,469.5h0.1M929.8,389.8h0.1M938.7,417.9h0.1M945.8,435.8h0.1M940.3,421.1h0.1M923.5,389.1h0.1M939.4,419.0h0.1M944.7,415.7h0.1M944.6,448.1h0.1M939.4,411.9h0.1M929.0,397.5h0.1M939.1,418.3h0.1M946.4,449.6h0.1M941.3,436.6h0.1M938.6,408.5h0.1M922.4,385.6h0.1M943.8,452.3h0.1M942.4,446.7h0.1M931.3,395.9h0.1M945.4,451.4h0.1M914.4,385.9h0.1M938.4,466.0h0.1M938.3,468.3h0.1M929.4,396.8h0.1M950.1,428.4h0.1M943.3,407.0h0.1M940.3,460.8h0.1M950.3,438.1h0.1M941.3,454.4h0.1M938.4,459.3h0.1M943.5,407.0h0.1M939.1,459.8h0.1M935.9,400.5h0.1M941.7,460.8h0.1M936.6,467.6h0.1M942.2,458.7h0.1M938.5,408.3h0.1M944.4,422.1h0.1M939.2,459.0h0.1M919.7,386.3h0.1M933.3,399.8h0.1M924.0,387.4h0.1M932.6,400.7h0.1M942.2,456.9h0.1M937.1,398.0h0.1M940.2,413.8h0.1M934.8,469.5h0.1M942.0,450.9h0.1M942.5,458.0h0.1M940.2,458.6h0.1M945.3,455.5h0.1M941.8,410.1h0.1M946.9,456.0h0.1M937.9,466.9h0.1M924.8,389.7h0.1M941.6,444.4h0.1M946.9,418.1h0.1M939.6,466.6h0.1M921.3,387.8h0.1M940.4,462.5h0.1M933.2,406.0h0.1M938.3,467.2h0.1M944.5,441.3h0.1M943.3,460.0h0.1M945.5,449.3h0.1M935.2,404.7h0.1M937.4,408.3h0.1M941.1,426.4h0.1M943.4,448.5h0.1M924.9,393.0h0.1M939.8,411.1h0.1M939.8,453.8h0.1M929.4,396.7h0.1M928.6,391.0h0.1M920.7,391.9h0.1M947.8,429.7h0.1M941.7,458.9h0.1M940.3,402.7h0.1M944.2,450.3h0.1M949.9,430.4h0.1M932.9,471.7h0.1M923.4,391.2h0.1M938.2,414.0h0.1M940.1,451.9h0.1M938.8,463.9h0.1M945.1,436.8h0.1M935.8,466.9h0.1M940.1,465.9h0.1M949.6,446.3h0.1M942.8,422.5h0.1M940.6,460.4h0.1M937.6,401.9h0.1M940.1,421.5h0.1" stroke="#000" stroke-width="1.4" stroke-linecap="round" fill="none"/>
<path class="k" d="M922.8,410.7C922.9,409.5 922.9,406 923.2,403.8C923.4,401.6 923.7,399.4 924.1,397.3C924.5,395.2 925.1,393.2 925.7,391.3C926.3,389.4 927,387.6 927.8,385.9C928.6,384.2 929.5,382.6 930.5,381.2C931.4,379.7 932.5,378.4 933.6,377.3C934.7,376.1 935.9,375.1 937.2,374.2C938.4,373.3 939.7,372.6 941.1,372.1C942.4,371.5 943.8,371.2 945.3,370.9C946.7,370.7 948.1,370.7 949.6,370.8C951.1,370.9 952.6,371.2 954.1,371.6C955.6,372.1 957.1,372.7 958.6,373.5C960.1,374.2 961.5,375.2 963,376.2C964.4,377.3 965.9,378.5 967.3,379.9C968.6,381.2 970,382.8 971.3,384.4C972.6,386 973.8,387.7 975,389.6C976.2,391.4 977.3,393.4 978.3,395.4C979.3,397.5 980.3,399.6 981.2,401.8C982,404 982.8,406.2 983.5,408.5C984.2,410.8 984.8,413.2 985.3,415.6C985.8,417.9 986.2,420.3 986.5,422.7C986.8,425.1 987,427.5 987.1,429.8C987.2,432.2 987.2,434.5 987.1,436.8C987,439.1 986.8,441.3 986.4,443.5C986.1,445.6 985.7,447.8 985.2,449.8C984.7,451.8 984,453.7 983.3,455.5C982.6,457.3 981.8,459 980.9,460.6C980,462.1 979.1,463.6 978,464.9C977,466.2 975.8,467.4 974.7,468.4C973.5,469.4 972.2,470.3 970.9,471C969.6,471.7 968.3,472.2 966.9,472.6C965.5,473 964,473.2 962.6,473.3C961.1,473.3 959.6,473.2 958.2,472.9C956.7,472.6 955.2,472.2 953.7,471.6C952.2,471 949.9,469.7 949.2,469.3" style="stroke-width:2.5"/>
<path class="k" d="M929.1,405.5C929.3,404.6 929.6,401.7 930,399.9C930.4,398.1 930.8,396.4 931.3,394.8C931.9,393.2 932.5,391.7 933.2,390.2C933.8,388.8 934.6,387.5 935.4,386.4C936.2,385.2 937.1,384.1 938.1,383.2C939,382.3 940,381.5 941.1,380.8C942.1,380.2 943.2,379.7 944.3,379.3C945.5,379 946.6,378.8 947.8,378.7C949,378.6 950.2,378.7 951.4,379C952.7,379.2 953.9,379.6 955.1,380.1C956.4,380.6 957.6,381.3 958.8,382.1C960.1,382.9 961.3,383.8 962.5,384.9C963.6,386 964.8,387.2 965.9,388.5C967.1,389.8 968.2,391.3 969.2,392.8C970.2,394.3 971.2,396 972.2,397.7C973.1,399.4 974,401.2 974.8,403.1C975.6,404.9 976.3,406.9 977,408.9C977.7,410.8 978.3,412.9 978.8,414.9C979.3,417 979.7,419.1 980.1,421.2C980.4,423.3 980.7,425.4 980.9,427.5C981.1,429.5 981.2,431.6 981.2,433.6C981.2,435.7 981.1,437.7 980.9,439.6C980.8,441.6 980.5,443.4 980.2,445.3C979.8,447.1 979.4,448.8 978.9,450.4C978.4,452.1 977.8,453.7 977.2,455.1C976.5,456.5 975.8,457.9 975,459.1C974.2,460.3 973.3,461.4 972.4,462.4C971.4,463.3 970.5,464.2 969.4,464.8C968.4,465.5 967.3,466.1 966.2,466.5C965.1,466.9 963.9,467.2 962.7,467.3C961.6,467.4 960.3,467.3 959.1,467.1C957.9,467 956,466.3 955.4,466.1"/>
<path class="t" d="M960.6,387.8C961.1,388.2 962.7,389.4 963.7,390.4C964.7,391.3 965.7,392.4 966.7,393.5C967.7,394.7 968.6,396 969.5,397.3C970.4,398.6 971.3,400.1 972.1,401.6C972.9,403.1 973.7,404.7 974.4,406.3C975.1,408 975.7,409.7 976.3,411.4C976.9,413.1 977.4,414.9 977.9,416.7C978.3,418.5 978.7,420.3 979,422.2C979.4,424 979.6,425.8 979.8,427.7C979.9,429.5 980,431.3 980.1,433.1C980.1,434.9 980,436.6 979.9,438.3C979.8,440 979.6,441.7 979.3,443.3C979,444.9 978.7,446.4 978.3,447.9C977.8,449.3 977.4,450.7 976.8,452C976.3,453.3 975.3,455 975,455.6"/>
<path class="k" d="M971.2,371.5C975.4,369.6 988.8,360.9 996.3,360C1003.8,359.1 1009.7,361 1016,366C1022.3,371 1029.9,381.8 1034,390C1038.1,398.2 1039.7,407 1040.4,415C1041.1,423 1040.1,432 1038,438C1035.9,444 1034.8,447.9 1027.8,451.2C1020.8,454.4 1001.5,456.4 996.3,457.5" style="stroke-width:2.5"/>
<path class="k" d="M971.7,389.8C971.8,388.9 972.1,385.8 972.4,384C972.7,382.1 973.1,380.3 973.6,378.6C974,376.9 974.6,375.2 975.2,373.8C975.8,372.3 976.5,370.9 977.3,369.7C978.1,368.5 978.9,367.3 979.8,366.4C980.7,365.4 981.6,364.6 982.6,363.9C983.6,363.3 984.6,362.8 985.7,362.4C986.8,362 987.9,361.8 989,361.8C990.2,361.7 991.4,361.9 992.5,362.1C993.7,362.4 994.9,362.8 996.1,363.4C997.3,364 998.5,364.7 999.7,365.6C1000.9,366.4 1002.1,367.5 1003.3,368.6C1004.4,369.8 1005.6,371.1 1006.7,372.5C1007.8,373.9 1008.9,375.4 1009.9,377.1C1011,378.7 1012,380.5 1012.9,382.3C1013.8,384.1 1014.7,386.1 1015.6,388.1C1016.4,390 1017.2,392.1 1017.8,394.2C1018.5,396.3 1019.2,398.5 1019.7,400.7C1020.3,402.9 1020.7,405.1 1021.1,407.3C1021.5,409.6 1021.8,411.8 1022.1,414C1022.3,416.2 1022.4,418.4 1022.5,420.6C1022.5,422.7 1022.5,424.9 1022.4,426.9C1022.3,429 1022.1,431 1021.8,432.9C1021.5,434.8 1021.2,436.7 1020.7,438.4C1020.3,440.1 1019.8,441.8 1019.2,443.3C1018.6,444.9 1017.9,446.3 1017.2,447.6C1016.4,448.8 1015.6,450 1014.8,451C1013.9,452 1013,452.9 1012,453.6C1011,454.4 1010,454.9 1008.9,455.4C1007.9,455.8 1006.8,456 1005.6,456.2C1004.5,456.3 1003.3,456.2 1002.2,456C1001,455.8 999.8,455.4 998.6,454.9C997.4,454.4 996.2,453.7 995,452.9C993.8,452.1 992.6,451.1 991.4,450C990.2,449 989.1,447.7 988,446.3C986.8,445 985.7,443.5 984.7,441.9C983.6,440.3 982.2,437.6 981.7,436.8"/>
<path class="k" d="M980.5,375.7C980.8,375.1 981.7,373.5 982.4,372.6C983.1,371.7 983.8,370.9 984.6,370.2C985.4,369.5 986.2,369 987.1,368.6C987.9,368.2 988.8,367.9 989.7,367.8C990.7,367.7 991.6,367.7 992.6,367.9C993.6,368 994.6,368.3 995.5,368.7C996.5,369.1 997.5,369.7 998.5,370.4C999.5,371.1 1000.5,371.9 1001.5,372.8C1002.5,373.7 1003.5,374.8 1004.4,376C1005.4,377.1 1006.3,378.4 1007.2,379.8C1008.1,381.1 1009,382.6 1009.9,384.2C1010.7,385.7 1011.5,387.4 1012.2,389.1C1013,390.8 1013.7,392.6 1014.3,394.4C1015,396.2 1015.6,398.1 1016.1,400C1016.7,401.9 1017.1,403.9 1017.6,405.8C1018,407.8 1018.3,409.8 1018.6,411.7C1018.9,413.7 1019.1,415.7 1019.3,417.6C1019.4,419.5 1019.5,421.4 1019.5,423.3C1019.5,425.2 1019.5,427 1019.3,428.8C1019.2,430.5 1019,432.2 1018.7,433.9C1018.5,435.5 1018.1,437 1017.7,438.5C1017.3,439.9 1016.9,441.3 1016.4,442.5C1015.8,443.8 1015.2,445 1014.6,446C1014,447 1013.3,447.9 1012.5,448.7C1011.8,449.5 1011,450.2 1010.2,450.7C1009.4,451.2 1008.5,451.6 1007.6,451.9C1006.7,452.2 1005.8,452.3 1004.8,452.3C1003.9,452.3 1002.9,452.1 1001.9,451.8C1001,451.5 1000,451.1 999,450.6C998,450 996.5,448.8 996,448.5" style="stroke-dasharray:2 2;stroke-width:2.5"/>
<path class="m" d="M1014.7,407.7C1014.8,408.5 1015.3,411.1 1015.6,412.7C1015.8,414.4 1016,416.1 1016.2,417.8C1016.3,419.4 1016.4,421.1 1016.4,422.7C1016.5,424.3 1016.4,425.9 1016.3,427.4C1016.3,428.9 1016.1,430.3 1015.9,431.7C1015.7,433.1 1015.5,434.4 1015.2,435.7C1014.9,436.9 1014.5,438.1 1014.1,439.1C1013.7,440.2 1013.3,441.2 1012.8,442.1C1012.3,442.9 1011.7,443.7 1011.2,444.4C1010.6,445.1 1009.9,445.6 1009.3,446.1C1008.6,446.5 1007.9,446.8 1007.2,447.1C1006.5,447.3 1005.8,447.4 1005,447.3C1004.3,447.3 1003.5,447.2 1002.7,446.9C1001.9,446.7 1001.1,446.3 1000.3,445.8C999.5,445.3 998.6,444.7 997.8,444C997,443.3 996.2,442.5 995.4,441.6C994.6,440.7 993.8,439.6 993.1,438.5C992.3,437.4 991.6,436.2 990.9,435C990.1,433.7 989.4,432.3 988.8,430.9C988.1,429.5 987.5,428 986.9,426.5C986.3,425 985.8,423.4 985.3,421.8C984.8,420.2 984.3,418.5 983.9,416.8C983.5,415.2 983.2,413.5 982.9,411.8C982.5,410.1 982.3,408.4 982.1,406.7C981.9,405.1 981.7,403.4 981.7,401.7C981.6,400.1 981.5,398.5 981.6,396.9C981.6,395.4 981.7,393.9 981.8,392.4C982,391 982.2,389.6 982.4,388.3C982.6,386.9 983,385.7 983.3,384.5C983.7,383.4 984.1,382.3 984.5,381.3C985,380.3 985.5,379.5 986,378.7C986.5,377.9 987.1,377.2 987.7,376.7C988.4,376.1 989,375.7 989.7,375.4C990.4,375 991.1,374.8 991.9,374.7C992.6,374.6 993.4,374.6 994.1,374.8C994.9,374.9 995.7,375.2 996.5,375.6C997.3,375.9 998.1,376.4 998.9,377C999.8,377.6 1000.6,378.3 1001.4,379.1C1002.2,379.9 1003,380.9 1003.8,381.9C1004.5,382.9 1005.3,384 1006,385.2C1006.8,386.4 1007.5,387.7 1008.2,389C1008.9,390.3 1009.5,391.8 1010.2,393.2C1010.8,394.7 1011.4,396.3 1011.9,397.8C1012.5,399.4 1013,401 1013.4,402.7C1013.9,404.3 1014.4,406.8 1014.7,407.7"/>
<path class="t" d="M1006.9,444.3C1006.5,444.3 1005.6,444.4 1005,444.3C1004.3,444.2 1003.7,444 1003,443.7C1002.3,443.4 1001.6,443 1001,442.5C1000.3,442 999.6,441.3 998.9,440.6C998.2,439.9 997.5,439.1 996.9,438.2C996.2,437.3 995.5,436.3 994.9,435.2C994.2,434.1 993.6,432.9 993,431.7C992.4,430.5 991.8,429.2 991.3,427.9C990.7,426.5 990.2,425.1 989.7,423.7C989.2,422.3 988.8,420.8 988.4,419.3C988,417.8 987.6,416.2 987.3,414.7C987,413.2 986.7,411.6 986.4,410.1C986.2,408.5 986,407 985.9,405.5C985.7,404 985.6,402.5 985.6,401C985.5,399.6 985.5,398.2 985.6,396.8C985.6,395.5 985.7,394.1 985.9,392.9C986,391.7 986.2,390.5 986.5,389.4C986.7,388.3 987,387.2 987.4,386.3C987.7,385.4 988.1,384.5 988.5,383.8C988.9,383 989.3,382.3 989.8,381.8C990.3,381.2 990.8,380.8 991.4,380.4C991.9,380.1 992.8,379.8 993.1,379.7"/>
<path class="t" d="M1014.4,366.2C1014.9,366.5 1016.6,367.4 1017.7,368.2C1018.8,369 1019.9,369.9 1021,371C1022.1,372.1 1023.2,373.3 1024.2,374.6C1025.3,376 1026.3,377.4 1027.3,379C1028.2,380.5 1029.2,382.2 1030.1,383.9C1031,385.7 1031.8,387.5 1032.6,389.4C1033.4,391.3 1034.1,393.3 1034.8,395.3C1035.5,397.3 1036.1,399.4 1036.6,401.5C1037.1,403.6 1037.6,405.8 1038,407.9C1038.4,410 1038.7,412.2 1039,414.3C1039.2,416.4 1039.4,418.5 1039.5,420.6C1039.6,422.7 1039.6,424.7 1039.5,426.7C1039.4,428.7 1039.3,430.6 1039.1,432.5C1038.8,434.3 1038.5,436.1 1038.2,437.8C1037.8,439.5 1037.3,441.1 1036.8,442.6C1036.3,444.1 1035.3,446 1035,446.7"/>
<path class="k" d="M1033.9,385.7C1033.9,384.8 1033.9,382.2 1034,380.5C1034.1,378.8 1034.2,377.1 1034.5,375.5C1034.7,373.9 1035.1,372.4 1035.5,370.9C1035.8,369.5 1036.3,368.1 1036.8,366.8C1037.3,365.5 1037.9,364.3 1038.6,363.2C1039.2,362.2 1039.9,361.2 1040.6,360.3C1041.4,359.4 1042.2,358.7 1043,358C1043.9,357.4 1044.8,356.9 1045.7,356.5C1046.6,356.1 1047.5,355.9 1048.5,355.7C1049.5,355.6 1050.5,355.6 1051.5,355.7C1052.5,355.8 1053.5,356.1 1054.6,356.5C1055.6,356.9 1056.6,357.4 1057.7,358C1058.7,358.6 1059.7,359.4 1060.7,360.2C1061.7,361.1 1062.8,362.1 1063.7,363.2C1064.7,364.3 1065.6,365.4 1066.5,366.7C1067.5,368 1068.3,369.4 1069.2,370.8C1070,372.3 1070.8,373.8 1071.5,375.4C1072.3,377 1073,378.7 1073.6,380.4C1074.2,382.1 1074.8,383.8 1075.3,385.6C1075.8,387.4 1076.3,389.2 1076.6,391C1077,392.9 1077.3,394.7 1077.6,396.6C1077.8,398.4 1078,400.2 1078.1,402C1078.2,403.8 1078.2,405.6 1078.1,407.4C1078.1,409.1 1078,410.8 1077.8,412.5C1077.6,414.1 1077.3,415.7 1077,417.2C1076.7,418.7 1076.3,420.2 1075.8,421.6C1075.3,422.9 1074.8,424.2 1074.2,425.4C1073.6,426.5 1073,427.6 1072.3,428.6C1071.6,429.5 1070.8,430.4 1070,431.1C1069.2,431.8 1068.3,432.5 1067.5,432.9C1066.6,433.4 1065.6,433.8 1064.7,434C1063.7,434.3 1062.8,434.4 1061.8,434.4C1060.8,434.3 1059.2,434 1058.7,433.9"/>
<path class="m" d="M1036.8,383.1C1036.8,382.3 1036.9,379.9 1037,378.4C1037.2,376.9 1037.4,375.4 1037.7,374C1037.9,372.7 1038.3,371.3 1038.7,370.1C1039,368.9 1039.5,367.7 1040,366.6C1040.5,365.6 1041,364.6 1041.6,363.7C1042.2,362.9 1042.9,362.1 1043.5,361.4C1044.2,360.8 1045,360.2 1045.7,359.8C1046.5,359.4 1047.3,359.1 1048.1,358.9C1048.9,358.7 1049.7,358.6 1050.6,358.6C1051.5,358.7 1052.3,358.8 1053.2,359.1C1054.1,359.4 1055,359.8 1055.9,360.3C1056.8,360.8 1057.7,361.4 1058.6,362.2C1059.5,362.9 1060.4,363.7 1061.2,364.7C1062.1,365.6 1062.9,366.6 1063.8,367.8C1064.6,368.9 1065.4,370.1 1066.1,371.4C1066.9,372.7 1067.6,374.1 1068.3,375.5C1069,376.9 1069.7,378.4 1070.3,380C1070.9,381.5 1071.4,383.1 1071.9,384.8C1072.4,386.4 1072.9,388.1 1073.3,389.7C1073.7,391.4 1074,393.1 1074.3,394.8C1074.6,396.5 1074.8,398.2 1074.9,399.9C1075.1,401.6 1075.2,403.3 1075.2,404.9C1075.2,406.5 1075.2,408.1 1075.1,409.7C1075,411.2 1074.8,412.8 1074.6,414.2C1074.4,415.6 1074.1,417 1073.8,418.3C1073.5,419.6 1073.1,420.9 1072.6,422C1072.2,423.1 1071.6,424.2 1071.1,425.1C1070.5,426.1 1069.9,427 1069.3,427.7C1068.6,428.4 1067.9,429.1 1067.2,429.6C1066.5,430.1 1065.7,430.5 1064.9,430.8C1064.1,431.1 1063.3,431.3 1062.5,431.4C1061.6,431.4 1060.3,431.2 1059.9,431.2"/>
<path class="k" d="M1055,430L1058,436 L1064,435 L1067,437 L1070,434"/>
<path class="k" d="M1153.3,315.2 L1153.4,311.3 L1154.8,310.7 L1157.2,313.6 L1158.5,313.2 L1159.3,309.5 L1160.8,309.3 L1162.6,312.7 L1164,312.8 L1165.4,309.4 L1166.9,309.6 L1168.3,313.4 L1169.7,313.8 L1171.6,310.8 L1173.2,311.4 L1173.9,315.5 L1175.3,316.2 L1177.9,313.7 L1179.4,314.7 L1179.5,318.9 L1180.9,320 L1183.9,318.1 L1185.3,319.4 L1184.8,323.7 L1186.1,325.1 L1189.5,323.8 L1190.8,325.4 L1189.7,329.7 L1190.9,331.3 L1194.5,330.7 L1195.7,332.6 L1194.1,336.7 L1195.1,338.5 L1198.9,338.5 L1199.9,340.6 L1197.8,344.4 L1198.6,346.5 L1202.5,347.2 L1203.3,349.4 L1200.7,352.8 L1201.3,355 L1205.2,356.3 L1205.7,358.6 L1202.8,361.6 L1203.1,363.8 L1206.9,365.7 L1207.2,368.1 L1203.9,370.4 L1204.1,372.6 L1207.6,375.1 L1207.6,377.4 L1204.1,379.2 L1204.1,381.3 L1207.3,384.3 L1207,386.5 L1203.4,387.5 L1203.1,389.5 L1205.9,392.9 L1205.4,395 L1201.8,395.3 L1201.2,397.1 L1203.5,400.8 L1202.8,402.7 L1199.2,402.3 L1198.5,403.9 L1200.2,407.8 L1199.3,409.4 L1195.9,408.2 L1195,409.6 L1196.1,413.6 L1194.9,414.8 L1191.9,413 L1190.7,414 L1191.2,418.1 L1189.9,419 L1187.2,416.5 L1185.9,417.2 L1185.8,421.1 L1184.3,421.6 L1182.1,418.6 L1180.7,418.9 L1179.9,422.6 L1178.4,422.7 L1176.6,419.3 L1175.2,419.2 L1173.7,422.5 L1172.2,422.3 L1170.9,418.4 L1169.5,418"/>
<path class="m" d="M1131.3,322.2L1153.3,315.2"/>
<path class="m" d="M1135.9,320.4L1157.9,313.4"/>
<path class="m" d="M1140.7,319.7L1162.7,312.7"/>
<path class="m" d="M1145.6,320.2L1167.6,313.2"/>
<path class="m" d="M1150.6,321.9L1172.6,314.9"/>
<path class="m" d="M1155.6,324.6L1177.6,317.6"/>
<path class="m" d="M1160.4,328.3L1182.4,321.3"/>
<path class="m" d="M1164.9,333.0L1186.9,326.0"/>
<path class="m" d="M1169.1,338.6L1191.1,331.6"/>
<path class="m" d="M1172.8,344.9L1194.8,337.9"/>
<path class="m" d="M1175.9,351.8L1197.9,344.8"/>
<path class="m" d="M1178.5,359.2L1200.5,352.2"/>
<path class="m" d="M1180.4,366.9L1202.4,359.9"/>
<path class="m" d="M1181.7,374.7L1203.7,367.7"/>
<path class="m" d="M1182.2,382.4L1204.2,375.4"/>
<path class="m" d="M1181.9,390.0L1203.9,383.0"/>
<path class="m" d="M1181.0,397.2L1203.0,390.2"/>
<path class="m" d="M1179.3,403.9L1201.3,396.9"/>
<path class="m" d="M1177.0,409.9L1199.0,402.9"/>
<path class="m" d="M1174.0,415.1L1196.0,408.1"/>
<path class="m" d="M1170.5,419.4L1192.5,412.4"/>
<path class="m" d="M1166.5,422.7L1188.5,415.7"/>
<path class="m" d="M1162.1,425.0L1184.1,418.0"/>
<path class="m" d="M1157.4,426.1L1179.4,419.1"/>
<path class="m" d="M1152.5,426.1L1174.5,419.1"/>
<ellipse class="w" cx="1148" cy="373" rx="33" ry="54" transform="rotate(-12 1148 373)"/>
<path class="k" d="M1113.9,366 L1110.9,363.5 L1110.9,361.2 L1113.9,359.4 L1114,357.3 L1111.2,354.4 L1111.5,352.2 L1114.6,351.1 L1115,349.1 L1112.6,345.9 L1113.1,343.8 L1116.3,343.3 L1116.9,341.5 L1115,338.1 L1115.8,336.3 L1118.9,336.4 L1119.7,334.8 L1118.3,331.2 L1119.3,329.7 L1122.3,330.5 L1123.2,329.2 L1122.4,325.6 L1123.6,324.4 L1126.4,325.8 L1127.5,324.8 L1127.3,321.2 L1128.6,320.3 L1131,322.3 L1132.3,321.7 L1132.7,318.3 L1134.1,317.8 L1136.2,320.3 L1137.5,320 L1138.5,316.9 L1140,316.8 L1141.7,319.7 L1143.1,319.8 L1144.6,317 L1146.1,317.3 L1147.3,320.7 L1148.8,321.1 L1150.7,318.7 L1152.3,319.4 L1153,323 L1154.4,323.8"/>
<path class="K" d="M1154.4,323.8C1155.2,324.4 1157.6,326 1159.2,327.3C1160.7,328.6 1162.2,330 1163.7,331.6C1165.1,333.2 1166.5,335 1167.8,336.9C1169.2,338.7 1170.4,340.7 1171.6,342.8C1172.8,344.9 1173.9,347.1 1174.9,349.4C1175.9,351.7 1176.8,354.1 1177.6,356.5C1178.5,358.9 1179.2,361.4 1179.8,363.9C1180.4,366.4 1180.9,369 1181.2,371.5C1181.6,374.1 1181.9,376.6 1182,379.2C1182.2,381.7 1182.2,384.2 1182.1,386.7C1182,389.1 1181.8,391.5 1181.5,393.9C1181.2,396.2 1180.8,398.5 1180.2,400.7C1179.7,402.8 1179,404.9 1178.2,406.9C1177.5,408.9 1176.6,410.7 1175.7,412.4C1174.7,414.1 1173.6,415.7 1172.5,417.2C1171.4,418.6 1170.1,419.9 1168.8,421C1167.5,422.1 1166.2,423 1164.7,423.8C1163.3,424.5 1161.8,425.1 1160.3,425.6C1158.8,426 1157.2,426.2 1155.6,426.3C1154,426.3 1152.4,426.2 1150.8,425.9C1149.2,425.5 1147.5,425 1145.9,424.4C1144.2,423.7 1142.6,422.8 1141,421.8C1139.4,420.8 1137.8,419.6 1136.3,418.3C1134.8,416.9 1133.3,415.4 1131.8,413.8C1130.4,412.2 1129,410.4 1127.7,408.5C1126.4,406.6 1125.1,404.5 1124,402.4C1122.8,400.3 1121.7,398.1 1120.7,395.8C1119.8,393.5 1118.9,391.1 1118.1,388.6C1117.3,386.2 1116.6,383.7 1116,381.2C1115.4,378.7 1115,376.1 1114.6,373.6C1114.3,371 1114,367.2 1113.9,366"/>
<path class="K" d="M1131.8,331.7C1132.4,331.5 1134.1,330.6 1135.4,330.2C1136.6,329.9 1137.9,329.7 1139.2,329.7C1140.4,329.7 1141.8,329.8 1143.1,330.1C1144.4,330.4 1145.8,330.8 1147.1,331.4C1148.4,332 1149.7,332.7 1151,333.6C1152.4,334.5 1153.7,335.5 1154.9,336.6C1156.2,337.8 1157.4,339.1 1158.6,340.5C1159.8,341.9 1160.9,343.4 1162,345C1163.1,346.7 1164.2,348.4 1165.1,350.2C1166.1,352 1167,353.9 1167.9,355.9C1168.7,357.9 1169.5,359.9 1170.2,362C1170.8,364.1 1171.4,366.2 1172,368.4C1172.5,370.5 1172.9,372.7 1173.2,374.9C1173.6,377.1 1173.8,379.3 1174,381.5C1174.1,383.6 1174.2,385.8 1174.1,387.9C1174.1,390 1174,392.1 1173.8,394.1C1173.5,396.1 1173.2,398.1 1172.8,400C1172.4,401.8 1171.9,403.6 1171.3,405.3C1170.7,407 1170.1,408.6 1169.3,410.1C1168.6,411.6 1167.8,413 1166.9,414.2C1166,415.4 1165,416.5 1164,417.5C1163,418.5 1161.9,419.3 1160.7,420C1159.6,420.7 1158.4,421.2 1157.2,421.6C1156,422 1154.7,422.2 1153.4,422.3C1152.2,422.4 1150.8,422.3 1149.5,422C1148.2,421.8 1146.9,421.4 1145.5,420.9C1144.2,420.3 1142.9,419.6 1141.6,418.8C1140.3,418 1138.9,417 1137.7,415.9C1136.4,414.8 1135.2,413.5 1134,412.2C1132.8,410.8 1131.6,409.3 1130.5,407.7C1129.4,406.1 1128.3,404.4 1127.3,402.6C1126.3,400.8 1125,397.9 1124.5,397"/>
<path class="k" d="M1138.3,335.9C1138.8,335.9 1140.4,335.6 1141.6,335.6C1142.7,335.7 1143.8,335.9 1144.9,336.2C1146.1,336.5 1147.2,336.9 1148.4,337.5C1149.5,338.1 1150.7,338.8 1151.8,339.6C1152.9,340.4 1154,341.3 1155.1,342.4C1156.2,343.4 1157.2,344.6 1158.2,345.9C1159.3,347.1 1160.2,348.5 1161.2,350C1162.1,351.4 1163,353 1163.8,354.6C1164.7,356.2 1165.4,357.9 1166.2,359.7C1166.9,361.4 1167.5,363.2 1168.1,365.1C1168.7,366.9 1169.2,368.8 1169.7,370.7C1170.1,372.6 1170.5,374.5 1170.8,376.4C1171.1,378.4 1171.3,380.3 1171.4,382.2C1171.6,384.1 1171.6,386 1171.6,387.9C1171.6,389.7 1171.5,391.5 1171.3,393.3C1171.1,395.1 1170.8,396.8 1170.5,398.4C1170.2,400.1 1169.7,401.7 1169.2,403.2C1168.8,404.6 1168.2,406.1 1167.6,407.4C1167,408.7 1166.3,409.9 1165.5,411C1164.8,412.1 1163.9,413.1 1163.1,413.9C1162.2,414.8 1161.3,415.6 1160.3,416.2C1159.4,416.8 1158.3,417.3 1157.3,417.6C1156.3,418 1155.2,418.2 1154.1,418.3C1153,418.4 1151.9,418.4 1150.8,418.2C1149.6,418 1148.5,417.7 1147.3,417.3C1146.2,416.8 1145.1,416.3 1143.9,415.6C1142.8,414.9 1141.7,414 1140.6,413.1C1139.5,412.2 1138.4,411.1 1137.3,409.9C1136.3,408.8 1135.2,407.5 1134.3,406.1C1133.3,404.8 1131.9,402.5 1131.5,401.8"/>
<path class="k" d="M1155.7,369.3 L1159.2,371.7 L1159.6,374.7 L1156.9,377.4 L1157,380 L1159.8,383.4 L1159.6,386.1 L1156.5,387.3 L1156.1,389.5 L1157.9,393.3 L1157.1,395.4 L1154.1,394.9 L1153.2,396.3 L1153.7,400.1 L1152.4,401.1 L1150,399 L1148.8,399.4 L1147.9,402.5 L1146.3,402.4 L1144.9,399 L1143.5,398.3 L1141.3,400.3 L1139.7,399.1 L1139.4,394.9 L1138.1,393.3 L1135,393.8 L1133.6,391.6 L1134.5,387.3 L1133.5,385 L1129.9,384 L1128.9,381.2 L1130.9,377.4 L1130.3,374.7 L1126.8,372.3 L1126.4,369.3 L1129.1,366.6 L1129,364 L1126.2,360.6 L1126.4,357.9 L1129.5,356.7 L1129.9,354.5 L1128.1,350.7 L1128.9,348.6 L1131.9,349.1 L1132.8,347.7 L1132.3,343.9 L1133.6,342.9 L1136,345 L1137.2,344.6 L1138.1,341.5 L1139.7,341.6 L1141.1,345 L1142.5,345.7 L1144.7,343.7 L1146.3,344.9 L1146.6,349.1 L1147.9,350.7 L1151,350.2 L1152.4,352.4 L1151.5,356.7 L1152.5,359 L1156.1,360 L1157.1,362.8 L1155.1,366.6 L1155.7,369.3"/>
<path class="t" d="M1132,347l20,-3"/>
<path class="t" d="M1132,353l20,-3"/>
<path class="t" d="M1132,359l20,-3"/>
<path class="t" d="M1132,365l20,-3"/>
<path class="t" d="M1132,371l20,-3"/>
<path class="t" d="M1132,377l20,-3"/>
<path class="t" d="M1132,383l20,-3"/>
<path class="t" d="M1132,389l20,-3"/>
<path class="t" d="M1118,365L1135,361 L1126,371Z"/>
<path class="k" d="M1134.5,374.2C1134.7,375.1 1135.2,377.9 1135.4,379.8C1135.7,381.6 1135.8,383.5 1135.9,385.3C1136,387.1 1136,388.9 1135.9,390.7C1135.9,392.5 1135.7,394.2 1135.5,395.9C1135.2,397.5 1134.9,399.2 1134.5,400.7C1134.1,402.2 1133.7,403.7 1133.1,405.1C1132.6,406.5 1132,407.8 1131.3,409C1130.7,410.2 1129.9,411.3 1129.2,412.3C1128.4,413.3 1127.5,414.2 1126.6,414.9C1125.7,415.7 1124.8,416.3 1123.8,416.9C1122.8,417.4 1121.8,417.8 1120.8,418C1119.7,418.3 1118.6,418.4 1117.5,418.4C1116.5,418.4 1115.3,418.3 1114.2,418C1113.1,417.8 1112,417.4 1110.8,416.9C1109.7,416.4 1108.6,415.7 1107.5,415C1106.4,414.2 1105.3,413.3 1104.2,412.3C1103.2,411.3 1102.1,410.2 1101.1,409C1100.1,407.8 1099.1,406.5 1098.2,405.2C1097.3,403.8 1096.4,402.3 1095.6,400.8C1094.8,399.2 1094,397.6 1093.3,395.9C1092.6,394.3 1091.9,392.5 1091.4,390.8C1090.8,389 1090.3,387.2 1089.9,385.4C1089.4,383.5 1089.1,381.7 1088.8,379.8C1088.5,378 1088.3,376.1 1088.2,374.3C1088,372.4 1088,370.6 1088,368.8C1088.1,367 1088.2,365.3 1088.4,363.6C1088.5,361.9 1088.8,360.2 1089.2,358.6C1089.5,357.1 1089.9,355.5 1090.4,354.1C1090.9,352.7 1091.5,351.3 1092.1,350C1092.7,348.8 1093.4,347.6 1094.2,346.6C1094.9,345.5 1095.8,344.6 1096.6,343.8C1097.5,342.9 1098.4,342.2 1099.4,341.6C1100.3,341 1101.3,340.6 1102.3,340.2C1103.4,339.9 1104.4,339.7 1105.5,339.6C1106.6,339.5 1107.7,339.6 1108.8,339.8C1109.9,340 1111.1,340.3 1112.2,340.7C1113.3,341.2 1114.5,341.7 1115.6,342.4C1116.7,343.1 1117.8,343.9 1118.9,344.8C1119.9,345.8 1121,346.8 1122,348C1123,349.1 1124,350.3 1125,351.7C1125.9,353 1126.8,354.4 1127.7,355.9C1128.5,357.4 1129.3,359 1130.1,360.7C1130.8,362.3 1131.5,364 1132.1,365.7C1132.7,367.5 1133.3,369.3 1133.8,371.1C1134.2,372.9 1134.6,374.7 1135,376.6C1135.3,378.4 1135.5,380.3 1135.7,382.1C1135.9,384 1136,385.8 1136,387.6C1136,389.4 1135.9,391.2 1135.8,392.9C1135.6,394.7 1135.4,396.4 1135.1,398C1134.8,399.6 1134.4,401.2 1134,402.7C1133.5,404.1 1133,405.5 1132.4,406.9C1131.8,408.2 1130.8,409.9 1130.5,410.5"/>
<path class="m" d="M1132.2,378C1132.3,378.9 1132.7,381.4 1132.8,383.1C1132.9,384.8 1133,386.5 1133,388.1C1133,389.8 1133,391.4 1132.8,393C1132.7,394.5 1132.5,396.1 1132.2,397.5C1132,399 1131.6,400.4 1131.2,401.7C1130.8,403.1 1130.4,404.3 1129.9,405.5C1129.4,406.7 1128.8,407.8 1128.1,408.7C1127.5,409.7 1126.8,410.6 1126.1,411.4C1125.4,412.2 1124.6,412.8 1123.8,413.4C1123,414 1122.1,414.4 1121.2,414.7C1120.4,415.1 1119.4,415.3 1118.5,415.4C1117.6,415.5 1116.6,415.4 1115.6,415.3C1114.7,415.1 1113.7,414.9 1112.7,414.5C1111.7,414.1 1110.7,413.6 1109.8,413C1108.8,412.4 1107.8,411.7 1106.9,410.9C1105.9,410 1105,409.1 1104.1,408.1C1103.2,407 1102.3,405.9 1101.4,404.7C1100.6,403.5 1099.8,402.2 1099,400.8C1098.2,399.5 1097.5,398 1096.8,396.6C1096.1,395.1 1095.5,393.5 1094.9,391.9C1094.4,390.3 1093.8,388.7 1093.4,387C1092.9,385.4 1092.5,383.7 1092.2,382C1091.9,380.3 1091.6,378.6 1091.4,376.9C1091.2,375.2 1091.1,373.5 1091,371.8C1091,370.1 1091,368.5 1091,366.9C1091.1,365.3 1091.3,363.7 1091.5,362.2C1091.7,360.7 1092,359.2 1092.3,357.8C1092.7,356.5 1093.1,355.1 1093.5,353.9C1094,352.7 1094.6,351.5 1095.1,350.5C1095.7,349.4 1096.4,348.4 1097.1,347.6C1097.8,346.7 1098.5,345.9 1099.3,345.3C1100.1,344.7 1100.9,344.1 1101.7,343.7C1102.6,343.3 1103.5,343 1104.4,342.8C1105.3,342.6 1106.3,342.5 1107.2,342.6C1108.2,342.6 1109.2,342.8 1110.1,343.1C1111.1,343.4 1112.1,343.8 1113.1,344.3C1114.1,344.8 1115,345.5 1116,346.2C1117,347 1117.9,347.8 1118.9,348.8C1119.8,349.7 1120.7,350.8 1121.6,351.9C1122.4,353.1 1123.3,354.3 1124.1,355.6C1124.9,356.9 1125.7,358.3 1126.4,359.7C1127.1,361.2 1127.8,362.7 1128.4,364.2C1129,365.8 1129.6,367.4 1130.1,369C1130.6,370.7 1131,372.4 1131.4,374C1131.8,375.7 1132.1,377.4 1132.3,379.1C1132.6,380.8 1132.8,382.5 1132.9,384.2C1133,385.9 1133,387.6 1133,389.2C1133,390.8 1132.9,392.5 1132.7,394C1132.6,395.6 1132.3,397.1 1132.1,398.5C1131.8,399.9 1131.4,401.3 1131,402.6C1130.6,403.9 1129.8,405.7 1129.5,406.3"/>
<path class="k" d="M1101,410L1104,418 L1110,417 L1113,419 L1115,415"/>
<path class="k" d="M1190.8,346.9C1190.9,346 1190.8,343.4 1190.9,341.8C1191,340.1 1191.2,338.5 1191.4,336.9C1191.6,335.4 1191.9,333.9 1192.3,332.5C1192.7,331.1 1193.1,329.7 1193.6,328.5C1194,327.3 1194.6,326.1 1195.2,325C1195.8,324 1196.5,323 1197.2,322.2C1197.9,321.3 1198.6,320.6 1199.4,320C1200.2,319.4 1201,318.9 1201.9,318.5C1202.8,318.1 1203.7,317.9 1204.6,317.7C1205.5,317.6 1206.5,317.6 1207.4,317.7C1208.4,317.8 1209.4,318.1 1210.3,318.4C1211.3,318.8 1212.3,319.3 1213.3,319.9C1214.3,320.5 1215.3,321.2 1216.2,322C1217.2,322.9 1218.1,323.8 1219.1,324.9C1220,325.9 1220.9,327.1 1221.8,328.3C1222.6,329.5 1223.5,330.9 1224.3,332.3C1225.1,333.7 1225.9,335.1 1226.6,336.7C1227.3,338.2 1228,339.8 1228.6,341.5C1229.2,343.1 1229.7,344.8 1230.2,346.6C1230.7,348.3 1231.2,350.1 1231.6,351.8C1231.9,353.6 1232.3,355.4 1232.5,357.2C1232.7,359 1232.9,360.8 1233,362.5C1233.2,364.3 1233.2,366 1233.2,367.7C1233.1,369.4 1233,371.1 1232.9,372.7C1232.7,374.3 1232.5,375.9 1232.2,377.3C1231.9,378.8 1231.5,380.2 1231.1,381.6C1230.7,382.9 1230.2,384.2 1229.7,385.3C1229.1,386.5 1228.5,387.5 1227.9,388.5C1227.2,389.4 1226.5,390.3 1225.8,391C1225,391.7 1224.2,392.3 1223.4,392.8C1222.6,393.3 1221.7,393.7 1220.8,394C1219.9,394.2 1219,394.4 1218,394.4C1217.1,394.4 1216.1,394.3 1215.1,394C1214.2,393.8 1213.2,393.4 1212.2,392.9C1211.2,392.4 1209.7,391.4 1209.2,391.1"/>
<path class="m" d="M1193.8,344.3C1193.8,343.5 1193.9,341.2 1194,339.7C1194.1,338.2 1194.3,336.7 1194.6,335.4C1194.8,334 1195.1,332.7 1195.5,331.5C1195.9,330.3 1196.3,329.1 1196.8,328.1C1197.3,327.1 1197.8,326.1 1198.4,325.3C1199,324.5 1199.6,323.7 1200.2,323.1C1200.9,322.5 1201.6,322 1202.3,321.6C1203.1,321.2 1203.9,320.9 1204.6,320.8C1205.4,320.6 1206.3,320.6 1207.1,320.7C1207.9,320.7 1208.8,320.9 1209.6,321.3C1210.5,321.6 1211.4,322 1212.2,322.6C1213.1,323.1 1214,323.8 1214.8,324.6C1215.7,325.4 1216.5,326.3 1217.4,327.2C1218.2,328.2 1219,329.3 1219.8,330.5C1220.6,331.6 1221.3,332.9 1222.1,334.2C1222.8,335.5 1223.5,336.9 1224.1,338.4C1224.8,339.9 1225.4,341.4 1225.9,342.9C1226.5,344.5 1227,346.1 1227.5,347.8C1227.9,349.4 1228.3,351.1 1228.7,352.7C1229,354.4 1229.3,356.1 1229.6,357.8C1229.8,359.5 1230,361.2 1230.1,362.8C1230.2,364.5 1230.2,366.1 1230.2,367.7C1230.2,369.3 1230.1,370.8 1230,372.3C1229.9,373.8 1229.7,375.3 1229.4,376.6C1229.2,378 1228.9,379.3 1228.5,380.5C1228.1,381.7 1227.7,382.9 1227.2,383.9C1226.7,384.9 1226.2,385.9 1225.6,386.7C1225,387.5 1224.4,388.3 1223.8,388.9C1223.1,389.5 1222.4,390 1221.7,390.4C1220.9,390.8 1220.1,391.1 1219.4,391.2C1218.6,391.4 1217.7,391.4 1216.9,391.3C1216.1,391.3 1215.2,391.1 1214.4,390.7C1213.5,390.4 1212.2,389.6 1211.8,389.4"/>
<path class="k" d="M1210,388L1212,394 L1217,393 L1220,395 L1223,391"/>
<path class="ax" d="M860,443L1080,388 M1090,385L1148,370.5"/>
<path class="k" d="M683.8,649.7L980.1,570.6 M683.8,688L990.8,610.1" style="stroke-width:2.5"/>
<path class="k" d="M980.1,570.6L988.4,571.2 L1036.8,558.8 M990.8,610.1L1045,593.6" style="stroke-width:2.5"/>
<path class="K" d="M1036.8,558.8C1037.7,558.8 1040.4,558.1 1042,559C1043.6,559.9 1044.9,561.2 1046.2,564.2C1047.5,567.2 1049.3,573 1049.7,577.1C1050.1,581.2 1049.3,586.2 1048.5,589C1047.7,591.8 1045.6,592.8 1045,593.6"/>
<path class="m" d="M960,578C961,580 964.7,586 966,590C967.3,594 968,598.2 968,602C968,605.8 966.3,611.2 966,613"/>
<path class="t" d="M965,576C966,578 969.5,584 971,588C972.5,592 973.7,596.2 974,600C974.3,603.8 973.2,609.2 973,611"/>
<path class="m" d="M979,572.4C979.8,574.5 982.8,580.7 984,585C985.2,589.3 985.8,593.7 986,598C986.2,602.3 985.2,608.8 985,611"/>
<path class="t" d="M988.4,572.4C989.7,574.2 994.1,579.4 996,583C997.9,586.6 999.3,590.3 1000,594C1000.7,597.7 1000,603.2 1000,605"/>
<path class="m" d="M1004.0,567.0L1044.0,558.0"/>
<path class="m" d="M1004.5,571.3L1044.0,562.3"/>
<path class="m" d="M1005.0,575.6L1044.0,566.6"/>
<path class="m" d="M1005.5,579.9L1044.0,570.9"/>
<path class="m" d="M1006.0,584.2L1044.0,575.2"/>
<path class="m" d="M1006.5,588.5L1044.0,579.5"/>
<path class="m" d="M1007.0,592.8L1044.0,583.8"/>
<path class="m" d="M1007.5,597.1L1044.0,588.1"/>
<path class="ax" d="M1052,572.4L1062,570"/>
<path class="k" d="M631.7,663.4L671,652.6 M634.7,694.9L683.8,687"/>
<ellipse class="kw" cx="632.5" cy="678.8" rx="8" ry="15.5" transform="rotate(-10 632.5 678.8)" style="stroke-width:2.4"/>
<path class="m" d="M636.4,682.7C636.3,682.7 636.2,682.9 636,683.1C635.9,683.2 635.8,683.3 635.7,683.4C635.5,683.5 635.4,683.6 635.2,683.7C635.1,683.8 634.9,683.8 634.8,683.9C634.6,684 634.5,684 634.3,684C634.1,684.1 634,684.1 633.8,684.1C633.7,684.1 633.5,684.1 633.3,684.1C633.2,684.1 633,684 632.9,684C632.7,683.9 632.5,683.9 632.4,683.8C632.2,683.7 632.1,683.7 632,683.6C631.8,683.5 631.7,683.4 631.5,683.3C631.4,683.1 631.3,683 631.2,682.9C631.1,682.7 631,682.6 630.9,682.5C630.8,682.3 630.7,682.1 630.6,682C630.5,681.8 630.5,681.6 630.4,681.5C630.4,681.3 630.3,681.1 630.3,680.9C630.2,680.8 630.2,680.6 630.2,680.4C630.2,680.2 630.2,680 630.2,679.8C630.2,679.6 630.2,679.4 630.3,679.3C630.3,679.1 630.4,678.9 630.4,678.7C630.5,678.6 630.5,678.4 630.6,678.2C630.7,678.1 630.8,677.9 630.9,677.7C631,677.6 631.1,677.5 631.2,677.3C631.3,677.2 631.4,677.1 631.5,676.9C631.7,676.8 631.8,676.7 632,676.6C632.1,676.5 632.2,676.5 632.4,676.4C632.5,676.3 632.7,676.3 632.9,676.2C633,676.2 633.2,676.1 633.3,676.1C633.5,676.1 633.7,676.1 633.8,676.1C634,676.1 634.1,676.1 634.3,676.2C634.5,676.2 634.6,676.2 634.8,676.3C634.9,676.4 635.1,676.4 635.2,676.5C635.4,676.6 635.5,676.7 635.7,676.8C635.8,676.9 635.9,677 636,677.1C636.2,677.3 636.3,677.5 636.4,677.5"/>
<path class="m" d="M648.0,667.0L678.0,660.0"/>
<path class="m" d="M648.0,670.6L678.0,663.6"/>
<path class="m" d="M648.0,674.2L678.0,667.2"/>
<path class="m" d="M648.0,677.8L678.0,670.8"/>
<path class="m" d="M648.0,681.4L678.0,674.4"/>
<path class="m" d="M648.0,685.0L678.0,678.0"/>
<path class="m" d="M648.0,688.6L678.0,681.6"/>
<path class="t" d="M641,665C641.5,666.7 643.3,671.7 644,675C644.7,678.3 645.2,682 645,685C644.8,688 643.3,691.7 643,693" style="stroke-dasharray:1.5 1.5;stroke-width:1.6"/>
<path class="k" d="M671,652.6C672,652.3 674.9,651.5 677,651C679.1,650.5 682.7,649.9 683.8,649.7"/>
<path class="m" d="M672,653C673,654.7 676.7,659.3 678,663C679.3,666.7 680,671.2 680,675C680,678.8 678.3,684.2 678,686"/>
<path class="t" d="M683.8,649.7C684.7,650.9 687.6,654 689,657C690.4,660 691.7,664.2 692,668C692.3,671.8 691.7,676.8 691,680C690.3,683.2 688.5,685.8 688,687"/>
<path class="t" d="M703.5,644.7C704.6,646.4 708.4,651.3 710,655C711.6,658.7 712.8,663.3 713.3,667C713.8,670.7 713.3,675.5 713.3,677.2"/>
<path class="ax" d="M459,725.6L535.5,707.2 M575.8,695.4L611,687 M625,684L640,680 M1053.6,571.8L1095,561 M1120,555L1210.4,530.9"/>
<path class="t" d="M470,737.4L474.3,733.2 M500,664L506,667"/>
<path class="k" d="M475.9,736.6C475.6,736 474.5,734.2 473.9,733C473.3,731.7 472.8,730.4 472.3,729.1C471.8,727.8 471.4,726.4 471,725C470.7,723.6 470.4,722.2 470.2,720.8C469.9,719.3 469.8,717.9 469.7,716.5C469.7,715 469.7,713.6 469.7,712.2C469.8,710.8 470,709.4 470.2,708.1C470.4,706.7 470.7,705.4 471,704.1C471.4,702.8 471.8,701.6 472.3,700.4C472.8,699.2 473.3,698.1 473.9,697.1C474.6,696 475.2,695 476,694.1C476.7,693.2 477.5,692.4 478.3,691.7C479.1,690.9 480,690.3 480.9,689.7C481.8,689.1 482.7,688.7 483.7,688.3C484.6,687.9 485.6,687.6 486.6,687.5C487.6,687.3 488.7,687.2 489.7,687.2C490.7,687.3 491.8,687.4 492.8,687.6C493.8,687.8 494.9,688.1 495.9,688.6C496.9,689 497.9,689.5 498.9,690.1C499.9,690.7 500.9,691.4 501.8,692.2C502.7,692.9 503.6,693.8 504.5,694.7C505.4,695.7 506.2,696.7 507,697.8C507.7,698.8 508.4,700 509.1,701.2C509.8,702.4 510.4,703.6 510.9,704.9C511.5,706.2 512,707.6 512.4,708.9C512.8,710.3 513.2,711.7 513.5,713.1C513.7,714.5 514,716 514.1,717.4C514.3,718.8 514.3,720.3 514.3,721.7C514.3,723.1 514.2,724.5 514.1,725.9C514,727.3 513.7,728.6 513.5,730C513.2,731.3 512.8,732.6 512.4,733.8C512,735 511.5,736.2 510.9,737.3C510.4,738.4 509.8,739.5 509.1,740.5C508.4,741.4 507.7,742.3 506.9,743.2C506.2,744 505.3,744.7 504.5,745.4C503.6,746 502.7,746.6 501.8,747.1C500.8,747.5 499.9,747.9 498.9,748.2C497.9,748.5 496.9,748.6 495.9,748.7C494.8,748.8 493.8,748.8 492.8,748.7C491.7,748.5 490.2,748.1 489.6,748" style="stroke-width:2.5"/>
<path class="t" d="M478.2,734.6C477.9,734.1 477,732.5 476.5,731.4C475.9,730.3 475.4,729.1 475,727.9C474.6,726.7 474.2,725.4 473.9,724.2C473.6,722.9 473.3,721.6 473.1,720.3C472.9,719.1 472.8,717.7 472.7,716.5C472.7,715.2 472.6,713.9 472.7,712.6C472.8,711.4 472.9,710.1 473.1,708.9C473.2,707.7 473.5,706.5 473.8,705.3C474.1,704.2 474.4,703.1 474.8,702C475.3,700.9 475.7,699.9 476.2,699C476.8,698.1 477.3,697.2 478,696.4C478.6,695.6 479.2,694.8 479.9,694.2C480.6,693.5 481.4,692.9 482.2,692.4C482.9,691.9 483.8,691.5 484.6,691.2C485.4,690.8 486.3,690.6 487.1,690.4C488,690.3 488.9,690.2 489.8,690.2C490.7,690.3 491.6,690.4 492.5,690.6C493.4,690.8 494.3,691.1 495.2,691.5C496.1,691.8 496.9,692.3 497.8,692.9C498.6,693.4 499.5,694.1 500.3,694.8C501.1,695.5 501.9,696.2 502.7,697.1C503.4,697.9 504.1,698.9 504.8,699.8C505.5,700.8 506.1,701.9 506.7,702.9C507.3,704 507.8,705.2 508.3,706.3C508.8,707.5 509.2,708.7 509.6,710C510,711.2 510.3,712.5 510.5,713.7C510.8,715 511,716.3 511.1,717.6C511.3,718.9 511.3,720.2 511.3,721.5C511.3,722.7 511.3,724 511.2,725.3C511.1,726.5 510.9,727.7 510.6,728.9C510.4,730.1 510.1,731.3 509.7,732.4C509.4,733.5 509,734.5 508.5,735.5C508,736.5 507.5,737.5 506.9,738.4C506.4,739.2 505.7,740.1 505.1,740.8C504.4,741.5 503.7,742.2 503,742.8C502.2,743.4 501.4,743.9 500.6,744.3C499.8,744.7 499,745 498.2,745.3C497.3,745.5 496.4,745.7 495.5,745.7C494.7,745.8 493.8,745.8 492.9,745.7C492,745.5 490.6,745.1 490.2,745"/>
<path class="k" d="M507.3,715.9C507.3,716.4 507.6,718.1 507.7,719.2C507.8,720.3 507.9,721.4 507.8,722.5C507.8,723.6 507.8,724.7 507.7,725.7C507.6,726.8 507.4,727.8 507.2,728.8C507,729.8 506.8,730.8 506.5,731.7C506.2,732.6 505.9,733.5 505.5,734.3C505.1,735.1 504.7,735.9 504.2,736.6C503.8,737.4 503.3,738 502.7,738.6C502.2,739.2 501.6,739.7 501,740.2C500.4,740.6 499.8,741 499.2,741.3C498.5,741.6 497.9,741.9 497.2,742C496.5,742.2 495.8,742.3 495.1,742.3C494.4,742.3 493.7,742.2 493,742.1C492.3,741.9 491.5,741.7 490.8,741.4C490.1,741.1 489.4,740.7 488.7,740.3C488,739.8 487.3,739.3 486.7,738.7C486,738.1 485.4,737.5 484.8,736.8C484.2,736.1 483.6,735.3 483,734.5C482.4,733.7 481.9,732.8 481.4,731.9C480.9,731 480.5,730 480,729C479.6,728 479.2,727 478.9,726C478.6,724.9 478.3,723.8 478.1,722.7C477.8,721.7 477.6,720.6 477.5,719.4C477.3,718.3 477.2,717.2 477.2,716.1C477.1,715 477.1,713.9 477.2,712.9C477.2,711.8 477.3,710.7 477.5,709.7C477.7,708.7 477.9,707.7 478.1,706.7C478.3,705.8 478.6,704.8 479,704C479.3,703.1 479.7,702.2 480.1,701.5C480.5,700.7 481,700 481.5,699.3C482,698.7 482.5,698.1 483.1,697.6C483.7,697 484.3,696.6 484.9,696.2C485.5,695.8 486.1,695.5 486.8,695.3C487.5,695 488.2,694.9 488.9,694.8C489.5,694.7 490.3,694.7 491,694.8C491.7,694.8 492.4,695 493.1,695.2C493.8,695.4 494.5,695.7 495.2,696.1C495.9,696.5 496.6,696.9 497.3,697.4C498,698 498.6,698.5 499.3,699.2C499.9,699.8 500.5,700.5 501.1,701.3C501.7,702.1 502.3,702.9 502.8,703.8C503.3,704.6 503.8,705.6 504.3,706.5C504.8,707.5 505.2,708.5 505.6,709.5C505.9,710.5 506.3,711.6 506.5,712.6C506.8,713.7 507.2,715.4 507.3,715.9"/>
<path class="k" d="M502,665.2C505,664.2 513.9,660.4 520,659C526.1,657.6 533.9,656.3 538.9,656.8C543.9,657.3 546.4,659.5 550,662C553.6,664.5 557.4,667.7 560.7,672C564,676.3 567.8,683 570,688C572.2,693 573.1,696.4 574.1,702.1C575.1,707.8 576.1,716.6 575.8,722.3C575.4,727.9 573.1,732.6 572,736C570.9,739.4 571.1,740.2 569.1,742.4C567.1,744.6 562.5,747.6 560,749C557.5,750.4 558.1,749.9 554,750.8C549.9,751.6 540.5,753.8 535.5,754.1C530.5,754.4 525.8,752.8 523.8,752.5" style="stroke-width:2.5"/>
<path class="k" d="M532.5,752.4C531.8,752.2 529.8,752 528.4,751.7C527.1,751.3 525.7,750.7 524.4,750.1C523,749.4 521.7,748.6 520.4,747.7C519.1,746.8 517.8,745.7 516.5,744.5C515.3,743.3 514.1,742 512.9,740.6C511.8,739.2 510.7,737.7 509.6,736.1C508.6,734.5 507.6,732.8 506.7,731C505.8,729.2 504.9,727.4 504.1,725.5C503.4,723.5 502.7,721.6 502.1,719.6C501.5,717.6 501,715.5 500.5,713.4C500.1,711.4 499.8,709.3 499.5,707.2C499.3,705.2 499.1,703.1 499.1,701C499,699 499.1,696.9 499.2,694.9C499.3,693 499.6,691 499.9,689.1C500.2,687.3 500.6,685.4 501.1,683.7C501.6,682 502.2,680.3 502.9,678.7C503.6,677.2 504.4,675.7 505.2,674.3C506,673 506.9,671.7 507.9,670.6C508.9,669.5 509.9,668.5 511,667.6C512.1,666.8 513.3,666 514.5,665.4C515.7,664.9 516.9,664.4 518.2,664.1C519.4,663.8 520.8,663.6 522.1,663.6C523.4,663.6 524.8,663.7 526.1,664C527.5,664.3 528.8,664.7 530.2,665.2C531.5,665.8 532.9,666.5 534.2,667.3C535.5,668.2 536.8,669.1 538.1,670.2C539.4,671.3 540.6,672.6 541.8,673.9C543,675.2 544.1,676.7 545.2,678.2C546.3,679.7 547.3,681.4 548.3,683.1C549.3,684.8 550.2,686.6 551,688.5C551.8,690.3 552.6,692.3 553.2,694.3C553.9,696.2 554.5,698.3 555,700.3C555.5,702.4 555.9,704.4 556.2,706.5C556.5,708.6 556.7,710.7 556.8,712.7C556.9,714.8 557,716.9 556.9,718.9C556.8,720.9 556.7,722.9 556.4,724.8C556.2,726.7 555.8,728.6 555.4,730.4C554.9,732.2 554.4,733.9 553.8,735.5C553.2,737.2 552.5,738.7 551.7,740.1C550.9,741.6 550.1,742.9 549.1,744.1C548.2,745.3 546.7,746.8 546.2,747.4" style="stroke-width:2.3"/>
<ellipse class="m" cx="503.6" cy="693.0" rx="3.2" ry="4.2" transform="rotate(-72 503.6 693.0)"/>
<ellipse class="m" cx="506.8" cy="681.1" rx="3.2" ry="4.2" transform="rotate(-51 506.8 681.1)"/>
<ellipse class="m" cx="512.9" cy="672.8" rx="3.2" ry="4.2" transform="rotate(-30 512.9 672.8)"/>
<ellipse class="m" cx="521.0" cy="669.2" rx="3.2" ry="4.2" transform="rotate(-9 521.0 669.2)"/>
<ellipse class="m" cx="530.0" cy="670.7" rx="3.2" ry="4.2" transform="rotate(12 530.0 670.7)"/>
<ellipse class="m" cx="538.8" cy="677.2" rx="3.2" ry="4.2" transform="rotate(33 538.8 677.2)"/>
<ellipse class="m" cx="546.1" cy="687.7" rx="3.2" ry="4.2" transform="rotate(54 546.1 687.7)"/>
<ellipse class="m" cx="551.0" cy="701.0" rx="3.2" ry="4.2" transform="rotate(75 551.0 701.0)"/>
<ellipse class="m" cx="552.9" cy="715.2" rx="3.2" ry="4.2" transform="rotate(96 552.9 715.2)"/>
<ellipse class="m" cx="551.4" cy="728.4" rx="3.2" ry="4.2" transform="rotate(117 551.4 728.4)"/>
<ellipse class="m" cx="546.9" cy="739.0" rx="3.2" ry="4.2" transform="rotate(138 546.9 739.0)"/>
<ellipse class="m" cx="539.8" cy="745.4" rx="3.2" ry="4.2" transform="rotate(159 539.8 745.4)"/>
<ellipse class="m" cx="531.2" cy="746.8" rx="3.2" ry="4.2" transform="rotate(180 531.2 746.8)"/>
<ellipse class="t" cx="528" cy="708" rx="20.5" ry="35" transform="rotate(-12 528 708)"/>
<ellipse class="k" cx="528.5" cy="709" rx="18" ry="32" transform="rotate(-12 528.5 709)"/>
<ellipse class="k" cx="529" cy="710" rx="14" ry="26" transform="rotate(-12 529 710)"/>
<path class="t" d="M525,690L530,715 L535,700"/>
<path class="k" d="M561.1,682.1C561.2,681.1 561.3,677.9 561.5,675.9C561.7,673.8 562.1,671.9 562.5,669.9C563,668 563.5,666.2 564.1,664.4C564.8,662.7 565.5,661 566.3,659.5C567.1,657.9 568,656.5 569,655.2C569.9,653.9 571,652.6 572.1,651.6C573.2,650.5 574.4,649.6 575.6,648.8C576.8,648 578.1,647.3 579.4,646.8C580.8,646.3 582.1,646 583.5,645.8C584.9,645.6 586.3,645.6 587.8,645.7C589.2,645.8 590.7,646 592.1,646.4C593.5,646.8 595,647.4 596.4,648.1C597.9,648.8 599.3,649.7 600.7,650.7C602.1,651.6 603.4,652.8 604.8,654C606.1,655.3 607.4,656.6 608.6,658.1C609.8,659.6 611,661.2 612.1,662.9C613.2,664.6 614.2,666.4 615.2,668.3C616.1,670.1 617,672.1 617.8,674.1C618.6,676.1 619.3,678.2 619.9,680.2C620.6,682.3 621.1,684.5 621.5,686.7C622,688.8 622.3,691 622.5,693.2C622.8,695.3 622.9,697.5 622.9,699.7C623,701.8 622.9,703.9 622.7,706C622.5,708.1 622.3,710.1 621.9,712.1C621.5,714 621,715.9 620.5,717.7C619.9,719.5 619.2,721.3 618.5,722.9C617.8,724.5 616.9,726 616,727.4C615.1,728.8 614.1,730.1 613,731.3C612,732.4 610.8,733.5 609.7,734.3C608.5,735.2 607.2,736 605.9,736.6C604.6,737.2 603.3,737.6 601.9,737.9C600.5,738.2 599.1,738.4 597.7,738.4C596.3,738.4 594.8,738.2 593.4,737.9C592,737.6 590.5,737.2 589.1,736.6C587.6,736 586.2,735.2 584.8,734.3C583.4,733.4 581.3,731.7 580.6,731.2" style="stroke-width:2.4"/>
<path class="m" d="M564.2,678.9C564.3,678 564.6,675.1 564.9,673.3C565.2,671.5 565.6,669.7 566.1,668C566.5,666.3 567.1,664.7 567.8,663.2C568.4,661.7 569.1,660.3 569.9,659C570.7,657.7 571.6,656.4 572.5,655.4C573.5,654.3 574.5,653.3 575.5,652.5C576.6,651.7 577.7,650.9 578.8,650.4C580,649.8 581.2,649.4 582.4,649.1C583.6,648.8 584.9,648.6 586.1,648.6C587.4,648.6 588.7,648.7 590,649C591.3,649.2 592.6,649.6 593.9,650.2C595.2,650.7 596.5,651.4 597.8,652.2C599,653 600.3,654 601.5,655C602.7,656.1 603.9,657.3 605.1,658.5C606.2,659.8 607.3,661.2 608.4,662.7C609.4,664.2 610.4,665.8 611.4,667.5C612.3,669.1 613.2,670.9 614,672.7C614.8,674.5 615.5,676.4 616.2,678.3C616.8,680.2 617.4,682.2 617.9,684.1C618.4,686.1 618.8,688.1 619.1,690.2C619.4,692.2 619.7,694.2 619.8,696.2C619.9,698.2 620,700.2 619.9,702.2C619.9,704.1 619.8,706.1 619.5,708C619.3,709.8 619,711.7 618.6,713.4C618.2,715.2 617.7,716.9 617.1,718.5C616.6,720.1 615.9,721.6 615.2,723C614.5,724.4 613.7,725.7 612.8,726.9C611.9,728.1 611,729.2 610,730.2C609,731.1 608,732 606.9,732.7C605.8,733.4 604.6,734 603.4,734.4C602.2,734.8 601,735.1 599.8,735.3C598.5,735.4 597.2,735.4 595.9,735.3C594.7,735.2 593.3,734.9 592.1,734.5C590.8,734.1 589.4,733.6 588.2,732.9C586.9,732.2 585,730.9 584.3,730.5"/>
<path class="k" d="M594,726L598,735 L604,733 L607,736 L608,729"/>
<path class="t" d="M612,652L615,645"/>
<path class="k" d="M1093.7,561.7C1093.7,562.2 1094.1,564 1094.2,565.1C1094.4,566.3 1094.4,567.4 1094.5,568.5C1094.5,569.7 1094.5,570.8 1094.4,571.9C1094.3,573 1094.2,574.1 1094,575.1C1093.8,576.2 1093.6,577.2 1093.3,578.2C1093,579.1 1092.7,580.1 1092.3,580.9C1092,581.8 1091.5,582.7 1091.1,583.4C1090.6,584.2 1090.1,584.9 1089.5,585.5C1089,586.2 1088.4,586.7 1087.8,587.2C1087.2,587.7 1086.5,588.2 1085.8,588.5C1085.2,588.9 1084.5,589.1 1083.7,589.3C1083,589.5 1082.3,589.6 1081.5,589.7C1080.8,589.7 1080,589.7 1079.3,589.5C1078.5,589.4 1077.7,589.2 1077,588.9C1076.2,588.6 1075.4,588.3 1074.7,587.8C1073.9,587.4 1073.2,586.9 1072.5,586.3C1071.7,585.7 1071,585.1 1070.4,584.4C1069.7,583.7 1069,582.9 1068.4,582.1C1067.8,581.2 1067.2,580.3 1066.6,579.4C1066.1,578.5 1065.5,577.5 1065.1,576.5C1064.6,575.5 1064.2,574.4 1063.8,573.3C1063.4,572.3 1063,571.1 1062.8,570C1062.5,568.9 1062.2,567.8 1062,566.6C1061.8,565.5 1061.7,564.3 1061.6,563.2C1061.5,562 1061.5,560.9 1061.5,559.8C1061.5,558.6 1061.6,557.5 1061.7,556.5C1061.9,555.4 1062.1,554.3 1062.3,553.3C1062.5,552.3 1062.8,551.3 1063.1,550.4C1063.5,549.5 1063.8,548.6 1064.3,547.8C1064.7,547 1065.2,546.2 1065.7,545.5C1066.2,544.8 1066.7,544.1 1067.3,543.6C1067.9,543 1068.5,542.5 1069.2,542.1C1069.8,541.7 1070.5,541.3 1071.2,541C1071.9,540.8 1072.6,540.6 1073.4,540.4C1074.1,540.3 1074.8,540.3 1075.6,540.3C1076.4,540.4 1077.1,540.5 1077.9,540.7C1078.7,540.9 1079.4,541.2 1080.2,541.6C1080.9,541.9 1081.7,542.4 1082.4,542.9C1083.2,543.4 1083.9,544 1084.6,544.6C1085.3,545.2 1086,546 1086.6,546.7C1087.3,547.5 1087.9,548.3 1088.5,549.2C1089.1,550.1 1089.7,551 1090.2,552C1090.7,553 1091.2,554 1091.6,555.1C1092,556.1 1092.4,557.2 1092.8,558.3C1093.1,559.4 1093.4,560.5 1093.7,561.7C1093.9,562.8 1094.1,564 1094.2,565.1C1094.4,566.3 1094.4,567.4 1094.5,568.5C1094.5,569.7 1094.5,570.8 1094.4,571.9C1094.3,573 1094.2,574.1 1094,575.1C1093.8,576.2 1093.4,577.7 1093.3,578.2" style="stroke-width:2.4"/>
<path class="m" d="M1091.1,564.2C1091.1,564.7 1091.3,566.2 1091.4,567.3C1091.5,568.3 1091.5,569.3 1091.5,570.3C1091.5,571.3 1091.4,572.3 1091.3,573.2C1091.2,574.1 1091.1,575.1 1090.9,576C1090.7,576.8 1090.4,577.7 1090.2,578.5C1089.9,579.3 1089.6,580.1 1089.2,580.8C1088.9,581.5 1088.5,582.1 1088,582.7C1087.6,583.3 1087.1,583.8 1086.6,584.3C1086.2,584.8 1085.6,585.2 1085.1,585.5C1084.6,585.8 1084,586.1 1083.4,586.3C1082.8,586.5 1082.2,586.6 1081.6,586.7C1081,586.7 1080.3,586.7 1079.7,586.6C1079.1,586.5 1078.4,586.3 1077.8,586.1C1077.2,585.9 1076.5,585.5 1075.9,585.2C1075.3,584.8 1074.6,584.3 1074,583.8C1073.4,583.3 1072.8,582.8 1072.2,582.1C1071.7,581.5 1071.1,580.8 1070.6,580.1C1070,579.3 1069.5,578.5 1069.1,577.7C1068.6,576.9 1068.1,576 1067.7,575.1C1067.3,574.2 1066.9,573.3 1066.6,572.3C1066.2,571.3 1065.9,570.3 1065.7,569.3C1065.4,568.3 1065.2,567.3 1065,566.3C1064.8,565.3 1064.7,564.2 1064.6,563.2C1064.5,562.2 1064.5,561.2 1064.5,560.2C1064.5,559.2 1064.5,558.2 1064.6,557.2C1064.7,556.3 1064.9,555.3 1065,554.5C1065.2,553.6 1065.4,552.7 1065.7,551.9C1066,551.1 1066.3,550.3 1066.6,549.6C1067,548.9 1067.4,548.2 1067.8,547.6C1068.2,547 1068.6,546.4 1069.1,545.9C1069.6,545.4 1070.1,545 1070.7,544.7C1071.2,544.3 1071.8,544 1072.3,543.8C1072.9,543.6 1073.5,543.4 1074.1,543.4C1074.7,543.3 1075.4,543.3 1076,543.4C1076.6,543.4 1077.3,543.6 1077.9,543.8C1078.5,544 1079.2,544.3 1079.8,544.7C1080.4,545 1081.1,545.4 1081.7,545.9C1082.3,546.4 1082.9,547 1083.5,547.6C1084.1,548.2 1084.6,548.9 1085.2,549.6C1085.7,550.3 1086.2,551.1 1086.7,551.9C1087.2,552.7 1087.7,553.6 1088.1,554.5C1088.5,555.4 1088.9,556.3 1089.3,557.3C1089.6,558.2 1089.9,559.2 1090.2,560.2C1090.5,561.2 1090.7,562.2 1090.9,563.2C1091.1,564.3 1091.2,565.3 1091.3,566.3C1091.4,567.3 1091.5,568.4 1091.5,569.4C1091.5,570.4 1091.5,571.4 1091.4,572.3C1091.3,573.3 1091.1,574.7 1091,575.1"/>
<path class="m" d="M1072,556L1074,564 M1077,553L1080,565 M1075,568L1078,578 M1081,570L1083,580"/>
<path class="k" d="M1075,588L1078,592 L1083,591"/>
<path class="t" d="M1081.5,595.3L1086.5,611.7"/>
<path class="k" d="M1074.4,544.6C1074.5,543.7 1074.8,541.2 1075.2,539.6C1075.5,538 1075.9,536.5 1076.4,535C1076.9,533.6 1077.5,532.2 1078.1,531C1078.8,529.7 1079.5,528.6 1080.2,527.5C1081,526.5 1081.8,525.5 1082.7,524.7C1083.6,523.9 1084.5,523.1 1085.5,522.6C1086.4,522 1087.4,521.5 1088.5,521.2C1089.5,520.9 1090.6,520.7 1091.7,520.6C1092.8,520.5 1093.9,520.6 1095,520.8C1096.1,521 1097.3,521.3 1098.4,521.8C1099.5,522.3 1100.7,522.9 1101.8,523.6C1102.9,524.3 1104,525.1 1105.1,526C1106.2,527 1107.2,528.1 1108.3,529.2C1109.3,530.4 1110.3,531.7 1111.2,533C1112.2,534.4 1113.1,535.8 1113.9,537.3C1114.8,538.9 1115.6,540.5 1116.3,542.1C1117,543.8 1117.7,545.5 1118.3,547.3C1118.9,549 1119.4,550.8 1119.9,552.7C1120.4,554.5 1120.8,556.4 1121.1,558.2C1121.4,560.1 1121.6,562 1121.8,563.8C1121.9,565.6 1122,567.5 1122,569.3C1122,571.1 1121.9,572.9 1121.7,574.6C1121.6,576.4 1121.3,578 1121,579.7C1120.7,581.3 1120.3,582.8 1119.8,584.3C1119.3,585.7 1118.8,587.1 1118.2,588.4C1117.5,589.7 1116.9,590.9 1116.1,592C1115.4,593.1 1114.6,594.1 1113.7,594.9C1112.9,595.8 1111.9,596.5 1111,597.2C1110,597.8 1109,598.3 1108,598.6C1107,599 1105.9,599.3 1104.8,599.4C1103.7,599.5 1102.6,599.4 1101.5,599.3C1100.4,599.1 1098.7,598.5 1098.1,598.4" style="stroke-width:2.4"/>
<path class="m" d="M1077.6,542.6C1077.7,541.9 1078.1,539.7 1078.5,538.3C1078.8,537 1079.2,535.6 1079.7,534.4C1080.2,533.2 1080.8,532.1 1081.4,531C1082,530 1082.6,529.1 1083.3,528.2C1084,527.4 1084.8,526.7 1085.6,526C1086.4,525.4 1087.2,524.9 1088.1,524.5C1089,524.1 1089.9,523.9 1090.8,523.7C1091.7,523.6 1092.7,523.5 1093.6,523.6C1094.6,523.7 1095.6,523.9 1096.6,524.2C1097.6,524.6 1098.6,525 1099.5,525.6C1100.5,526.1 1101.5,526.8 1102.5,527.6C1103.4,528.4 1104.4,529.3 1105.3,530.2C1106.2,531.2 1107.1,532.3 1108,533.5C1108.9,534.6 1109.7,535.9 1110.5,537.2C1111.3,538.6 1112,540 1112.7,541.5C1113.4,542.9 1114.1,544.5 1114.7,546C1115.3,547.6 1115.8,549.3 1116.3,550.9C1116.8,552.6 1117.2,554.3 1117.6,555.9C1117.9,557.6 1118.2,559.4 1118.5,561.1C1118.7,562.8 1118.8,564.5 1118.9,566.2C1119,567.8 1119,569.5 1119,571.1C1118.9,572.8 1118.8,574.4 1118.6,575.9C1118.5,577.4 1118.2,578.9 1117.9,580.3C1117.6,581.7 1117.2,583.1 1116.7,584.4C1116.3,585.6 1115.8,586.8 1115.2,587.9C1114.6,589 1114,590 1113.3,590.9C1112.6,591.8 1111.9,592.6 1111.2,593.3C1110.4,594 1109.6,594.6 1108.7,595.1C1107.9,595.5 1107,595.9 1106.1,596.1C1105.2,596.3 1104.2,596.4 1103.3,596.4C1102.3,596.4 1100.9,596.1 1100.4,596"/>
<path class="t" d="M1088,545L1091,558 M1094,543L1097,556 M1092,565L1095,575"/>
<path class="t" d="M1112,599L1115,611.7"/>
<path class="k" d="M1106.5,516.4C1108.4,515.7 1114,513 1118,512C1122,511 1125.8,509.2 1130.3,510.5C1134.8,511.8 1140.7,515.5 1145,520C1149.3,524.5 1153.5,531.3 1155.9,537.7C1158.3,544.1 1159.5,552 1159.3,558.2C1159.1,564.4 1157.8,569.9 1155,575C1152.2,580.1 1147.3,586 1142.3,588.9C1137.3,591.8 1128,591.7 1125.2,592.3" style="stroke-width:2.5"/>
<path class="k" d="M1110.8,519.1C1111.3,518.9 1112.6,518.2 1113.5,518C1114.4,517.7 1115.3,517.6 1116.3,517.6C1117.2,517.6 1118.2,517.7 1119.2,518C1120.2,518.2 1121.2,518.6 1122.2,519.1C1123.2,519.5 1124.2,520.2 1125.1,520.9C1126.1,521.6 1127.1,522.4 1128,523.4C1129,524.3 1129.9,525.4 1130.8,526.5C1131.7,527.6 1132.6,528.9 1133.5,530.2C1134.3,531.5 1135.1,532.9 1135.8,534.4C1136.6,535.9 1137.3,537.4 1137.9,539C1138.6,540.6 1139.2,542.3 1139.7,543.9C1140.3,545.6 1140.8,547.4 1141.2,549.1C1141.6,550.8 1141.9,552.6 1142.2,554.4C1142.5,556.1 1142.7,557.9 1142.9,559.6C1143,561.4 1143.1,563.1 1143.1,564.8C1143.1,566.5 1143,568.2 1142.9,569.8C1142.8,571.4 1142.6,573 1142.3,574.5C1142,576 1141.7,577.5 1141.3,578.8C1140.9,580.2 1140.4,581.5 1139.9,582.7C1139.4,583.8 1138.8,584.9 1138.1,585.9C1137.5,586.9 1136.8,587.8 1136,588.6C1135.3,589.4 1134.5,590 1133.7,590.6C1132.9,591.1 1132,591.5 1131.1,591.8C1130.2,592.1 1129.3,592.3 1128.3,592.4C1127.4,592.4 1126.4,592.4 1125.4,592.2C1124.4,592 1123.4,591.7 1122.4,591.2C1121.4,590.8 1120.4,590.2 1119.5,589.5C1118.5,588.9 1117.5,588.1 1116.5,587.2C1115.6,586.3 1114.6,585.3 1113.7,584.2C1112.8,583.1 1111.9,581.9 1111.1,580.6C1110.2,579.3 1109.4,577.9 1108.6,576.5C1107.9,575 1107.1,573.5 1106.5,571.9C1105.8,570.4 1105.2,568.7 1104.6,567.1C1104,565.4 1103.5,563.7 1103.1,561.9C1102.6,560.2 1102.3,558.5 1102,556.7C1101.6,554.9 1101.4,553.2 1101.2,551.4C1101.1,549.7 1101,547.1 1100.9,546.2" style="stroke-width:2.3"/>
<path class="k" d="M1113.8,523.1C1114.2,523 1115.3,522.7 1116,522.6C1116.8,522.5 1117.5,522.6 1118.3,522.7C1119.1,522.8 1119.9,523.1 1120.7,523.5C1121.5,523.8 1122.4,524.3 1123.2,524.8C1124,525.4 1124.8,526.1 1125.6,526.8C1126.4,527.6 1127.1,528.5 1127.9,529.4C1128.7,530.4 1129.4,531.4 1130.1,532.5C1130.8,533.6 1131.5,534.8 1132.2,536C1132.8,537.3 1133.4,538.6 1134,540C1134.6,541.3 1135.1,542.7 1135.6,544.2C1136.1,545.6 1136.5,547.1 1136.9,548.6C1137.3,550.1 1137.7,551.7 1138,553.2C1138.2,554.7 1138.5,556.3 1138.7,557.8C1138.8,559.3 1139,560.9 1139,562.4C1139.1,563.9 1139.1,565.3 1139.1,566.8C1139,568.2 1138.9,569.6 1138.7,570.9C1138.6,572.3 1138.4,573.6 1138.1,574.8C1137.8,576 1137.5,577.1 1137.1,578.2C1136.7,579.3 1136.3,580.3 1135.8,581.2C1135.3,582.1 1134.8,582.9 1134.3,583.6C1133.7,584.4 1133.1,585 1132.4,585.5C1131.8,586 1131.1,586.5 1130.4,586.8C1129.7,587.1 1129,587.3 1128.2,587.4C1127.5,587.5 1126.7,587.5 1125.9,587.3C1125.1,587.2 1124.3,587 1123.5,586.7C1122.7,586.3 1121.9,585.9 1121.1,585.3C1120.3,584.8 1119.5,584.1 1118.7,583.4C1117.9,582.6 1117.1,581.8 1116.3,580.9C1115.6,580 1114.8,578.9 1114.1,577.8C1113.4,576.8 1112.7,575.6 1112,574.3C1111.4,573.1 1110.8,571.8 1110.2,570.5C1109.6,569.1 1109.1,567.7 1108.6,566.3C1108.1,564.8 1107.6,563.3 1107.2,561.8C1106.8,560.3 1106.4,558.8 1106.1,557.3C1105.8,555.8 1105.5,553.4 1105.4,552.7" style="stroke-dasharray:2 2;stroke-width:2.4"/>
<path class="k" d="M1134.7,553.5C1134.8,554.1 1135.2,556 1135.4,557.2C1135.6,558.4 1135.7,559.7 1135.8,560.9C1135.9,562.1 1136,563.3 1136,564.5C1136,565.6 1136,566.8 1135.9,567.9C1135.9,569 1135.8,570.1 1135.6,571.1C1135.4,572.1 1135.3,573.1 1135,574C1134.8,574.9 1134.5,575.7 1134.2,576.5C1133.9,577.3 1133.6,578 1133.2,578.6C1132.8,579.3 1132.4,579.9 1132,580.3C1131.5,580.8 1131.1,581.2 1130.6,581.6C1130.1,581.9 1129.6,582.1 1129,582.3C1128.5,582.5 1127.9,582.5 1127.4,582.5C1126.8,582.5 1126.2,582.4 1125.6,582.2C1125,582 1124.4,581.8 1123.8,581.4C1123.2,581.1 1122.6,580.6 1122,580.1C1121.4,579.6 1120.8,579 1120.2,578.3C1119.6,577.7 1119,576.9 1118.5,576.1C1117.9,575.3 1117.3,574.5 1116.8,573.5C1116.3,572.6 1115.8,571.6 1115.3,570.6C1114.8,569.6 1114.3,568.5 1113.9,567.4C1113.5,566.3 1113.1,565.1 1112.7,563.9C1112.3,562.8 1112,561.5 1111.7,560.3C1111.4,559.1 1111.1,557.9 1110.9,556.6C1110.7,555.4 1110.5,554.2 1110.4,552.9C1110.2,551.7 1110.1,550.5 1110.1,549.3C1110,548.1 1110,546.9 1110,545.8C1110,544.7 1110.1,543.6 1110.2,542.5C1110.3,541.4 1110.5,540.4 1110.7,539.4C1110.8,538.5 1111.1,537.6 1111.3,536.7C1111.6,535.9 1111.9,535.1 1112.3,534.4C1112.6,533.7 1113,533 1113.4,532.4C1113.8,531.9 1114.2,531.4 1114.7,531C1115.2,530.6 1115.7,530.2 1116.2,530C1116.7,529.8 1117.2,529.6 1117.8,529.5C1118.4,529.4 1118.9,529.5 1119.5,529.6C1120.1,529.7 1120.7,529.8 1121.3,530.1C1121.9,530.4 1122.5,530.7 1123.1,531.2C1123.7,531.6 1124.3,532.1 1124.9,532.7C1125.5,533.3 1126.1,534 1126.7,534.7C1127.3,535.4 1127.8,536.2 1128.4,537.1C1128.9,538 1129.5,538.9 1130,539.9C1130.5,540.9 1131,541.9 1131.4,543C1131.9,544.1 1132.3,545.2 1132.7,546.3C1133.1,547.5 1133.5,548.7 1133.8,549.9C1134.2,551.1 1134.6,552.9 1134.7,553.5"/>
<path class="m" d="M1132.8,555.1C1132.9,555.6 1133.2,557.1 1133.3,558C1133.5,559 1133.6,559.9 1133.7,560.9C1133.7,561.8 1133.8,562.7 1133.8,563.6C1133.8,564.6 1133.8,565.4 1133.8,566.3C1133.7,567.2 1133.7,568 1133.6,568.8C1133.4,569.6 1133.3,570.3 1133.1,571C1133,571.7 1132.8,572.4 1132.5,573C1132.3,573.6 1132.1,574.1 1131.8,574.6C1131.5,575.1 1131.2,575.6 1130.9,576C1130.5,576.3 1130.2,576.7 1129.8,576.9C1129.5,577.2 1129.1,577.3 1128.7,577.5C1128.3,577.6 1127.8,577.6 1127.4,577.6C1127,577.6 1126.6,577.5 1126.1,577.4C1125.7,577.2 1125.2,577 1124.8,576.7C1124.3,576.5 1123.8,576.1 1123.4,575.7C1122.9,575.3 1122.5,574.9 1122,574.3C1121.6,573.8 1121.1,573.2 1120.7,572.6C1120.3,572 1119.8,571.3 1119.4,570.6C1119,569.9 1118.6,569.1 1118.3,568.3C1117.9,567.5 1117.6,566.6 1117.2,565.8C1116.9,564.9 1116.6,564 1116.3,563.1C1116,562.2 1115.8,561.2 1115.5,560.3C1115.3,559.4 1115.1,558.4 1114.9,557.4C1114.7,556.5 1114.6,555.5 1114.5,554.6C1114.4,553.6 1114.3,552.7 1114.2,551.7C1114.2,550.8 1114.2,549.9 1114.2,549C1114.2,548.1 1114.2,547.3 1114.3,546.4C1114.4,545.6 1114.5,544.8 1114.6,544.1C1114.8,543.3 1114.9,542.6 1115.1,542C1115.3,541.3 1115.6,540.7 1115.8,540.1C1116.1,539.6 1116.4,539.1 1116.7,538.7C1117,538.2 1117.3,537.8 1117.6,537.5C1118,537.2 1118.4,537 1118.7,536.8C1119.1,536.6 1119.5,536.5 1119.9,536.4C1120.4,536.4 1120.8,536.4 1121.2,536.4C1121.7,536.5 1122.1,536.7 1122.6,536.9C1123,537.1 1123.5,537.4 1123.9,537.7C1124.4,538.1 1124.9,538.5 1125.3,538.9C1125.8,539.4 1126.2,539.9 1126.6,540.5C1127.1,541.1 1127.5,541.7 1127.9,542.4C1128.4,543 1128.8,543.8 1129.2,544.5C1129.5,545.3 1129.9,546.1 1130.3,546.9C1130.6,547.8 1131,548.6 1131.3,549.5C1131.6,550.4 1131.9,551.4 1132.1,552.3C1132.4,553.2 1132.7,554.7 1132.8,555.1"/>
<path class="t" d="M1144.8,590.6L1147.4,600.8"/>
<path class="k" d="M1142.8,527.4C1143,526.7 1143.5,524.4 1143.9,523C1144.3,521.6 1144.8,520.2 1145.3,519C1145.9,517.7 1146.5,516.5 1147.2,515.5C1147.8,514.4 1148.6,513.4 1149.4,512.5C1150.1,511.7 1151,510.9 1151.8,510.2C1152.7,509.6 1153.6,509.1 1154.6,508.6C1155.6,508.2 1156.5,507.9 1157.6,507.7C1158.6,507.6 1159.6,507.5 1160.7,507.6C1161.7,507.6 1162.8,507.8 1163.8,508.1C1164.9,508.5 1166,508.9 1167.1,509.4C1168.1,510 1169.2,510.7 1170.2,511.4C1171.3,512.2 1172.3,513.1 1173.3,514.1C1174.3,515.1 1175.3,516.2 1176.2,517.3C1177.1,518.5 1178,519.8 1178.9,521.1C1179.7,522.5 1180.5,523.9 1181.3,525.4C1182,526.9 1182.7,528.4 1183.4,530C1184,531.6 1184.6,533.3 1185.1,535C1185.6,536.7 1186.1,538.4 1186.5,540.1C1186.8,541.9 1187.1,543.6 1187.4,545.4C1187.6,547.1 1187.8,548.9 1187.9,550.6C1187.9,552.3 1187.9,554 1187.9,555.7C1187.8,557.4 1187.7,559 1187.5,560.6C1187.3,562.2 1187,563.8 1186.6,565.2C1186.2,566.7 1185.8,568.1 1185.3,569.4C1184.8,570.7 1184.3,572 1183.6,573.2C1183,574.3 1182.3,575.4 1181.6,576.3C1180.9,577.3 1180.1,578.1 1179.2,578.9C1178.4,579.6 1177.5,580.3 1176.6,580.8C1175.6,581.3 1174.7,581.7 1173.7,582C1172.7,582.3 1171.7,582.4 1170.6,582.4C1169.6,582.5 1168.5,582.4 1167.5,582.2C1166.4,582 1165.3,581.6 1164.3,581.2C1163.2,580.7 1161.6,579.8 1161.1,579.5" style="stroke-width:2.4"/>
<path class="m" d="M1146.1,526C1146.3,525.4 1146.8,523.3 1147.2,522.1C1147.6,520.9 1148.1,519.7 1148.7,518.7C1149.2,517.6 1149.8,516.6 1150.5,515.7C1151.1,514.9 1151.8,514.1 1152.6,513.4C1153.3,512.8 1154.1,512.2 1154.9,511.8C1155.8,511.3 1156.6,511 1157.5,510.8C1158.4,510.6 1159.3,510.5 1160.2,510.5C1161.2,510.6 1162.1,510.7 1163.1,511C1164,511.2 1165,511.6 1165.9,512.1C1166.9,512.6 1167.8,513.2 1168.8,513.9C1169.7,514.7 1170.6,515.5 1171.5,516.4C1172.4,517.3 1173.3,518.3 1174.2,519.4C1175,520.5 1175.8,521.7 1176.6,523C1177.4,524.3 1178.1,525.6 1178.8,527C1179.5,528.4 1180.1,529.9 1180.7,531.4C1181.3,532.9 1181.9,534.5 1182.3,536.1C1182.8,537.7 1183.2,539.3 1183.6,541C1183.9,542.6 1184.2,544.2 1184.4,545.9C1184.6,547.5 1184.8,549.2 1184.9,550.8C1185,552.4 1185,554 1184.9,555.6C1184.9,557.2 1184.8,558.7 1184.6,560.2C1184.4,561.7 1184.1,563.1 1183.8,564.5C1183.5,565.8 1183.1,567.1 1182.7,568.3C1182.2,569.5 1181.7,570.7 1181.1,571.7C1180.6,572.8 1180,573.7 1179.3,574.6C1178.6,575.4 1177.9,576.2 1177.2,576.8C1176.4,577.4 1175.6,578 1174.8,578.4C1173.9,578.8 1173.1,579.1 1172.2,579.3C1171.3,579.4 1170.4,579.5 1169.4,579.4C1168.5,579.4 1167.6,579.2 1166.6,578.9C1165.7,578.6 1164.2,577.9 1163.7,577.7"/>
<path class="t" d="M1160,535L1163,550 M1166,537L1168,552"/>
<path class="t" d="M1176.4,582L1179,588.9"/>
<path class="k" d="M1176.6,521.3C1176.8,520.9 1177.4,519.6 1177.8,518.9C1178.3,518.2 1178.8,517.5 1179.3,516.9C1179.8,516.3 1180.4,515.8 1181,515.4C1181.5,514.9 1182.2,514.5 1182.8,514.2C1183.5,513.9 1184.1,513.7 1184.8,513.5C1185.5,513.4 1186.2,513.3 1186.9,513.4C1187.6,513.4 1188.3,513.5 1189,513.6C1189.8,513.8 1190.5,514.1 1191.2,514.4C1191.9,514.7 1192.7,515.1 1193.4,515.6C1194.1,516.1 1194.8,516.6 1195.4,517.3C1196.1,517.9 1196.8,518.6 1197.4,519.3C1198.1,520.1 1198.7,520.9 1199.3,521.7C1199.8,522.6 1200.4,523.5 1200.9,524.5C1201.4,525.4 1201.9,526.4 1202.3,527.5C1202.8,528.5 1203.2,529.6 1203.5,530.7C1203.9,531.8 1204.2,532.9 1204.5,534C1204.7,535.2 1205,536.3 1205.1,537.5C1205.3,538.6 1205.4,539.8 1205.5,540.9C1205.6,542 1205.6,543.2 1205.6,544.3C1205.5,545.4 1205.4,546.5 1205.3,547.5C1205.2,548.6 1205,549.6 1204.8,550.6C1204.5,551.6 1204.3,552.5 1203.9,553.4C1203.6,554.3 1203.2,555.2 1202.8,556C1202.4,556.7 1202,557.5 1201.5,558.1C1201,558.8 1200.5,559.4 1199.9,559.9C1199.3,560.4 1198.8,560.9 1198.1,561.3C1197.5,561.6 1196.9,562 1196.2,562.2C1195.5,562.4 1194.9,562.5 1194.2,562.6C1193.5,562.7 1192.7,562.7 1192,562.6C1191.3,562.5 1190.2,562.1 1189.9,562" style="stroke-width:2.4"/>
<path class="m" d="M1179.2,521.5C1179.3,521.1 1179.9,520.1 1180.3,519.5C1180.7,518.9 1181.2,518.4 1181.7,518C1182.2,517.5 1182.7,517.1 1183.2,516.8C1183.7,516.5 1184.3,516.3 1184.9,516.1C1185.4,515.9 1186,515.9 1186.6,515.8C1187.2,515.8 1187.9,515.9 1188.5,516C1189.1,516.2 1189.7,516.4 1190.4,516.7C1191,517 1191.6,517.3 1192.2,517.8C1192.8,518.2 1193.5,518.7 1194,519.2C1194.6,519.8 1195.2,520.4 1195.8,521.1C1196.3,521.8 1196.9,522.6 1197.4,523.4C1197.9,524.1 1198.4,525 1198.9,525.9C1199.3,526.8 1199.8,527.7 1200.2,528.7C1200.5,529.6 1200.9,530.6 1201.2,531.6C1201.5,532.6 1201.8,533.7 1202.1,534.7C1202.3,535.8 1202.5,536.8 1202.7,537.9C1202.8,538.9 1202.9,540 1203,541C1203.1,542.1 1203.1,543.1 1203.1,544.2C1203.1,545.2 1203,546.2 1202.9,547.1C1202.8,548.1 1202.6,549 1202.4,549.9C1202.2,550.8 1202,551.7 1201.7,552.5C1201.4,553.3 1201.1,554 1200.8,554.7C1200.4,555.4 1200,556.1 1199.6,556.6C1199.2,557.2 1198.7,557.7 1198.2,558.2C1197.7,558.6 1197.2,559 1196.7,559.3C1196.1,559.6 1195.6,559.8 1195,559.9C1194.4,560.1 1193.8,560.2 1193.2,560.2C1192.6,560.2 1191.7,560 1191.4,559.9"/>
<path class="k" d="M1191.7,558L1194,563 L1198.5,562"/>
<path class="t" d="M1200.2,561.6L1208.7,578.6"/>
<path class="f" d="M1163,97 L1188,92 L1193,99 L1189,107 L1170,111 L1163,106Z"/>
<path class="kw" d="M1175.7,59 L1213.6,60 L1214.7,63.4 L1175.7,62.8Z" style="stroke-width:1.8"/>
<path class="k" d="M1175.7,62.8L1172.9,81.8 M1193.5,64.5L1190.7,99 M1205.8,64.5L1206.9,81.2 M1214.7,63.4L1218,80" style="stroke-width:2"/>
<path class="k" d="M1172.9,81.8L1228,82.3 L1229.2,87.9 M1218,80L1227,81" style="stroke-width:2"/>
<path class="m" d="M1206,82L1198,95 M1200,82L1194,94"/>
<ellipse class="kw" cx="1148.4" cy="104.6" rx="7.8" ry="12.8" transform="rotate(-10 1148.4 104.6)" style="stroke-width:2.2"/>
<ellipse class="m" cx="1149" cy="105" rx="3.5" ry="7" transform="rotate(-10 1149 105)"/>
<path class="kw" d="M1145.6,89 L1163.4,85.7 L1188,83.4 L1188,90.1 L1163.4,93.5 L1150,92Z" style="stroke-width:1.8"/>
<path class="kw" d="M1150.6,90.1L1161.2,91.2 L1160,110 L1152,110Z" style="stroke-width:1.8"/>
<path class="m" d="M1152,95L1159,96 M1152,100L1159,101"/>
<ellipse class="kw" cx="1217" cy="102.4" rx="12" ry="16.2" transform="rotate(-10 1217 102.4)" style="stroke-width:2.4"/>
<ellipse class="m" cx="1215" cy="102" rx="6.5" ry="9.5" transform="rotate(-10 1215 102)"/>
<ellipse class="m" cx="1214.5" cy="102" rx="2.5" ry="3.5" transform="rotate(-10 1214.5 102)"/>
<ellipse class="kw" cx="1179" cy="113.5" rx="12.3" ry="14.5" transform="rotate(-10 1179 113.5)" style="stroke-width:2.4"/>
<ellipse class="m" cx="1178" cy="114" rx="6.5" ry="8.5" transform="rotate(-10 1178 114)"/>
<ellipse class="m" cx="1177.5" cy="114" rx="2.5" ry="3.5" transform="rotate(-10 1177.5 114)"/>
<path class="kw" d="M1196,100L1203,98 L1203,108 L1196,110Z" style="stroke-width:1.5"/>
<g class="lb">
<text x="260.0" y="214.7">1</text>
<text x="239.0" y="39.7">2</text>
<text x="191.0" y="23.7">3</text>
<text x="35.0" y="182.2">4</text>
<text x="12.5" y="107.2">5</text>
<text x="492.5" y="358.7">6</text>
<text x="270.5" y="329.7">7</text>
<text x="368.8" y="389.7">8</text>
<text x="224.5" y="302.2">9</text>
<text x="390.8" y="183.7">11</text>
<text x="447.5" y="167.2">12</text>
<text x="487.0" y="159.7">13</text>
<text x="530.5" y="148.7">14</text>
<text x="618.6" y="111.0">15</text>
<text x="686.5" y="77.7">16</text>
<text x="730.5" y="65.7">17</text>
<text x="790.5" y="50.7">18</text>
<text x="839.5" y="24.7">19</text>
<text x="231.0" y="498.7">20</text>
<text x="277.0" y="482.7">21</text>
<text x="326.5" y="470.7">22</text>
<text x="46.9" y="712.7">25</text>
<text x="88.3" y="706.7">26</text>
<text x="206.2" y="670.9">27</text>
<text x="57.9" y="614.7">28</text>
<text x="113.5" y="554.7">29</text>
<text x="395.0" y="516.7">30</text>
<text x="445.2" y="509.2">31</text>
<text x="545.8" y="425.7">32</text>
<text x="886.8" y="371.7">33</text>
<text x="927.0" y="355.9">34</text>
<text x="990.8" y="347.2">35</text>
<text x="1040.2" y="340.7">36</text>
<text x="1088.2" y="323.7">36</text>
<text x="1140.8" y="289.7">37</text>
<text x="1204.4" y="303.7">36</text>
<text x="461.8" y="753.1">38</text>
<text x="488.6" y="669.7">39</text>
<text x="610.5" y="640.7">40</text>
<text x="844.6" y="677.2">45</text>
<text x="1116.0" y="629.7">46</text>
<text x="1184.9" y="606.4">46</text>
<text x="1083.5" y="628.4">47</text>
<text x="1220.6" y="590.4">47</text>
<text x="1149.8" y="619.0">48</text>
<text x="730.0" y="361.7">49</text>
<text x="688.5" y="373.7">50</text>
<text x="627.9" y="566.4">51</text>
<text x="701.0" y="530.7">52</text>

</g>
<circle cx="901.3" cy="503.2" r="14.1" fill="#fa2a2a"/>
<text x="901.2" y="509" font-family="Liberation Sans, sans-serif" font-weight="bold" font-size="18" fill="#fff" text-anchor="middle">54</text>
</svg>
</body></html>
